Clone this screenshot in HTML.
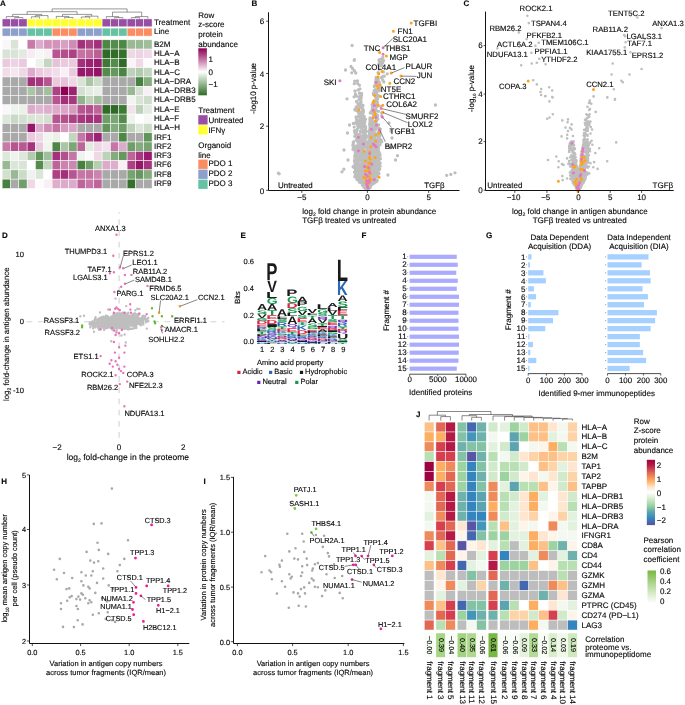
<!DOCTYPE html>
<html><head><meta charset="utf-8"><title>Figure</title>
<style>html,body{margin:0;padding:0;background:#fff}svg{display:block}text{font-family:"Liberation Sans",sans-serif;text-rendering:geometricPrecision;stroke:#000;stroke-width:0.13px}</style></head>
<body>
<svg width="685" height="705" viewBox="0 0 685 705" fill="#0a0a0a">
<rect width="685" height="705" fill="#fff"/>
<!-- Panel A -->
<text x="0.00" y="5.80" font-size="8" font-weight="bold">A</text>
<g stroke="#fff" stroke-width="0.5">
<rect x="2.15" y="18.90" width="8.33" height="7.90" fill="#984ea3"/>
<rect x="2.15" y="28.10" width="8.33" height="8.00" fill="#8da0cb"/>
<rect x="10.48" y="18.90" width="8.33" height="7.90" fill="#984ea3"/>
<rect x="10.48" y="28.10" width="8.33" height="8.00" fill="#8da0cb"/>
<rect x="18.81" y="18.90" width="8.33" height="7.90" fill="#984ea3"/>
<rect x="18.81" y="28.10" width="8.33" height="8.00" fill="#8da0cb"/>
<rect x="27.14" y="18.90" width="8.33" height="7.90" fill="#ffff33"/>
<rect x="27.14" y="28.10" width="8.33" height="8.00" fill="#66c2a5"/>
<rect x="35.47" y="18.90" width="8.33" height="7.90" fill="#ffff33"/>
<rect x="35.47" y="28.10" width="8.33" height="8.00" fill="#66c2a5"/>
<rect x="43.80" y="18.90" width="8.33" height="7.90" fill="#ffff33"/>
<rect x="43.80" y="28.10" width="8.33" height="8.00" fill="#66c2a5"/>
<rect x="52.13" y="18.90" width="8.33" height="7.90" fill="#ffff33"/>
<rect x="52.13" y="28.10" width="8.33" height="8.00" fill="#fc8d62"/>
<rect x="60.46" y="18.90" width="8.33" height="7.90" fill="#ffff33"/>
<rect x="60.46" y="28.10" width="8.33" height="8.00" fill="#fc8d62"/>
<rect x="68.79" y="18.90" width="8.33" height="7.90" fill="#ffff33"/>
<rect x="68.79" y="28.10" width="8.33" height="8.00" fill="#fc8d62"/>
<rect x="77.12" y="18.90" width="8.33" height="7.90" fill="#ffff33"/>
<rect x="77.12" y="28.10" width="8.33" height="8.00" fill="#8da0cb"/>
<rect x="85.45" y="18.90" width="8.33" height="7.90" fill="#ffff33"/>
<rect x="85.45" y="28.10" width="8.33" height="8.00" fill="#8da0cb"/>
<rect x="93.78" y="18.90" width="8.33" height="7.90" fill="#ffff33"/>
<rect x="93.78" y="28.10" width="8.33" height="8.00" fill="#8da0cb"/>
<rect x="102.11" y="18.90" width="8.33" height="7.90" fill="#984ea3"/>
<rect x="102.11" y="28.10" width="8.33" height="8.00" fill="#66c2a5"/>
<rect x="110.44" y="18.90" width="8.33" height="7.90" fill="#984ea3"/>
<rect x="110.44" y="28.10" width="8.33" height="8.00" fill="#66c2a5"/>
<rect x="118.77" y="18.90" width="8.33" height="7.90" fill="#984ea3"/>
<rect x="118.77" y="28.10" width="8.33" height="8.00" fill="#66c2a5"/>
<rect x="127.10" y="18.90" width="8.33" height="7.90" fill="#984ea3"/>
<rect x="127.10" y="28.10" width="8.33" height="8.00" fill="#fc8d62"/>
<rect x="135.43" y="18.90" width="8.33" height="7.90" fill="#984ea3"/>
<rect x="135.43" y="28.10" width="8.33" height="8.00" fill="#fc8d62"/>
<rect x="143.76" y="18.90" width="8.33" height="7.90" fill="#984ea3"/>
<rect x="143.76" y="28.10" width="8.33" height="8.00" fill="#fc8d62"/>
<rect x="2.15" y="39.80" width="8.33" height="9.29" fill="#fbf6f9"/>
<rect x="10.48" y="39.80" width="8.33" height="9.29" fill="#d9e4d6"/>
<rect x="18.81" y="39.80" width="8.33" height="9.29" fill="#ffffff"/>
<rect x="27.14" y="39.80" width="8.33" height="9.29" fill="#c77aa8"/>
<rect x="35.47" y="39.80" width="8.33" height="9.29" fill="#dcaaca"/>
<rect x="43.80" y="39.80" width="8.33" height="9.29" fill="#d292b9"/>
<rect x="52.13" y="39.80" width="8.33" height="9.29" fill="#d292b9"/>
<rect x="60.46" y="39.80" width="8.33" height="9.29" fill="#d8a0c3"/>
<rect x="68.79" y="39.80" width="8.33" height="9.29" fill="#cf8db6"/>
<rect x="77.12" y="39.80" width="8.33" height="9.29" fill="#a3307a"/>
<rect x="85.45" y="39.80" width="8.33" height="9.29" fill="#ac4284"/>
<rect x="93.78" y="39.80" width="8.33" height="9.29" fill="#a3307a"/>
<rect x="102.11" y="39.80" width="8.33" height="9.29" fill="#4d8746"/>
<rect x="110.44" y="39.80" width="8.33" height="9.29" fill="#548c4d"/>
<rect x="118.77" y="39.80" width="8.33" height="9.29" fill="#4d8746"/>
<rect x="127.10" y="39.80" width="8.33" height="9.29" fill="#98b993"/>
<rect x="135.43" y="39.80" width="8.33" height="9.29" fill="#98b993"/>
<rect x="143.76" y="39.80" width="8.33" height="9.29" fill="#9fbe9b"/>
<rect x="2.15" y="49.09" width="8.33" height="9.29" fill="#d9e4d6"/>
<rect x="10.48" y="49.09" width="8.33" height="9.29" fill="#d9e4d6"/>
<rect x="18.81" y="49.09" width="8.33" height="9.29" fill="#e3ebe0"/>
<rect x="27.14" y="49.09" width="8.33" height="9.29" fill="#f7ecf3"/>
<rect x="35.47" y="49.09" width="8.33" height="9.29" fill="#f6f8f5"/>
<rect x="43.80" y="49.09" width="8.33" height="9.29" fill="#f9f0f5"/>
<rect x="52.13" y="49.09" width="8.33" height="9.29" fill="#b6558f"/>
<rect x="60.46" y="49.09" width="8.33" height="9.29" fill="#b24e8b"/>
<rect x="68.79" y="49.09" width="8.33" height="9.29" fill="#ac4284"/>
<rect x="77.12" y="49.09" width="8.33" height="9.29" fill="#c473a3"/>
<rect x="85.45" y="49.09" width="8.33" height="9.29" fill="#c26fa0"/>
<rect x="93.78" y="49.09" width="8.33" height="9.29" fill="#bb6096"/>
<rect x="102.11" y="49.09" width="8.33" height="9.29" fill="#2f6b27"/>
<rect x="110.44" y="49.09" width="8.33" height="9.29" fill="#326e2a"/>
<rect x="118.77" y="49.09" width="8.33" height="9.29" fill="#35712d"/>
<rect x="127.10" y="49.09" width="8.33" height="9.29" fill="#efd8e6"/>
<rect x="135.43" y="49.09" width="8.33" height="9.29" fill="#edd3e3"/>
<rect x="143.76" y="49.09" width="8.33" height="9.29" fill="#f0dae8"/>
<rect x="2.15" y="58.38" width="8.33" height="9.29" fill="#eacbde"/>
<rect x="10.48" y="58.38" width="8.33" height="9.29" fill="#edd3e3"/>
<rect x="18.81" y="58.38" width="8.33" height="9.29" fill="#eacbde"/>
<rect x="27.14" y="58.38" width="8.33" height="9.29" fill="#ffffff"/>
<rect x="35.47" y="58.38" width="8.33" height="9.29" fill="#edf2eb"/>
<rect x="43.80" y="58.38" width="8.33" height="9.29" fill="#c3d6bf"/>
<rect x="52.13" y="58.38" width="8.33" height="9.29" fill="#e6c3d9"/>
<rect x="60.46" y="58.38" width="8.33" height="9.29" fill="#eacbde"/>
<rect x="68.79" y="58.38" width="8.33" height="9.29" fill="#eacbde"/>
<rect x="77.12" y="58.38" width="8.33" height="9.29" fill="#a3307a"/>
<rect x="85.45" y="58.38" width="8.33" height="9.29" fill="#9c2372"/>
<rect x="93.78" y="58.38" width="8.33" height="9.29" fill="#991b6d"/>
<rect x="102.11" y="58.38" width="8.33" height="9.29" fill="#3e7936"/>
<rect x="110.44" y="58.38" width="8.33" height="9.29" fill="#548c4d"/>
<rect x="118.77" y="58.38" width="8.33" height="9.29" fill="#2f6b27"/>
<rect x="127.10" y="58.38" width="8.33" height="9.29" fill="#faf4f8"/>
<rect x="135.43" y="58.38" width="8.33" height="9.29" fill="#f0dae8"/>
<rect x="143.76" y="58.38" width="8.33" height="9.29" fill="#fdfbfd"/>
<rect x="2.15" y="67.67" width="8.33" height="9.29" fill="#f1dde9"/>
<rect x="10.48" y="67.67" width="8.33" height="9.29" fill="#f5e7f0"/>
<rect x="18.81" y="67.67" width="8.33" height="9.29" fill="#efd8e6"/>
<rect x="27.14" y="67.67" width="8.33" height="9.29" fill="#dcaaca"/>
<rect x="35.47" y="67.67" width="8.33" height="9.29" fill="#eacbde"/>
<rect x="43.80" y="67.67" width="8.33" height="9.29" fill="#edd3e3"/>
<rect x="52.13" y="67.67" width="8.33" height="9.29" fill="#f1dde9"/>
<rect x="60.46" y="67.67" width="8.33" height="9.29" fill="#f9f0f5"/>
<rect x="68.79" y="67.67" width="8.33" height="9.29" fill="#eacbde"/>
<rect x="77.12" y="67.67" width="8.33" height="9.29" fill="#96166a"/>
<rect x="85.45" y="67.67" width="8.33" height="9.29" fill="#991b6d"/>
<rect x="93.78" y="67.67" width="8.33" height="9.29" fill="#941265"/>
<rect x="102.11" y="67.67" width="8.33" height="9.29" fill="#548c4d"/>
<rect x="110.44" y="67.67" width="8.33" height="9.29" fill="#65975e"/>
<rect x="118.77" y="67.67" width="8.33" height="9.29" fill="#4a8443"/>
<rect x="127.10" y="67.67" width="8.33" height="9.29" fill="#bdd2b9"/>
<rect x="135.43" y="67.67" width="8.33" height="9.29" fill="#b2caae"/>
<rect x="143.76" y="67.67" width="8.33" height="9.29" fill="#c3d6bf"/>
<rect x="2.15" y="76.96" width="8.33" height="9.29" fill="#a9a9a9"/>
<rect x="10.48" y="76.96" width="8.33" height="9.29" fill="#a9a9a9"/>
<rect x="18.81" y="76.96" width="8.33" height="9.29" fill="#a9a9a9"/>
<rect x="27.14" y="76.96" width="8.33" height="9.29" fill="#a3307a"/>
<rect x="35.47" y="76.96" width="8.33" height="9.29" fill="#a7377e"/>
<rect x="43.80" y="76.96" width="8.33" height="9.29" fill="#b6558f"/>
<rect x="52.13" y="76.96" width="8.33" height="9.29" fill="#eacbde"/>
<rect x="60.46" y="76.96" width="8.33" height="9.29" fill="#e6c3d9"/>
<rect x="68.79" y="76.96" width="8.33" height="9.29" fill="#efd8e6"/>
<rect x="77.12" y="76.96" width="8.33" height="9.29" fill="#d9e4d6"/>
<rect x="85.45" y="76.96" width="8.33" height="9.29" fill="#aac6a6"/>
<rect x="93.78" y="76.96" width="8.33" height="9.29" fill="#cbdbc8"/>
<rect x="102.11" y="76.96" width="8.33" height="9.29" fill="#a9a9a9"/>
<rect x="110.44" y="76.96" width="8.33" height="9.29" fill="#a9a9a9"/>
<rect x="118.77" y="76.96" width="8.33" height="9.29" fill="#a9a9a9"/>
<rect x="127.10" y="76.96" width="8.33" height="9.29" fill="#a9a9a9"/>
<rect x="135.43" y="76.96" width="8.33" height="9.29" fill="#478140"/>
<rect x="143.76" y="76.96" width="8.33" height="9.29" fill="#84ac7e"/>
<rect x="2.15" y="86.25" width="8.33" height="9.29" fill="#a9a9a9"/>
<rect x="10.48" y="86.25" width="8.33" height="9.29" fill="#a9a9a9"/>
<rect x="18.81" y="86.25" width="8.33" height="9.29" fill="#a9a9a9"/>
<rect x="27.14" y="86.25" width="8.33" height="9.29" fill="#aac6a6"/>
<rect x="35.47" y="86.25" width="8.33" height="9.29" fill="#a9a9a9"/>
<rect x="43.80" y="86.25" width="8.33" height="9.29" fill="#a3c09e"/>
<rect x="52.13" y="86.25" width="8.33" height="9.29" fill="#ac4284"/>
<rect x="60.46" y="86.25" width="8.33" height="9.29" fill="#8e0152"/>
<rect x="68.79" y="86.25" width="8.33" height="9.29" fill="#9c2372"/>
<rect x="77.12" y="86.25" width="8.33" height="9.29" fill="#d3e0d0"/>
<rect x="85.45" y="86.25" width="8.33" height="9.29" fill="#e3ebe0"/>
<rect x="93.78" y="86.25" width="8.33" height="9.29" fill="#e9efe7"/>
<rect x="102.11" y="86.25" width="8.33" height="9.29" fill="#a9a9a9"/>
<rect x="110.44" y="86.25" width="8.33" height="9.29" fill="#a9a9a9"/>
<rect x="118.77" y="86.25" width="8.33" height="9.29" fill="#a9a9a9"/>
<rect x="127.10" y="86.25" width="8.33" height="9.29" fill="#98b993"/>
<rect x="135.43" y="86.25" width="8.33" height="9.29" fill="#d3e0d0"/>
<rect x="143.76" y="86.25" width="8.33" height="9.29" fill="#f9f0f5"/>
<rect x="2.15" y="95.54" width="8.33" height="9.29" fill="#a9a9a9"/>
<rect x="10.48" y="95.54" width="8.33" height="9.29" fill="#a9a9a9"/>
<rect x="18.81" y="95.54" width="8.33" height="9.29" fill="#a9a9a9"/>
<rect x="27.14" y="95.54" width="8.33" height="9.29" fill="#a9a9a9"/>
<rect x="35.47" y="95.54" width="8.33" height="9.29" fill="#a9a9a9"/>
<rect x="43.80" y="95.54" width="8.33" height="9.29" fill="#a9a9a9"/>
<rect x="52.13" y="95.54" width="8.33" height="9.29" fill="#b6558f"/>
<rect x="60.46" y="95.54" width="8.33" height="9.29" fill="#a3307a"/>
<rect x="68.79" y="95.54" width="8.33" height="9.29" fill="#a7377e"/>
<rect x="77.12" y="95.54" width="8.33" height="9.29" fill="#90b48b"/>
<rect x="85.45" y="95.54" width="8.33" height="9.29" fill="#bdd2b9"/>
<rect x="93.78" y="95.54" width="8.33" height="9.29" fill="#a3c09e"/>
<rect x="102.11" y="95.54" width="8.33" height="9.29" fill="#a9a9a9"/>
<rect x="110.44" y="95.54" width="8.33" height="9.29" fill="#a9a9a9"/>
<rect x="118.77" y="95.54" width="8.33" height="9.29" fill="#a9a9a9"/>
<rect x="127.10" y="95.54" width="8.33" height="9.29" fill="#f1f5ef"/>
<rect x="135.43" y="95.54" width="8.33" height="9.29" fill="#d9e4d6"/>
<rect x="143.76" y="95.54" width="8.33" height="9.29" fill="#ceddca"/>
<rect x="2.15" y="104.83" width="8.33" height="9.29" fill="#fbf6f9"/>
<rect x="10.48" y="104.83" width="8.33" height="9.29" fill="#eff3ed"/>
<rect x="18.81" y="104.83" width="8.33" height="9.29" fill="#ebf1e9"/>
<rect x="27.14" y="104.83" width="8.33" height="9.29" fill="#dcaaca"/>
<rect x="35.47" y="104.83" width="8.33" height="9.29" fill="#e1b6d2"/>
<rect x="43.80" y="104.83" width="8.33" height="9.29" fill="#deaecc"/>
<rect x="52.13" y="104.83" width="8.33" height="9.29" fill="#dcaaca"/>
<rect x="60.46" y="104.83" width="8.33" height="9.29" fill="#daa5c7"/>
<rect x="68.79" y="104.83" width="8.33" height="9.29" fill="#d69cc0"/>
<rect x="77.12" y="104.83" width="8.33" height="9.29" fill="#b6558f"/>
<rect x="85.45" y="104.83" width="8.33" height="9.29" fill="#b4518d"/>
<rect x="93.78" y="104.83" width="8.33" height="9.29" fill="#bd6499"/>
<rect x="102.11" y="104.83" width="8.33" height="9.29" fill="#2f6b27"/>
<rect x="110.44" y="104.83" width="8.33" height="9.29" fill="#2e6a26"/>
<rect x="118.77" y="104.83" width="8.33" height="9.29" fill="#3e7936"/>
<rect x="127.10" y="104.83" width="8.33" height="9.29" fill="#f3e2ed"/>
<rect x="135.43" y="104.83" width="8.33" height="9.29" fill="#bdd2b9"/>
<rect x="143.76" y="104.83" width="8.33" height="9.29" fill="#e3ebe0"/>
<rect x="2.15" y="114.12" width="8.33" height="9.29" fill="#dde7da"/>
<rect x="10.48" y="114.12" width="8.33" height="9.29" fill="#c8d9c5"/>
<rect x="18.81" y="114.12" width="8.33" height="9.29" fill="#d3e0d0"/>
<rect x="27.14" y="114.12" width="8.33" height="9.29" fill="#d9e4d6"/>
<rect x="35.47" y="114.12" width="8.33" height="9.29" fill="#dbe5d8"/>
<rect x="43.80" y="114.12" width="8.33" height="9.29" fill="#d3e0d0"/>
<rect x="52.13" y="114.12" width="8.33" height="9.29" fill="#b6558f"/>
<rect x="60.46" y="114.12" width="8.33" height="9.29" fill="#b4518d"/>
<rect x="68.79" y="114.12" width="8.33" height="9.29" fill="#ac4284"/>
<rect x="77.12" y="114.12" width="8.33" height="9.29" fill="#a7377e"/>
<rect x="85.45" y="114.12" width="8.33" height="9.29" fill="#a3307a"/>
<rect x="93.78" y="114.12" width="8.33" height="9.29" fill="#a5347c"/>
<rect x="102.11" y="114.12" width="8.33" height="9.29" fill="#6f9e69"/>
<rect x="110.44" y="114.12" width="8.33" height="9.29" fill="#7ba676"/>
<rect x="118.77" y="114.12" width="8.33" height="9.29" fill="#548c4d"/>
<rect x="127.10" y="114.12" width="8.33" height="9.29" fill="#eff3ed"/>
<rect x="135.43" y="114.12" width="8.33" height="9.29" fill="#ffffff"/>
<rect x="143.76" y="114.12" width="8.33" height="9.29" fill="#f6f8f5"/>
<rect x="2.15" y="123.41" width="8.33" height="9.29" fill="#a9a9a9"/>
<rect x="10.48" y="123.41" width="8.33" height="9.29" fill="#a9a9a9"/>
<rect x="18.81" y="123.41" width="8.33" height="9.29" fill="#a9a9a9"/>
<rect x="27.14" y="123.41" width="8.33" height="9.29" fill="#96166a"/>
<rect x="35.47" y="123.41" width="8.33" height="9.29" fill="#dcaaca"/>
<rect x="43.80" y="123.41" width="8.33" height="9.29" fill="#cf8db6"/>
<rect x="52.13" y="123.41" width="8.33" height="9.29" fill="#c473a3"/>
<rect x="60.46" y="123.41" width="8.33" height="9.29" fill="#d69cc0"/>
<rect x="68.79" y="123.41" width="8.33" height="9.29" fill="#daa5c7"/>
<rect x="77.12" y="123.41" width="8.33" height="9.29" fill="#a9a9a9"/>
<rect x="85.45" y="123.41" width="8.33" height="9.29" fill="#a9a9a9"/>
<rect x="93.78" y="123.41" width="8.33" height="9.29" fill="#a9a9a9"/>
<rect x="102.11" y="123.41" width="8.33" height="9.29" fill="#61955b"/>
<rect x="110.44" y="123.41" width="8.33" height="9.29" fill="#84ac7e"/>
<rect x="118.77" y="123.41" width="8.33" height="9.29" fill="#6f9e69"/>
<rect x="127.10" y="123.41" width="8.33" height="9.29" fill="#bdd2b9"/>
<rect x="135.43" y="123.41" width="8.33" height="9.29" fill="#dbe5d8"/>
<rect x="143.76" y="123.41" width="8.33" height="9.29" fill="#cbdbc8"/>
<rect x="2.15" y="132.70" width="8.33" height="9.29" fill="#a9a9a9"/>
<rect x="10.48" y="132.70" width="8.33" height="9.29" fill="#a9a9a9"/>
<rect x="18.81" y="132.70" width="8.33" height="9.29" fill="#a9a9a9"/>
<rect x="27.14" y="132.70" width="8.33" height="9.29" fill="#eacbde"/>
<rect x="35.47" y="132.70" width="8.33" height="9.29" fill="#efd8e6"/>
<rect x="43.80" y="132.70" width="8.33" height="9.29" fill="#f1f5ef"/>
<rect x="52.13" y="132.70" width="8.33" height="9.29" fill="#ebf1e9"/>
<rect x="60.46" y="132.70" width="8.33" height="9.29" fill="#ffffff"/>
<rect x="68.79" y="132.70" width="8.33" height="9.29" fill="#c3d6bf"/>
<rect x="77.12" y="132.70" width="8.33" height="9.29" fill="#c576a6"/>
<rect x="85.45" y="132.70" width="8.33" height="9.29" fill="#ac4284"/>
<rect x="93.78" y="132.70" width="8.33" height="9.29" fill="#9c2372"/>
<rect x="102.11" y="132.70" width="8.33" height="9.29" fill="#a9a9a9"/>
<rect x="110.44" y="132.70" width="8.33" height="9.29" fill="#a9a9a9"/>
<rect x="118.77" y="132.70" width="8.33" height="9.29" fill="#4d8746"/>
<rect x="127.10" y="132.70" width="8.33" height="9.29" fill="#a9a9a9"/>
<rect x="135.43" y="132.70" width="8.33" height="9.29" fill="#a9a9a9"/>
<rect x="143.76" y="132.70" width="8.33" height="9.29" fill="#61955b"/>
<rect x="2.15" y="141.99" width="8.33" height="9.29" fill="#c77aa8"/>
<rect x="10.48" y="141.99" width="8.33" height="9.29" fill="#b6558f"/>
<rect x="18.81" y="141.99" width="8.33" height="9.29" fill="#b85992"/>
<rect x="27.14" y="141.99" width="8.33" height="9.29" fill="#a5347c"/>
<rect x="35.47" y="141.99" width="8.33" height="9.29" fill="#eacbde"/>
<rect x="43.80" y="141.99" width="8.33" height="9.29" fill="#f1f5ef"/>
<rect x="52.13" y="141.99" width="8.33" height="9.29" fill="#4d8746"/>
<rect x="60.46" y="141.99" width="8.33" height="9.29" fill="#aac6a6"/>
<rect x="68.79" y="141.99" width="8.33" height="9.29" fill="#7ba676"/>
<rect x="77.12" y="141.99" width="8.33" height="9.29" fill="#bd6499"/>
<rect x="85.45" y="141.99" width="8.33" height="9.29" fill="#e3ebe0"/>
<rect x="93.78" y="141.99" width="8.33" height="9.29" fill="#eed6e5"/>
<rect x="102.11" y="141.99" width="8.33" height="9.29" fill="#f3e2ed"/>
<rect x="110.44" y="141.99" width="8.33" height="9.29" fill="#c576a6"/>
<rect x="118.77" y="141.99" width="8.33" height="9.29" fill="#dcaaca"/>
<rect x="127.10" y="141.99" width="8.33" height="9.29" fill="#6f9e69"/>
<rect x="135.43" y="141.99" width="8.33" height="9.29" fill="#84ac7e"/>
<rect x="143.76" y="141.99" width="8.33" height="9.29" fill="#77a371"/>
<rect x="2.15" y="151.28" width="8.33" height="9.29" fill="#dde7da"/>
<rect x="10.48" y="151.28" width="8.33" height="9.29" fill="#eff3ed"/>
<rect x="18.81" y="151.28" width="8.33" height="9.29" fill="#dde7da"/>
<rect x="27.14" y="151.28" width="8.33" height="9.29" fill="#b2caae"/>
<rect x="35.47" y="151.28" width="8.33" height="9.29" fill="#61955b"/>
<rect x="43.80" y="151.28" width="8.33" height="9.29" fill="#9fbe9b"/>
<rect x="52.13" y="151.28" width="8.33" height="9.29" fill="#a3307a"/>
<rect x="60.46" y="151.28" width="8.33" height="9.29" fill="#b4518d"/>
<rect x="68.79" y="151.28" width="8.33" height="9.29" fill="#c576a6"/>
<rect x="77.12" y="151.28" width="8.33" height="9.29" fill="#eff3ed"/>
<rect x="85.45" y="151.28" width="8.33" height="9.29" fill="#fdf9fb"/>
<rect x="93.78" y="151.28" width="8.33" height="9.29" fill="#efd8e6"/>
<rect x="102.11" y="151.28" width="8.33" height="9.29" fill="#bdd2b9"/>
<rect x="110.44" y="151.28" width="8.33" height="9.29" fill="#84ac7e"/>
<rect x="118.77" y="151.28" width="8.33" height="9.29" fill="#65975e"/>
<rect x="127.10" y="151.28" width="8.33" height="9.29" fill="#bd6499"/>
<rect x="135.43" y="151.28" width="8.33" height="9.29" fill="#a7377e"/>
<rect x="143.76" y="151.28" width="8.33" height="9.29" fill="#991b6d"/>
<rect x="2.15" y="160.57" width="8.33" height="9.29" fill="#98b993"/>
<rect x="10.48" y="160.57" width="8.33" height="9.29" fill="#dbe5d8"/>
<rect x="18.81" y="160.57" width="8.33" height="9.29" fill="#d9e4d6"/>
<rect x="27.14" y="160.57" width="8.33" height="9.29" fill="#ffffff"/>
<rect x="35.47" y="160.57" width="8.33" height="9.29" fill="#548c4d"/>
<rect x="43.80" y="160.57" width="8.33" height="9.29" fill="#c3d6bf"/>
<rect x="52.13" y="160.57" width="8.33" height="9.29" fill="#bd6499"/>
<rect x="60.46" y="160.57" width="8.33" height="9.29" fill="#cb84af"/>
<rect x="68.79" y="160.57" width="8.33" height="9.29" fill="#cd88b2"/>
<rect x="77.12" y="160.57" width="8.33" height="9.29" fill="#478140"/>
<rect x="85.45" y="160.57" width="8.33" height="9.29" fill="#6f9e69"/>
<rect x="93.78" y="160.57" width="8.33" height="9.29" fill="#b6cdb1"/>
<rect x="102.11" y="160.57" width="8.33" height="9.29" fill="#dcaaca"/>
<rect x="110.44" y="160.57" width="8.33" height="9.29" fill="#deaecc"/>
<rect x="118.77" y="160.57" width="8.33" height="9.29" fill="#f9f0f5"/>
<rect x="127.10" y="160.57" width="8.33" height="9.29" fill="#ac4284"/>
<rect x="135.43" y="160.57" width="8.33" height="9.29" fill="#96166a"/>
<rect x="143.76" y="160.57" width="8.33" height="9.29" fill="#a5347c"/>
<rect x="2.15" y="169.86" width="8.33" height="9.29" fill="#d3e0d0"/>
<rect x="10.48" y="169.86" width="8.33" height="9.29" fill="#98b993"/>
<rect x="18.81" y="169.86" width="8.33" height="9.29" fill="#cbdbc8"/>
<rect x="27.14" y="169.86" width="8.33" height="9.29" fill="#eff3ed"/>
<rect x="35.47" y="169.86" width="8.33" height="9.29" fill="#dbe5d8"/>
<rect x="43.80" y="169.86" width="8.33" height="9.29" fill="#ffffff"/>
<rect x="52.13" y="169.86" width="8.33" height="9.29" fill="#ac4284"/>
<rect x="60.46" y="169.86" width="8.33" height="9.29" fill="#a3307a"/>
<rect x="68.79" y="169.86" width="8.33" height="9.29" fill="#b6558f"/>
<rect x="77.12" y="169.86" width="8.33" height="9.29" fill="#c576a6"/>
<rect x="85.45" y="169.86" width="8.33" height="9.29" fill="#c473a3"/>
<rect x="93.78" y="169.86" width="8.33" height="9.29" fill="#cb84af"/>
<rect x="102.11" y="169.86" width="8.33" height="9.29" fill="#a9a9a9"/>
<rect x="110.44" y="169.86" width="8.33" height="9.29" fill="#a9a9a9"/>
<rect x="118.77" y="169.86" width="8.33" height="9.29" fill="#a9a9a9"/>
<rect x="127.10" y="169.86" width="8.33" height="9.29" fill="#77a371"/>
<rect x="135.43" y="169.86" width="8.33" height="9.29" fill="#65975e"/>
<rect x="143.76" y="169.86" width="8.33" height="9.29" fill="#84ac7e"/>
<rect x="2.15" y="179.15" width="8.33" height="9.29" fill="#478140"/>
<rect x="10.48" y="179.15" width="8.33" height="9.29" fill="#a9a9a9"/>
<rect x="18.81" y="179.15" width="8.33" height="9.29" fill="#6f9e69"/>
<rect x="27.14" y="179.15" width="8.33" height="9.29" fill="#efd8e6"/>
<rect x="35.47" y="179.15" width="8.33" height="9.29" fill="#fdfbfd"/>
<rect x="43.80" y="179.15" width="8.33" height="9.29" fill="#f9f0f5"/>
<rect x="52.13" y="179.15" width="8.33" height="9.29" fill="#deaecc"/>
<rect x="60.46" y="179.15" width="8.33" height="9.29" fill="#dcaaca"/>
<rect x="68.79" y="179.15" width="8.33" height="9.29" fill="#dcaaca"/>
<rect x="77.12" y="179.15" width="8.33" height="9.29" fill="#bd6499"/>
<rect x="85.45" y="179.15" width="8.33" height="9.29" fill="#c576a6"/>
<rect x="93.78" y="179.15" width="8.33" height="9.29" fill="#bd6499"/>
<rect x="102.11" y="179.15" width="8.33" height="9.29" fill="#a9a9a9"/>
<rect x="110.44" y="179.15" width="8.33" height="9.29" fill="#a9a9a9"/>
<rect x="118.77" y="179.15" width="8.33" height="9.29" fill="#a9a9a9"/>
<rect x="127.10" y="179.15" width="8.33" height="9.29" fill="#35712d"/>
<rect x="135.43" y="179.15" width="8.33" height="9.29" fill="#a9a9a9"/>
<rect x="143.76" y="179.15" width="8.33" height="9.29" fill="#a9a9a9"/>
</g>
<text x="154.00" y="46.71" font-size="8.00">B2M</text>
<text x="154.00" y="56.00" font-size="8.00">HLA−A</text>
<text x="154.00" y="65.29" font-size="8.00">HLA−B</text>
<text x="154.00" y="74.58" font-size="8.00">HLA−C</text>
<text x="154.00" y="83.87" font-size="8.00">HLA−DRA</text>
<text x="154.00" y="93.16" font-size="8.00">HLA−DRB3</text>
<text x="154.00" y="102.45" font-size="8.00">HLA−DRB5</text>
<text x="154.00" y="111.74" font-size="8.00">HLA−E</text>
<text x="154.00" y="121.03" font-size="8.00">HLA−F</text>
<text x="154.00" y="130.32" font-size="8.00">HLA−H</text>
<text x="154.00" y="139.61" font-size="8.00">IRF1</text>
<text x="154.00" y="148.90" font-size="8.00">IRF2</text>
<text x="154.00" y="158.19" font-size="8.00">IRF3</text>
<text x="154.00" y="167.48" font-size="8.00">IRF6</text>
<text x="154.00" y="176.77" font-size="8.00">IRF8</text>
<text x="154.00" y="186.06" font-size="8.00">IRF9</text>
<text x="154.00" y="25.06" font-size="8.00">Treatment</text>
<text x="154.00" y="34.26" font-size="8.00">Line</text>
<path d="M14.6 18.6V17.6H23.0V18.6M6.3 18.6V16.6H18.8V17.6M31.3 18.6V16.8H39.6V18.6M35.5 16.8V15.6H48.0V18.6M64.6 18.6V17.4H73.0V18.6M56.3 18.6V16.4H68.8V17.4M81.3 18.6V17.0H89.6V18.6M85.5 17.0V16.2H97.9V18.6M114.6 18.6V17.6H122.9V18.6M106.3 18.6V16.6H118.8V17.6M131.3 18.6V17.6H139.6V18.6M135.4 17.6V16.6H147.9V18.6M12.6 16.6V14.4H41.7V15.6M62.5 16.4V14.4H91.7V16.2M112.5 16.6V12.1H141.7V16.6M27.1 14.4V11.7H77.1V14.4M52.1 11.7V8.9H127.1V12.1" stroke="#333" stroke-width="0.50" fill="none"/>
<text x="198.30" y="17.66" font-size="8.00">Row</text>
<text x="198.30" y="27.46" font-size="8.00">z-score</text>
<text x="198.30" y="37.26" font-size="8.00">protein</text>
<text x="198.30" y="47.06" font-size="8.00">abundance</text>
<defs><linearGradient id="gA" x1="0" y1="0" x2="0" y2="1"><stop offset="0" stop-color="#8e0152"/><stop offset="0.25" stop-color="#c77aa8"/><stop offset="0.5" stop-color="#ffffff"/><stop offset="0.75" stop-color="#98b993"/><stop offset="1" stop-color="#2f6b27"/></linearGradient></defs>
<rect x="198.30" y="48.30" width="8.60" height="47.00" fill="url(#gA)"/>
<text x="208.50" y="61.86" font-size="8.00">1</text>
<text x="208.50" y="74.56" font-size="8.00">0</text>
<text x="208.50" y="86.86" font-size="8.00">−1</text>
<text x="198.30" y="113.46" font-size="8.00">Treatment</text>
<rect x="198.30" y="115.20" width="9.30" height="9.30" fill="#984ea3"/>
<text x="208.40" y="123.36" font-size="8.00">Untreated</text>
<rect x="198.30" y="125.20" width="9.30" height="9.30" fill="#ffff33"/>
<text x="208.40" y="133.16" font-size="8.00">IFNγ</text>
<text x="198.30" y="148.26" font-size="8.00">Organoid</text>
<text x="198.30" y="157.96" font-size="8.00">line</text>
<rect x="198.30" y="159.60" width="9.30" height="9.30" fill="#fc8d62"/>
<text x="208.40" y="166.46" font-size="8.00">PDO 1</text>
<rect x="198.30" y="169.60" width="9.30" height="9.30" fill="#8da0cb"/>
<text x="208.40" y="176.46" font-size="8.00">PDO 2</text>
<rect x="198.30" y="179.60" width="9.30" height="9.30" fill="#66c2a5"/>
<text x="208.40" y="186.46" font-size="8.00">PDO 3</text>
<!-- Panel B -->
<text x="251.40" y="6.20" font-size="8" font-weight="bold">B</text>
<path d="M363.3 172.6h0M367.4 187.4h0M363.0 183.4h0M371.1 180.6h0M366.8 186.4h0M372.0 177.2h0M367.7 182.1h0M370.0 139.1h0M367.8 162.0h0M367.6 168.5h0M368.0 186.4h0M376.2 155.5h0M378.6 170.3h0M367.4 151.6h0M368.1 148.6h0M356.3 167.6h0M366.6 181.6h0M373.7 101.9h0M372.8 183.5h0M370.7 176.1h0M368.6 187.8h0M361.7 125.6h0M366.7 158.4h0M371.9 164.1h0M373.4 179.4h0M373.8 143.6h0M359.7 123.6h0M365.2 181.2h0M353.4 144.0h0M361.1 115.5h0M364.7 176.4h0M372.3 159.7h0M367.3 188.8h0M369.5 155.0h0M375.0 126.9h0M375.2 163.7h0M361.2 112.0h0M370.3 124.6h0M377.6 98.9h0M363.8 179.9h0M366.3 188.2h0M358.1 175.8h0M368.7 153.5h0M371.3 146.7h0M365.4 163.6h0M367.2 186.8h0M365.8 159.9h0M374.0 165.2h0M376.0 114.0h0M365.6 132.3h0M364.1 142.4h0M356.5 155.7h0M360.7 159.7h0M367.2 188.0h0M377.1 144.0h0M361.6 145.7h0M363.6 118.8h0M377.7 95.2h0M370.3 113.1h0M368.3 186.1h0M375.2 179.4h0M368.5 148.7h0M367.4 173.8h0M374.5 174.6h0M374.3 179.7h0M360.1 175.9h0M368.5 157.8h0M373.4 93.2h0M366.5 173.9h0M371.9 136.6h0M361.4 151.6h0M374.2 147.1h0M371.2 130.3h0M358.9 144.2h0M368.1 179.2h0M363.8 180.0h0M372.1 153.6h0M376.7 159.6h0M354.0 167.6h0M355.3 151.8h0M374.2 158.0h0M369.4 187.3h0M368.6 146.5h0M362.4 150.4h0M365.2 173.6h0M365.0 171.7h0M354.8 159.5h0M366.8 160.2h0M364.9 182.4h0M379.0 133.6h0M360.2 131.4h0M357.9 175.2h0M364.2 116.5h0M371.7 118.8h0M375.7 176.5h0M364.9 136.0h0M368.4 146.8h0M366.6 176.9h0M372.7 126.8h0M365.5 130.3h0M365.8 185.3h0M372.1 110.2h0M370.6 169.4h0M355.2 172.4h0M368.4 144.5h0M365.6 174.4h0M369.9 184.3h0M370.4 150.6h0M366.6 180.4h0M368.2 155.4h0M359.1 175.0h0M368.8 179.8h0M368.7 169.5h0M371.5 120.4h0M370.8 148.3h0M364.0 180.5h0M373.9 177.1h0M368.5 183.7h0M363.9 143.8h0M361.9 125.4h0M356.9 165.3h0M370.0 125.9h0M374.5 182.9h0M369.4 170.8h0M365.7 172.9h0M376.3 155.0h0M369.7 176.1h0M368.2 186.9h0M367.4 188.9h0M367.5 178.2h0M365.8 170.4h0M364.7 182.2h0M372.1 170.9h0M364.8 125.6h0M370.7 145.9h0M359.0 136.2h0M362.2 163.7h0M372.7 110.6h0M367.6 157.9h0M368.8 172.4h0M374.8 112.1h0M353.5 148.1h0M372.6 146.8h0M379.6 85.8h0M377.9 118.8h0M363.4 179.4h0M360.9 136.2h0M369.8 137.8h0M373.5 160.7h0M371.6 138.5h0M373.9 138.8h0M359.0 96.9h0M375.3 130.0h0M361.1 132.1h0M362.5 177.6h0M363.6 181.6h0M372.0 122.5h0M366.5 187.6h0M364.2 162.9h0M365.0 130.9h0M370.5 141.2h0M371.0 136.6h0M373.7 166.9h0M361.6 156.1h0M370.4 153.1h0M366.3 186.6h0M365.0 138.7h0M364.4 121.1h0M363.6 146.8h0M368.4 174.4h0M366.3 175.9h0M364.0 161.6h0M357.7 124.6h0M362.8 126.1h0M376.8 94.8h0M376.5 99.0h0M367.1 186.5h0M358.2 111.8h0M368.8 185.7h0M367.4 161.2h0M359.5 105.9h0M372.0 174.4h0M363.5 123.1h0M375.7 135.1h0M372.2 149.6h0M369.3 150.9h0M367.3 184.5h0M363.6 176.5h0M364.0 187.3h0M353.1 166.7h0M367.6 183.6h0M368.2 186.8h0M380.2 163.1h0M371.9 173.4h0M368.8 164.7h0M374.8 168.5h0M367.4 186.4h0M374.2 169.1h0M370.0 117.9h0M373.3 109.0h0M372.7 179.6h0M376.9 176.7h0M358.9 126.9h0M370.2 180.6h0M359.5 182.2h0M355.0 150.8h0M374.2 104.6h0M373.8 117.3h0M365.7 185.3h0M372.6 176.5h0M367.0 178.5h0M369.5 124.2h0M364.7 141.6h0M364.7 177.6h0M370.2 187.5h0M373.7 111.4h0M363.4 178.5h0M367.3 181.3h0M365.0 161.7h0M365.4 184.7h0M362.9 119.9h0M366.2 153.4h0M367.0 185.5h0M365.3 179.5h0M355.7 160.5h0M367.6 169.5h0M370.9 183.6h0M370.1 186.3h0M354.7 156.6h0M365.6 187.7h0M372.8 152.9h0M367.1 167.1h0M359.7 168.3h0M364.5 177.5h0M367.7 186.7h0M367.4 165.2h0M370.2 176.0h0M363.8 174.8h0M359.5 158.7h0M365.7 167.1h0M370.5 149.5h0M365.2 162.4h0M365.2 152.0h0M365.0 126.9h0M359.0 168.4h0M360.7 171.7h0M378.5 131.9h0M375.3 166.3h0M369.3 163.3h0M376.0 109.4h0M369.1 153.0h0M356.9 179.4h0M372.6 160.1h0M358.3 151.1h0M364.2 169.3h0M356.3 117.9h0M373.1 139.8h0M375.5 180.5h0M358.9 123.9h0M369.5 179.8h0M364.4 166.8h0M364.4 120.0h0M364.3 170.7h0M379.1 96.1h0M369.7 187.1h0M363.4 135.8h0M362.3 154.4h0M366.8 170.8h0M368.0 181.9h0M371.3 170.7h0M357.3 137.5h0M360.9 102.5h0M375.4 144.0h0M362.0 143.3h0M366.6 186.1h0M374.4 126.4h0M362.0 170.8h0M365.3 136.6h0M361.6 168.9h0M354.9 176.7h0M365.3 126.1h0M355.0 123.2h0M377.7 168.0h0M375.3 139.6h0M361.1 138.7h0M370.2 155.8h0M366.9 179.6h0M370.2 164.3h0M373.1 118.0h0M361.3 114.3h0M365.4 138.2h0M368.0 188.5h0M360.4 154.2h0M378.4 145.6h0M362.8 182.7h0M373.2 114.5h0M369.2 169.6h0M379.0 90.1h0M361.3 152.5h0M365.1 164.7h0M363.3 124.1h0M377.8 142.9h0M365.2 154.2h0M377.7 104.8h0M373.9 174.2h0M367.8 187.8h0M376.5 166.4h0M368.0 184.0h0M372.6 160.8h0M356.7 167.0h0M356.4 168.1h0M358.9 178.9h0M367.9 171.5h0M358.2 150.1h0M373.6 112.5h0M369.6 174.6h0M375.4 182.1h0M368.6 168.1h0M357.0 149.4h0M364.8 152.9h0M365.4 188.1h0M367.5 159.9h0M376.1 126.5h0M360.5 141.0h0M372.0 170.9h0M365.2 169.8h0M365.9 173.9h0M374.6 171.5h0M359.1 126.5h0M366.9 188.0h0M375.5 179.6h0M370.9 185.5h0M368.0 156.7h0M365.2 171.7h0M377.3 160.4h0M369.7 186.6h0M367.5 182.5h0M368.9 144.0h0M378.1 173.5h0M367.6 188.6h0M371.9 180.6h0M367.8 187.8h0M362.0 105.2h0M361.7 176.8h0M356.6 145.8h0M374.0 175.9h0M363.8 150.8h0M367.5 184.0h0M364.8 184.7h0M370.9 177.8h0M364.6 165.4h0M370.9 182.3h0M364.4 133.8h0M367.7 188.6h0M367.4 182.5h0M373.0 183.8h0M369.3 172.5h0M370.3 147.3h0M370.8 172.7h0M375.8 135.3h0M369.4 157.4h0M364.7 187.1h0M359.7 176.8h0M377.2 163.9h0M370.3 169.8h0M364.5 153.5h0M367.9 177.4h0M366.8 187.1h0M364.1 170.8h0M372.0 169.0h0M370.9 163.0h0M365.3 132.4h0M360.3 127.3h0M370.7 141.0h0M377.8 152.2h0M362.9 176.2h0M376.5 121.0h0M373.6 160.8h0M368.6 166.9h0M366.2 186.5h0M375.8 160.0h0M367.6 179.3h0M375.7 89.7h0M371.9 182.0h0M361.7 146.0h0M370.0 183.9h0M368.2 160.2h0M374.5 95.1h0M356.1 163.9h0M372.9 123.9h0M361.1 145.3h0M373.4 102.2h0M366.9 183.7h0M367.6 179.4h0M372.5 153.5h0M360.3 158.3h0M375.5 151.0h0M371.0 148.6h0M367.2 166.7h0M367.2 182.6h0M373.4 160.1h0M357.1 124.1h0M368.9 142.1h0M374.7 165.0h0M376.6 157.1h0M379.4 88.7h0M369.5 144.6h0M366.6 188.3h0M357.5 171.8h0M373.0 143.6h0M358.7 180.5h0M378.3 167.9h0M373.6 163.5h0M378.8 169.1h0M372.2 164.3h0M367.4 170.0h0M377.0 164.1h0M370.3 182.4h0M361.9 145.9h0M371.5 120.4h0M363.6 122.7h0M360.2 180.3h0M364.3 184.2h0M369.4 146.4h0M374.0 154.6h0M364.1 147.2h0M374.2 170.7h0M367.5 166.6h0M375.1 146.8h0M370.5 180.4h0M372.7 159.7h0M370.0 182.1h0M368.6 145.0h0M372.1 150.2h0M381.7 141.7h0M367.3 186.4h0M361.7 147.3h0M372.2 119.5h0M363.0 165.8h0M364.4 161.7h0M372.8 179.9h0M375.0 154.5h0M367.4 186.3h0M376.6 181.5h0M377.9 170.6h0M375.8 162.2h0M362.6 183.2h0M356.5 133.6h0M360.8 169.0h0M365.6 185.9h0M365.3 183.3h0M372.9 177.5h0M363.7 178.1h0M366.6 187.4h0M368.1 181.5h0M368.1 154.9h0M364.7 167.8h0M362.0 144.9h0M376.3 134.0h0M371.4 149.8h0M364.8 158.2h0M374.3 86.5h0M364.1 174.0h0M379.7 128.7h0M362.4 166.7h0M361.4 157.1h0M368.7 156.6h0M367.3 185.1h0M360.9 180.9h0M371.3 151.4h0M372.4 184.0h0M365.4 173.8h0M366.4 142.3h0M362.4 182.5h0M366.8 178.4h0M368.8 182.7h0M371.3 177.0h0M373.6 145.9h0M364.4 177.8h0M364.7 161.6h0M378.4 73.2h0M370.6 184.1h0M366.5 179.0h0M373.1 183.6h0M362.8 158.6h0M370.7 120.6h0M367.1 185.4h0M367.3 188.5h0M374.7 160.5h0M368.1 171.3h0M367.7 189.0h0M368.1 183.6h0M361.2 97.6h0M380.8 106.4h0M373.8 174.7h0M365.2 158.8h0M376.2 92.8h0M370.5 169.8h0M373.5 162.2h0M371.6 180.7h0M365.4 179.3h0M362.8 178.4h0M364.6 166.1h0M367.8 188.3h0M374.2 146.7h0M375.1 150.4h0M367.1 175.6h0M366.4 188.2h0M374.2 166.3h0M359.2 138.9h0M373.1 180.2h0M372.0 178.1h0M378.7 137.3h0M368.6 180.0h0M370.5 165.9h0M377.9 139.6h0M367.3 176.3h0M363.1 173.4h0M369.5 186.9h0M368.4 170.1h0M369.1 176.8h0M379.1 164.1h0M358.3 146.5h0M373.1 130.7h0M371.0 174.7h0M362.4 181.2h0M368.1 177.3h0M382.8 57.4h0M369.5 184.2h0M361.8 108.0h0M380.1 166.2h0M361.0 117.2h0M364.6 184.1h0M373.0 134.3h0M362.8 112.1h0M358.7 144.6h0M377.5 124.8h0M368.7 187.9h0M361.0 179.7h0M355.2 133.4h0M375.8 114.8h0M359.9 139.0h0M365.8 135.9h0M379.6 131.6h0M369.3 172.2h0M361.5 122.4h0M369.6 170.1h0M370.3 159.0h0M369.7 165.8h0M367.2 188.8h0M368.6 150.2h0M371.4 175.6h0M364.5 182.6h0M366.5 181.6h0M369.7 180.5h0M372.2 138.2h0M364.4 139.7h0M376.9 174.1h0M375.3 123.2h0M363.3 121.3h0M377.5 77.7h0M357.5 168.4h0M358.5 116.6h0M367.4 185.1h0M361.2 168.5h0M366.4 183.4h0M374.7 142.1h0M364.1 137.6h0M368.6 186.4h0M377.4 99.5h0M367.9 168.7h0M373.0 166.5h0M379.4 90.7h0M372.8 181.8h0M374.4 153.2h0M365.4 134.6h0M364.5 144.4h0M370.2 167.5h0M368.3 177.0h0M363.7 162.8h0M360.7 171.8h0M369.6 184.7h0M372.2 181.7h0M359.5 175.9h0M366.3 155.7h0M381.9 64.6h0M353.3 142.5h0M367.7 183.7h0M367.6 173.2h0M361.4 158.6h0M369.6 184.1h0M361.3 144.5h0M368.4 151.7h0M366.4 188.4h0M363.0 168.4h0M376.3 81.0h0M360.5 145.0h0M362.9 137.6h0M362.3 145.1h0M370.4 136.0h0M367.8 185.0h0M368.6 176.0h0M362.5 181.9h0M378.0 160.3h0M371.4 183.3h0M368.5 186.7h0M358.8 136.7h0M376.1 102.6h0M375.8 101.8h0M360.8 154.0h0M368.9 159.0h0M371.3 180.4h0M371.1 167.4h0M366.8 173.6h0M379.7 141.6h0M379.0 157.8h0M369.2 184.2h0M360.6 104.1h0M357.9 108.5h0M368.5 183.7h0M366.5 188.1h0M367.2 147.9h0M372.6 179.6h0M368.9 172.5h0M370.1 170.0h0M367.6 175.8h0M374.4 125.8h0M366.9 185.0h0M356.6 159.2h0M369.6 179.1h0M355.4 175.0h0M370.5 172.3h0M373.5 143.4h0M367.7 169.3h0M366.4 162.1h0M363.1 149.1h0M367.7 161.3h0M364.6 153.4h0M352.9 149.3h0M381.1 140.0h0M364.9 186.1h0M380.4 90.0h0M369.3 185.0h0M370.5 179.8h0M360.8 178.3h0M372.7 131.6h0M362.6 143.9h0M368.3 170.7h0M379.7 169.1h0M369.9 155.3h0M380.1 141.4h0M372.3 178.5h0M371.1 180.2h0M363.5 179.7h0M361.2 125.2h0M368.9 186.2h0M371.2 184.5h0M364.1 160.8h0M363.3 135.1h0M368.7 187.4h0M357.0 158.9h0M370.6 143.6h0M378.4 147.6h0M367.1 179.4h0M363.3 171.8h0M367.8 186.0h0M370.7 167.9h0M359.0 165.0h0M375.9 168.0h0M369.4 164.6h0M383.4 71.9h0M369.3 151.9h0M363.2 136.2h0M366.2 185.4h0M365.7 166.3h0M363.0 105.4h0M369.7 175.3h0M357.7 145.8h0M373.3 159.1h0M377.9 95.3h0M372.6 179.4h0M361.5 136.5h0M362.3 140.2h0M369.0 167.4h0M368.8 162.7h0M371.1 175.9h0M378.5 111.3h0M364.6 184.5h0M365.5 188.5h0M366.6 188.0h0M372.3 169.4h0M360.4 118.6h0M373.3 137.3h0M371.0 172.4h0M378.1 72.7h0M361.6 95.3h0M377.9 164.2h0M375.6 166.7h0M363.8 160.6h0M374.7 112.8h0M362.9 148.3h0M370.2 121.3h0M357.4 129.3h0M368.2 177.1h0M375.3 172.1h0M367.1 148.0h0M365.8 177.6h0M370.1 177.1h0M369.2 160.5h0M366.7 172.2h0M368.4 183.5h0M365.5 119.2h0M373.9 146.8h0M375.3 140.6h0M370.7 182.9h0M365.7 127.9h0M362.2 118.1h0M364.1 185.3h0M368.8 177.4h0M360.2 172.5h0M379.3 82.1h0M368.7 165.2h0M357.4 169.2h0M367.8 162.5h0M356.1 166.8h0M372.1 166.5h0M371.6 164.1h0M364.9 156.1h0M367.0 179.3h0M377.8 164.5h0M356.1 139.9h0M365.5 178.3h0M362.9 175.3h0M373.3 171.1h0M374.4 142.2h0M375.0 164.3h0M363.7 137.8h0M367.1 169.0h0M368.6 168.4h0M367.3 187.4h0M365.5 146.5h0M358.3 171.4h0M356.4 158.6h0M357.6 173.5h0M366.1 169.8h0M375.2 126.5h0M373.6 183.0h0M363.0 113.5h0M368.0 180.3h0M364.8 122.5h0M370.8 179.6h0M367.2 184.6h0M363.8 140.5h0M362.3 155.9h0M379.9 65.8h0M354.7 81.1h0M369.5 143.1h0M369.1 187.2h0M356.7 121.0h0M379.8 153.6h0M365.4 173.2h0M368.2 179.3h0M361.8 179.1h0M363.0 153.3h0M355.4 170.1h0M366.7 151.4h0M362.8 174.9h0M354.9 162.4h0M364.9 163.2h0M375.8 95.7h0M374.1 176.9h0M369.5 164.7h0M364.6 184.1h0M371.4 148.5h0M361.5 125.0h0M371.5 167.9h0M373.0 176.9h0M370.2 163.1h0M365.7 156.1h0M366.4 177.0h0M379.3 138.7h0M374.8 116.5h0M356.6 110.0h0M374.0 145.7h0M368.1 187.1h0M375.4 147.3h0M380.4 158.7h0M371.9 182.5h0M364.2 139.9h0M364.7 167.4h0M361.6 121.4h0M366.5 183.7h0M359.0 156.5h0M365.6 169.5h0M362.4 171.6h0M355.0 155.0h0M377.4 119.3h0M381.2 142.1h0M363.9 125.6h0M370.1 124.9h0M354.9 109.4h0M359.9 164.1h0M379.0 173.5h0M365.9 178.5h0M370.8 142.0h0M366.9 162.8h0M377.2 106.4h0M367.0 188.7h0M372.2 171.7h0M369.7 186.3h0M368.7 156.9h0M381.2 65.7h0M365.4 176.7h0M370.2 185.9h0M358.7 121.5h0M371.1 142.5h0M369.8 182.4h0M367.6 184.9h0M359.1 99.4h0M360.7 179.1h0M368.2 173.1h0M367.4 184.5h0M370.9 183.2h0M365.8 172.3h0M358.7 179.5h0M376.2 77.4h0M370.1 157.6h0M356.2 176.9h0M368.6 149.5h0M375.6 84.0h0M361.8 147.2h0M374.3 91.0h0M372.1 119.4h0M362.3 107.3h0M375.1 152.5h0M357.6 165.0h0M361.8 127.8h0M369.5 133.8h0M372.5 178.2h0M362.9 181.1h0M374.4 161.4h0M364.6 183.1h0M364.8 179.4h0M367.6 188.2h0M365.1 154.4h0M364.8 186.0h0M376.4 106.4h0M368.7 184.6h0M377.7 146.4h0M363.0 182.3h0M366.7 157.3h0M370.4 151.6h0M378.9 156.5h0M363.6 125.1h0M367.5 164.1h0M366.6 185.9h0M367.2 168.3h0M363.6 122.2h0M370.1 168.6h0M362.8 152.4h0M360.7 94.8h0M370.4 183.8h0M365.8 186.9h0M383.8 81.9h0M366.6 181.4h0M378.9 135.8h0M374.3 176.5h0M366.7 184.4h0M354.6 130.7h0M365.3 136.0h0M374.1 114.5h0M371.7 183.4h0M367.9 183.2h0M376.6 93.6h0M369.9 127.1h0M373.3 122.2h0M362.8 169.7h0M367.8 188.1h0M369.2 176.6h0M381.7 112.9h0M368.5 187.9h0M376.4 124.1h0M368.8 187.7h0M367.1 188.9h0M376.0 79.0h0M376.3 163.8h0M359.3 155.9h0M372.1 104.7h0M370.0 148.6h0M370.2 187.0h0M369.1 181.0h0M369.3 166.1h0M364.1 186.1h0M368.0 186.9h0M374.1 108.9h0M362.9 144.4h0M375.7 150.0h0M368.9 140.4h0M365.2 160.1h0M370.1 175.4h0M363.7 170.0h0M352.8 145.4h0M368.8 145.2h0M368.6 186.3h0M377.6 115.5h0M365.2 142.6h0M368.3 174.6h0M370.5 168.4h0M366.0 182.6h0M363.1 129.9h0M363.5 155.6h0M364.3 165.2h0M364.0 137.3h0M367.0 184.0h0M360.0 88.8h0M362.4 141.7h0M368.3 169.4h0M371.4 183.2h0M365.5 164.9h0M361.1 101.3h0M368.3 185.5h0M367.7 187.6h0M358.3 159.4h0M363.4 111.8h0M366.1 188.1h0M356.2 107.0h0M368.3 185.7h0M372.3 167.7h0M378.9 88.8h0M356.8 102.1h0M357.6 141.5h0M371.1 184.0h0M365.1 184.7h0M364.4 180.3h0M370.9 161.3h0M357.8 179.3h0M363.9 158.9h0M370.1 185.1h0M361.5 119.2h0M361.1 128.2h0M358.2 142.8h0M359.8 179.6h0M369.6 185.3h0M365.6 178.6h0M359.9 115.3h0M369.1 135.3h0M362.4 136.3h0M359.7 179.3h0M367.9 188.6h0M379.8 88.0h0M372.4 106.4h0M377.1 91.5h0M363.2 178.8h0M360.5 142.9h0M358.9 116.0h0M365.3 184.1h0M367.5 172.9h0M366.6 183.3h0M367.0 187.1h0M377.0 173.1h0M374.3 135.1h0M367.7 186.3h0M377.6 156.6h0M377.5 90.5h0M367.2 188.4h0M369.9 121.5h0M367.6 174.0h0M370.7 177.9h0M371.7 160.5h0M373.2 103.2h0M374.6 163.1h0M371.0 174.3h0M370.2 181.7h0M363.7 120.0h0M378.9 84.7h0M368.8 183.1h0M368.1 188.0h0M365.1 155.6h0M376.4 118.7h0M374.5 181.0h0M361.8 120.2h0M357.3 175.2h0M367.7 187.3h0M380.0 144.8h0M362.8 166.6h0M356.4 110.5h0M370.5 149.5h0M373.0 129.8h0M367.9 185.0h0M365.1 126.4h0M367.9 185.6h0M362.3 182.4h0M368.0 183.0h0M365.6 141.6h0M366.4 186.9h0M371.1 137.4h0M365.3 154.1h0M358.1 136.8h0M368.3 170.8h0M370.9 111.9h0M364.7 182.2h0M358.1 164.6h0M372.9 181.0h0M359.9 115.0h0M375.3 170.4h0M373.0 128.7h0M369.8 180.6h0M372.0 178.7h0M367.6 161.0h0M376.0 110.5h0M367.6 183.7h0M366.9 160.2h0M362.7 182.7h0M380.9 141.9h0M366.0 178.7h0M378.3 79.6h0M375.2 151.0h0M361.3 161.0h0M364.8 120.8h0M364.3 131.9h0M375.6 101.3h0M367.8 174.1h0M370.6 172.2h0M364.9 165.1h0M367.6 186.4h0M367.1 157.7h0M369.2 156.5h0M364.7 129.9h0M370.7 171.4h0M370.5 161.2h0M370.7 182.0h0M367.2 151.9h0M368.4 181.0h0M369.9 185.3h0M366.2 169.4h0M366.0 178.3h0M366.3 185.9h0M368.0 166.1h0M364.5 182.7h0M374.7 133.5h0M371.7 178.5h0M357.9 107.9h0M378.1 83.4h0M367.4 173.6h0M368.1 142.1h0M370.1 160.4h0M359.2 142.0h0M367.9 155.9h0M370.3 135.1h0M354.4 160.8h0M370.1 168.8h0M368.3 188.8h0M374.2 168.2h0M356.6 109.9h0M374.0 174.0h0M353.2 145.8h0M360.0 153.0h0M366.0 130.9h0M377.0 140.4h0M368.2 188.6h0M369.1 157.4h0M366.1 182.2h0M365.3 186.6h0M359.4 160.2h0M365.1 165.2h0M367.6 183.8h0M360.7 178.0h0M374.0 179.9h0M369.6 158.7h0M364.8 160.4h0M373.6 162.3h0M370.5 137.7h0M367.2 188.3h0M366.0 186.6h0M363.7 156.4h0M365.4 182.1h0M356.5 101.4h0M372.0 182.3h0M366.6 168.9h0M357.8 165.1h0M369.1 185.7h0M367.8 188.0h0M354.9 109.9h0M373.3 106.0h0M378.7 145.2h0M367.4 159.6h0M360.0 145.7h0M354.7 149.7h0M368.0 179.8h0M375.8 121.2h0M363.6 169.9h0M361.5 145.7h0M366.7 148.6h0M363.1 111.5h0M366.4 179.8h0M364.9 187.1h0M373.2 167.1h0M364.8 139.2h0M367.9 187.9h0M361.8 166.4h0M360.7 120.0h0M359.0 120.3h0M367.3 181.1h0M360.1 140.7h0M371.8 182.9h0M372.6 172.3h0M366.6 168.8h0M373.2 174.8h0M361.2 137.2h0M365.7 186.6h0M360.4 170.0h0M360.9 98.7h0M369.6 139.6h0M369.3 175.8h0M365.4 164.3h0M368.2 167.5h0M360.7 175.7h0M365.3 178.4h0M357.5 176.5h0M367.3 168.2h0M370.2 166.3h0M365.1 171.9h0M370.9 169.8h0M367.9 153.9h0M369.9 173.8h0M367.2 165.0h0M367.4 162.7h0M361.6 93.4h0M367.0 187.7h0M369.6 178.4h0M364.4 178.9h0M371.7 151.9h0M377.2 180.3h0M379.4 159.4h0M368.7 181.4h0M354.7 136.3h0M366.7 177.4h0M360.0 152.3h0M366.7 159.3h0M357.6 83.4h0M362.4 164.9h0M364.8 179.0h0M365.1 166.9h0M367.0 176.3h0M376.0 180.4h0M359.9 166.2h0M371.1 173.6h0M377.0 134.5h0M361.9 172.5h0M358.5 136.0h0M377.0 165.1h0M376.8 166.1h0M371.1 154.0h0M372.3 112.0h0M365.7 180.8h0M361.5 151.6h0M370.2 155.7h0M371.8 129.0h0M362.5 171.3h0M361.3 149.2h0M367.3 188.3h0M381.7 115.9h0M370.2 144.8h0M375.2 121.4h0M359.8 138.9h0M369.1 182.0h0M357.8 125.9h0M377.7 174.9h0M362.7 113.7h0M360.2 146.9h0M366.4 153.5h0M365.0 178.5h0M366.3 187.1h0M367.7 149.6h0M361.3 165.1h0M379.7 165.7h0M370.6 180.1h0M367.8 186.6h0M361.7 167.8h0M367.2 176.6h0M371.8 183.7h0M362.8 178.4h0M373.4 135.3h0M377.3 127.2h0M377.6 175.5h0M369.3 175.2h0M366.8 184.2h0M367.5 169.7h0M366.5 187.9h0M369.2 166.6h0M366.7 188.8h0M378.1 149.7h0M371.8 133.9h0M364.1 155.1h0M361.6 155.5h0M360.1 174.9h0M371.9 163.8h0M357.5 178.3h0M365.6 186.8h0M376.1 175.8h0M366.2 151.8h0M363.3 117.5h0M363.1 141.3h0M370.2 143.0h0M363.3 180.7h0M375.3 143.8h0M366.1 141.8h0M362.6 176.4h0M354.2 127.1h0M363.4 185.2h0M367.2 157.2h0M375.8 173.4h0M364.4 142.8h0M369.3 168.7h0M363.5 122.0h0M376.4 116.9h0M360.0 171.3h0M359.3 125.6h0M367.4 188.5h0M362.4 126.8h0M363.3 132.9h0M371.2 119.3h0M369.3 148.8h0M357.1 159.5h0M369.8 187.1h0M370.3 131.9h0M357.6 158.6h0M371.9 178.8h0M370.2 179.1h0M374.0 167.3h0M363.4 146.0h0M366.5 167.2h0M371.4 182.7h0M376.4 135.3h0M364.9 174.3h0M368.1 188.7h0M373.1 177.3h0M369.2 157.1h0M366.2 137.7h0M371.0 178.3h0M366.5 173.9h0M384.3 76.2h0M372.8 138.7h0M368.0 188.9h0M369.1 146.5h0M378.9 163.8h0M366.2 146.8h0M362.9 158.6h0M361.5 164.3h0M368.5 186.6h0M358.6 160.2h0M359.1 142.5h0M367.8 185.1h0M358.2 154.1h0M356.2 150.9h0M369.4 169.4h0M370.7 185.8h0M371.7 121.2h0M372.3 109.0h0M377.0 161.3h0M357.3 179.3h0M372.1 183.0h0M376.1 129.1h0M367.9 162.9h0M359.0 160.8h0M375.2 122.0h0M367.7 189.0h0M366.4 165.4h0M365.6 184.2h0M365.7 147.1h0M361.5 175.3h0M372.4 172.0h0M379.0 161.2h0M378.4 148.4h0M377.1 152.5h0M364.4 175.5h0M368.9 131.4h0M376.0 164.5h0M356.4 131.5h0M367.0 188.0h0M360.5 106.7h0M377.9 136.1h0M366.6 174.8h0M374.4 146.8h0M370.3 177.5h0M363.0 152.4h0M353.2 142.5h0M377.7 96.1h0M369.0 175.9h0M363.6 185.2h0M370.0 187.5h0M373.3 179.1h0M368.0 150.8h0M378.6 125.0h0M371.7 172.0h0M371.3 135.1h0M373.9 141.9h0M368.7 176.3h0M366.1 143.2h0M373.7 143.0h0M366.3 177.7h0M375.5 94.6h0M365.6 188.7h0M375.2 138.3h0M358.2 89.9h0M368.0 166.2h0M369.7 171.1h0M373.1 158.6h0M369.4 184.8h0M379.8 132.0h0M360.9 165.8h0M364.0 173.8h0M371.4 181.0h0M362.8 110.4h0M377.2 104.4h0M369.0 153.1h0M365.9 179.4h0M369.4 183.1h0M370.8 183.5h0M359.0 120.6h0M368.6 167.8h0M374.1 94.5h0M354.1 96.8h0M367.5 168.7h0M373.5 161.4h0M372.3 129.2h0M369.1 136.9h0M362.9 164.6h0M366.8 189.0h0M364.1 143.4h0M372.8 136.8h0M369.7 177.6h0M367.7 186.8h0M357.7 173.6h0M365.8 182.5h0M371.3 160.1h0M358.3 174.6h0M376.5 79.1h0M370.8 177.6h0M374.6 161.4h0M367.7 158.8h0M363.0 139.6h0M365.5 137.0h0M372.4 152.0h0M363.9 118.6h0M366.5 176.4h0M361.8 151.5h0M369.0 175.4h0M366.0 146.6h0M375.2 174.7h0M377.5 102.3h0M370.0 170.7h0M371.0 177.4h0M363.1 184.7h0M368.0 185.3h0M370.0 180.3h0M375.3 161.2h0M370.3 172.1h0M368.2 185.1h0M367.1 159.8h0M370.3 151.7h0M370.0 180.8h0M363.6 183.6h0M366.9 188.8h0M360.1 151.8h0M356.3 95.9h0M366.3 163.1h0M363.2 171.1h0M367.1 188.4h0M368.1 186.9h0M367.8 187.4h0M366.3 175.7h0M355.2 152.1h0M369.5 177.1h0M376.7 100.1h0M360.8 143.1h0M367.7 188.3h0M359.7 148.6h0M358.1 160.2h0M364.0 179.3h0M365.4 179.3h0M355.8 136.7h0M370.3 181.0h0M364.7 185.7h0M375.4 154.7h0M368.9 168.7h0M366.6 161.3h0M378.0 170.8h0M368.6 150.0h0M367.9 147.4h0M379.2 69.2h0M369.7 136.9h0M375.8 97.7h0M373.3 150.4h0M370.2 150.2h0M355.4 94.1h0M368.8 184.0h0M368.6 176.4h0M375.4 156.8h0M376.2 127.9h0M361.2 157.7h0M371.7 183.0h0M364.8 139.5h0M356.6 119.3h0M368.8 144.0h0M367.2 178.6h0M370.2 138.8h0M374.6 123.6h0M378.8 151.3h0M359.9 164.7h0M366.2 186.7h0M370.6 180.2h0M369.6 152.0h0M372.8 174.6h0M371.6 146.4h0M370.1 144.0h0M368.3 186.2h0M373.0 182.9h0M380.1 155.3h0M373.4 178.4h0M367.3 184.4h0M354.7 131.9h0M361.1 179.4h0M373.0 180.5h0M365.4 179.4h0M368.5 148.9h0M367.9 188.4h0M366.0 174.8h0M365.6 181.4h0M368.4 162.4h0M373.3 133.1h0M374.8 85.4h0M378.4 89.9h0M368.5 153.4h0M368.9 183.3h0M366.8 161.1h0M376.1 165.6h0M365.7 165.9h0M365.0 156.2h0M367.8 183.5h0M371.3 180.0h0M370.3 156.2h0M365.5 186.7h0M370.1 178.2h0M367.2 184.7h0M362.2 164.6h0M368.2 155.6h0M372.4 130.9h0M371.3 168.9h0M368.1 146.2h0M371.0 174.4h0M355.4 147.0h0M372.1 132.3h0M362.3 148.4h0M353.6 142.0h0M366.5 169.0h0M369.7 130.7h0M375.5 170.4h0M375.5 110.1h0M376.0 175.6h0M370.2 122.2h0M369.1 184.7h0M367.9 155.0h0M374.8 165.3h0M356.2 147.4h0M368.6 141.4h0M367.4 188.5h0M358.2 147.0h0M364.4 176.0h0M356.1 117.0h0M363.8 150.9h0M375.2 174.9h0M371.2 150.7h0M364.2 180.3h0M370.0 162.5h0M372.6 181.7h0M375.1 124.6h0M361.9 182.7h0M361.6 140.8h0M365.9 153.0h0M370.2 178.2h0M355.3 161.1h0M377.3 83.5h0M365.6 145.6h0M365.8 187.4h0M372.4 180.1h0M373.2 102.2h0M362.3 117.7h0M371.8 163.5h0M367.0 187.0h0M368.9 182.6h0M363.4 109.9h0M368.1 177.4h0M376.7 180.5h0M371.4 179.7h0M355.9 135.2h0M368.1 152.0h0M369.7 129.4h0M372.9 166.2h0M368.7 171.1h0M377.3 117.4h0M366.8 181.6h0M370.0 130.7h0M378.1 176.7h0M366.5 146.3h0M372.7 110.6h0M367.7 182.9h0M354.8 156.1h0M368.7 152.9h0M364.2 153.1h0M368.2 153.8h0M356.8 139.7h0M371.7 119.4h0M374.7 155.7h0M358.8 175.6h0M374.3 144.5h0M368.3 166.6h0M372.6 164.5h0M367.1 188.8h0M359.3 171.5h0M361.6 160.4h0M360.1 102.7h0M358.8 139.9h0M358.8 109.1h0M373.8 179.5h0M370.0 151.5h0M358.1 152.9h0M369.8 185.9h0M373.0 122.1h0M369.6 148.4h0M367.6 187.6h0M357.6 178.1h0M360.9 178.6h0M372.7 170.1h0M369.2 181.9h0M365.0 142.8h0M365.4 138.9h0M366.9 178.4h0M379.8 135.9h0M359.1 126.5h0M362.8 149.4h0M367.6 176.8h0M357.9 162.1h0M366.4 186.4h0M366.0 135.7h0M369.2 185.7h0M375.5 95.1h0M368.6 184.9h0M368.5 180.4h0M369.8 135.4h0M374.3 110.3h0M376.1 134.5h0M366.4 184.0h0M379.8 135.2h0M377.6 139.2h0M367.5 185.9h0M364.2 151.2h0M368.3 183.6h0M379.3 169.6h0M364.5 166.6h0M367.8 187.8h0M369.2 167.0h0M368.4 183.8h0M367.8 183.2h0M373.1 126.0h0M364.3 168.7h0M369.0 165.1h0M376.4 104.8h0M366.6 171.8h0M357.1 157.9h0M355.7 131.4h0M369.2 157.9h0M372.2 161.4h0M354.5 172.2h0M361.6 145.9h0M366.8 185.1h0M365.7 185.5h0M356.5 166.5h0M368.8 151.1h0M367.0 175.8h0M359.1 158.6h0M369.8 187.2h0M355.0 176.9h0M355.0 164.5h0M354.5 59.6h0M362.3 178.1h0M363.7 130.6h0M364.2 185.4h0M376.9 146.1h0M363.8 125.4h0M374.4 109.5h0M360.0 177.2h0M373.5 94.5h0M358.2 104.4h0M367.9 184.0h0M369.9 119.2h0M367.9 156.5h0M369.4 164.8h0M371.6 170.1h0M363.4 173.3h0M370.8 185.1h0M367.5 185.3h0M366.5 186.3h0M365.1 161.1h0M358.0 164.8h0M379.3 168.9h0M370.5 121.9h0M373.3 164.1h0M361.9 143.9h0M375.1 148.5h0M381.4 77.7h0M362.3 185.0h0M357.2 122.8h0M369.8 140.7h0M356.9 157.0h0M366.5 186.8h0M378.9 135.5h0M368.4 183.4h0M373.1 151.2h0M369.2 186.6h0M369.2 174.1h0M372.5 175.9h0M365.0 178.6h0M375.8 162.3h0M377.6 154.3h0M355.5 170.1h0M362.0 139.8h0M368.4 188.4h0M368.7 150.6h0M361.7 171.4h0M377.3 146.8h0M372.4 155.8h0M371.5 160.9h0M367.4 181.4h0M375.6 81.7h0M367.0 187.8h0M366.8 184.8h0M369.1 179.6h0M375.7 122.0h0M364.8 135.7h0M368.7 167.8h0M357.6 125.5h0M364.4 174.6h0M375.2 158.1h0M367.1 188.3h0M364.0 175.1h0M355.5 164.3h0M363.1 109.9h0M359.2 134.3h0M366.2 151.7h0M373.5 152.3h0M369.0 182.8h0M372.5 170.6h0M360.4 182.4h0M380.3 129.2h0M365.9 185.9h0M364.2 180.6h0M369.9 154.3h0M361.3 179.1h0M367.0 186.8h0M380.7 65.6h0M366.3 156.4h0M366.3 177.2h0M369.1 187.5h0M361.9 165.4h0M361.0 126.1h0M370.9 175.0h0M374.3 90.3h0M373.8 176.8h0M365.6 179.6h0M357.9 178.8h0M375.0 122.0h0M373.9 101.2h0M366.7 174.2h0M375.4 155.8h0M362.2 170.3h0M370.1 183.8h0M375.8 123.7h0M370.2 169.5h0M367.1 186.2h0M368.7 188.8h0M365.0 153.3h0M362.3 177.8h0M361.6 121.0h0M374.0 164.8h0M362.1 173.4h0M358.7 113.6h0M358.6 178.1h0M353.3 123.5h0M368.8 183.0h0M359.1 178.2h0M366.4 182.6h0M368.2 171.2h0M374.4 112.2h0M357.7 153.6h0M372.5 172.5h0M357.4 129.1h0M370.9 169.9h0M365.9 188.9h0M369.4 164.9h0M352.1 45.5h0M435.4 105.0h0M278.4 173.2h0M279.2 173.8h0M446.7 175.3h0M450.8 174.4h0M455.0 172.8h0M397.5 155.7h0M342.0 171.8h0M343.9 169.2h0M387.9 175.0h0M390.5 147.7h0M345.5 70.0h0M354.2 60.3h0M351.0 66.5h0M352.5 68.5h0M354.3 70.6h0M351.8 72.8h0M355.8 73.0h0M357.5 80.8h0M354.3 83.7h0M359.4 85.2h0M355.0 91.0h0M359.4 93.2h0M347.0 98.8h0M382.8 76.4h0M382.8 80.0h0M387.2 73.8h0M379.0 60.0h0M380.5 59.5h0M382.0 59.0h0M383.5 60.5h0M379.5 62.0h0M381.0 62.5h0M382.8 62.6h0M378.6 64.5h0M380.0 65.0h0M349.5 125.0h0M347.5 133.0h0M392.0 138.0h0M395.5 160.0h0M348.0 160.0h0M344.0 150.0h0M389.0 123.0h0M391.0 131.0h0" stroke="#bebebe" stroke-width="3.30" stroke-linecap="round" fill="none"/>
<path d="M411.2 23.1h0M393.4 31.3h0M379.6 52.6h0M386.4 56.0h0M382.0 71.6h0M378.7 73.8h0M378.1 76.9h0M391.2 72.9h0M401.0 76.1h0M389.8 83.3h0M380.1 84.7h0M376.9 85.9h0M378.0 88.1h0M374.7 95.4h0M380.6 96.4h0M374.0 100.8h0M373.3 102.7h0M378.1 105.2h0M382.8 105.2h0M358.7 110.0h0M374.7 112.5h0M382.8 112.2h0M375.2 114.7h0M372.8 117.6h0M375.5 121.0h0M375.9 134.9h0M371.1 137.6h0M379.1 133.2h0M375.9 141.3h0M370.7 146.8h0M364.2 151.2h0M369.9 151.9h0M369.6 157.0h0M370.1 158.8h0M375.2 157.5h0M365.5 161.1h0M370.4 162.4h0M368.9 163.6h0M365.3 166.5h0M367.4 167.6h0M369.2 169.5h0M368.2 170.9h0M365.3 170.9h0M370.4 173.8h0M363.8 177.2h0M366.0 178.2h0M369.6 177.5h0M379.1 177.2h0M371.1 179.7h0M366.0 182.6h0M368.2 184.1h0" stroke="#ffa31a" stroke-width="3.00" stroke-linecap="round" fill="none"/>
<path d="M383.1 47.7h0M383.1 54.2h0M339.9 80.8h0M376.2 82.3h0M374.3 105.6h0M381.3 108.4h0M373.3 110.3h0M375.9 117.3h0M382.3 116.9h0M376.5 124.9h0M371.4 129.3h0M379.4 129.7h0M358.4 137.3h0M363.4 143.9h0M373.3 143.9h0M374.7 145.4h0M376.2 146.8h0M358.4 150.8h0M369.6 153.4h0M371.8 164.3h0M364.5 166.5h0M368.9 167.6h0M369.6 172.4h0M365.5 174.3h0M367.4 176.0h0M374.3 179.4h0M368.9 180.4h0M366.7 181.1h0M369.3 182.3h0M366.7 184.3h0M367.4 186.2h0M367.9 187.7h0" stroke="#e377c2" stroke-width="3.00" stroke-linecap="round" fill="none"/>
<line x1="392.60" y1="38.80" x2="383.50" y2="47.20" stroke="#222" stroke-width="0.55"/>
<line x1="404.40" y1="67.70" x2="391.80" y2="72.80" stroke="#222" stroke-width="0.55"/>
<line x1="416.40" y1="76.40" x2="401.50" y2="76.10" stroke="#222" stroke-width="0.55"/>
<line x1="406.10" y1="114.40" x2="382.80" y2="108.90" stroke="#222" stroke-width="0.55"/>
<line x1="407.60" y1="122.70" x2="383.10" y2="112.50" stroke="#222" stroke-width="0.55"/>
<line x1="391.50" y1="127.40" x2="382.80" y2="117.60" stroke="#222" stroke-width="0.55"/>
<line x1="385.30" y1="141.70" x2="379.90" y2="130.50" stroke="#222" stroke-width="0.55"/>
<text x="413.60" y="25.56" font-size="8.00">TGFBI</text>
<text x="397.50" y="34.26" font-size="8.00">FN1</text>
<text x="392.70" y="42.26" font-size="8.00">SLC20A1</text>
<text x="363.80" y="50.96" font-size="8.00">TNC</text>
<text x="384.70" y="50.96" font-size="8.00">THBS1</text>
<text x="389.50" y="59.96" font-size="8.00">MGP</text>
<text x="365.40" y="69.56" font-size="8.00">COL4A1</text>
<text x="405.60" y="68.66" font-size="8.00">PLAUR</text>
<text x="416.80" y="78.26" font-size="8.00">JUN</text>
<text x="323.70" y="85.06" font-size="8.00">SKI</text>
<text x="393.40" y="84.36" font-size="8.00">CCN2</text>
<text x="380.80" y="92.06" font-size="8.00">NT5E</text>
<text x="383.10" y="99.16" font-size="8.00">CTHRC1</text>
<text x="386.30" y="107.16" font-size="8.00">COL6A2</text>
<text x="405.60" y="118.76" font-size="8.00">SMURF2</text>
<text x="407.80" y="127.36" font-size="8.00">LOXL2</text>
<text x="389.50" y="134.46" font-size="8.00">TGFB1</text>
<text x="384.70" y="148.96" font-size="8.00">BMPR2</text>
<path d="M268.5 12.3V190.5H459.5" stroke="#111" stroke-width="1.00" fill="none"/>
<line x1="266.10" y1="190.30" x2="268.50" y2="190.30" stroke="#222" stroke-width="0.80"/>
<text x="264.20" y="194.06" font-size="8.00" text-anchor="end">0</text>
<line x1="266.10" y1="126.20" x2="268.50" y2="126.20" stroke="#222" stroke-width="0.80"/>
<text x="264.20" y="129.26" font-size="8.00" text-anchor="end">2</text>
<line x1="266.10" y1="73.50" x2="268.50" y2="73.50" stroke="#222" stroke-width="0.80"/>
<text x="264.20" y="76.56" font-size="8.00" text-anchor="end">4</text>
<line x1="266.10" y1="21.20" x2="268.50" y2="21.20" stroke="#222" stroke-width="0.80"/>
<text x="264.20" y="24.06" font-size="8.00" text-anchor="end">6</text>
<line x1="301.80" y1="190.50" x2="301.80" y2="192.90" stroke="#222" stroke-width="0.80"/>
<text x="301.80" y="199.76" font-size="8.00" text-anchor="middle">−5</text>
<line x1="367.40" y1="190.50" x2="367.40" y2="192.90" stroke="#222" stroke-width="0.80"/>
<text x="367.40" y="199.76" font-size="8.00" text-anchor="middle">0</text>
<line x1="428.70" y1="190.50" x2="428.70" y2="192.90" stroke="#222" stroke-width="0.80"/>
<text x="428.70" y="199.76" font-size="8.00" text-anchor="middle">5</text>
<text x="278.10" y="187.53" font-size="7.90">Untreated</text>
<text x="424.20" y="187.53" font-size="7.90">TGFβ</text>
<text transform="translate(253.60 88.30) rotate(-90)" y="2.16" font-size="8.00" text-anchor="middle">-log10 p-value</text>
<text x="302.20" y="213.86" font-size="8.00">log<tspan font-size="5" dy="2">2</tspan><tspan dy="-2"> fold change in protein abundance</tspan></text>
<text x="302.20" y="223.46" font-size="8.00">TGFβ treated vs untreated</text>
<!-- Panel C -->
<text x="463.50" y="6.00" font-size="8" font-weight="bold">C</text>
<path d="M572.1 172.8h0M581.4 157.7h0M579.9 188.3h0M575.8 185.0h0M573.4 152.2h0M582.6 164.6h0M571.3 160.1h0M572.6 181.1h0M575.4 157.3h0M577.1 168.6h0M583.4 146.0h0M581.3 183.2h0M576.7 187.3h0M586.0 172.1h0M578.8 183.5h0M581.4 178.3h0M576.3 164.8h0M579.1 184.0h0M578.1 188.9h0M581.7 180.2h0M578.3 188.5h0M581.2 173.4h0M582.9 166.1h0M571.1 171.7h0M580.7 163.1h0M576.5 161.5h0M574.9 165.2h0M574.8 166.5h0M583.0 144.7h0M581.8 179.5h0M587.4 151.4h0M574.2 169.5h0M578.2 187.6h0M576.1 186.3h0M578.0 186.2h0M580.4 166.1h0M572.5 176.4h0M581.6 161.0h0M581.1 177.1h0M578.7 184.6h0M588.2 143.2h0M580.0 188.6h0M572.8 181.0h0M586.5 130.9h0M573.4 163.1h0M569.3 151.9h0M579.6 172.2h0M581.6 179.0h0M582.0 173.7h0M581.5 176.3h0M580.7 159.0h0M576.9 169.9h0M575.2 174.1h0M574.3 169.2h0M579.4 183.9h0M581.5 183.7h0M581.6 158.0h0M585.0 120.1h0M578.3 185.0h0M576.7 184.6h0M585.6 178.0h0M572.8 162.3h0M581.3 169.3h0M581.5 155.5h0M583.5 160.2h0M580.9 183.9h0M579.8 174.0h0M581.8 183.3h0M577.2 187.1h0M578.9 187.6h0M579.6 188.0h0M573.0 167.9h0M577.4 188.9h0M579.6 188.2h0M574.4 174.4h0M581.4 169.6h0M573.2 167.2h0M587.9 128.2h0M581.8 169.6h0M580.2 185.0h0M577.4 169.7h0M581.9 179.9h0M578.4 187.7h0M575.0 183.2h0M583.5 173.3h0M576.1 172.6h0M581.7 184.4h0M577.5 186.1h0M576.2 164.5h0M580.6 181.6h0M575.9 180.2h0M578.9 172.7h0M578.2 188.8h0M581.4 173.4h0M577.1 169.1h0M583.4 160.3h0M580.8 173.8h0M583.1 156.4h0M585.3 164.4h0M579.2 185.5h0M578.6 181.8h0M570.7 171.7h0M572.1 163.9h0M583.4 173.3h0M580.7 180.8h0M578.3 183.8h0M581.0 170.6h0M578.3 173.9h0M582.0 182.9h0M581.8 182.0h0M574.9 154.2h0M578.2 181.8h0M580.8 166.0h0M569.9 172.6h0M581.0 170.1h0M574.8 167.2h0M584.2 181.1h0M582.0 178.9h0M578.2 185.8h0M585.7 160.1h0M578.1 188.9h0M587.5 139.3h0M587.0 154.3h0M577.7 175.3h0M583.3 153.1h0M584.9 136.3h0M584.8 142.3h0M580.0 170.8h0M576.1 173.3h0M584.5 167.0h0M583.1 147.2h0M577.0 172.4h0M579.9 176.5h0M586.2 152.8h0M581.5 174.3h0M582.1 162.9h0M579.5 186.5h0M580.8 181.9h0M585.3 167.3h0M580.9 187.1h0M586.9 144.6h0M575.9 171.6h0M571.7 175.4h0M573.5 152.8h0M581.0 184.7h0M585.8 143.1h0M577.9 187.6h0M572.3 167.4h0M580.2 184.0h0M571.7 174.2h0M574.0 183.4h0M577.6 173.3h0M573.8 176.8h0M579.9 180.3h0M581.5 166.1h0M580.8 183.8h0M580.2 185.2h0M575.7 157.2h0M576.0 186.0h0M576.7 171.4h0M581.1 158.3h0M574.7 175.8h0M574.1 183.7h0M577.4 188.5h0M575.9 183.4h0M574.9 180.8h0M574.6 158.8h0M576.5 184.4h0M582.9 149.5h0M577.8 188.8h0M580.4 182.9h0M579.0 188.8h0M587.3 159.7h0M577.6 171.1h0M580.7 164.7h0M574.5 164.3h0M573.5 182.3h0M586.9 167.0h0M582.5 148.6h0M577.0 179.5h0M574.5 178.9h0M577.9 178.2h0M578.7 188.7h0M580.5 176.5h0M580.7 167.1h0M583.1 159.7h0M573.7 182.7h0M578.9 184.9h0M574.5 173.5h0M587.9 153.6h0M582.8 164.0h0M581.5 172.6h0M580.3 183.5h0M576.3 187.0h0M581.0 185.7h0M582.1 164.0h0M580.3 172.4h0M573.7 179.7h0M573.1 171.6h0M579.3 188.2h0M578.2 181.2h0M579.5 182.5h0M585.2 165.5h0M578.3 181.4h0M580.1 184.0h0M578.6 187.6h0M572.4 148.8h0M579.7 169.7h0M578.0 188.7h0M574.0 184.5h0M581.1 162.6h0M575.1 164.8h0M576.0 180.0h0M578.5 187.2h0M582.3 166.4h0M575.7 175.2h0M584.0 146.7h0M579.4 181.4h0M575.7 169.1h0M583.7 175.1h0M582.0 167.3h0M583.6 135.5h0M588.2 162.5h0M583.7 152.5h0M586.7 148.4h0M582.8 182.6h0M579.0 183.7h0M580.4 180.1h0M578.3 186.7h0M573.5 169.4h0M578.7 188.9h0M580.0 186.5h0M581.0 184.8h0M577.0 186.0h0M576.5 177.0h0M585.2 150.7h0M573.1 162.0h0M572.0 165.5h0M573.2 144.1h0M580.3 187.1h0M572.5 163.5h0M580.9 180.2h0M589.6 114.2h0M579.4 176.8h0M579.2 180.0h0M580.7 162.1h0M578.4 176.6h0M572.4 173.8h0M578.0 175.0h0M574.9 159.1h0M575.9 177.2h0M582.2 170.3h0M579.3 174.1h0M585.7 134.2h0M576.8 175.8h0M581.9 182.1h0M576.8 176.2h0M574.9 174.2h0M577.0 179.9h0M570.3 178.8h0M581.6 171.0h0M581.1 161.2h0M573.6 157.4h0M580.7 181.6h0M576.5 160.4h0M578.9 189.1h0M579.4 187.6h0M577.1 186.7h0M578.1 186.8h0M571.9 178.5h0M571.3 166.8h0M576.2 162.1h0M577.4 185.6h0M580.7 171.7h0M572.5 163.0h0M582.1 170.0h0M576.0 161.2h0M579.6 181.1h0M581.3 160.2h0M580.4 182.3h0M577.5 188.8h0M579.3 182.5h0M571.5 149.9h0M585.0 159.3h0M574.8 158.2h0M580.7 180.6h0M574.8 172.5h0M578.7 174.5h0M578.8 175.4h0M588.5 117.3h0M571.2 165.0h0M579.6 187.4h0M584.4 157.3h0M576.6 187.8h0M577.0 188.9h0M582.1 183.9h0M573.2 176.2h0M583.5 147.3h0M575.2 163.3h0M577.0 184.3h0M579.3 186.3h0M573.4 171.2h0M573.1 175.4h0M584.1 135.6h0M576.6 186.3h0M576.3 185.1h0M577.4 186.6h0M578.3 184.2h0M579.1 185.7h0M572.1 170.7h0M579.3 188.7h0M578.5 188.8h0M578.3 185.2h0M574.6 176.4h0M581.0 178.4h0M582.8 146.5h0M576.2 185.5h0M577.4 187.2h0M586.9 174.8h0M579.4 187.3h0M578.4 177.5h0M585.1 173.0h0M572.5 152.4h0M585.0 139.4h0M580.9 185.3h0M581.6 157.8h0M580.2 167.2h0M580.5 186.5h0M584.7 147.8h0M575.2 157.4h0M580.1 181.6h0M586.1 128.5h0M579.3 188.5h0M575.9 171.8h0M575.9 180.4h0M580.5 177.9h0M583.5 142.6h0M579.9 185.9h0M582.7 160.1h0M583.5 145.3h0M578.7 186.5h0M579.4 188.2h0M574.1 179.3h0M587.5 106.9h0M578.9 178.6h0M577.2 177.1h0M573.7 159.6h0M582.1 158.4h0M571.6 163.5h0M573.4 159.8h0M576.4 170.2h0M574.3 171.7h0M578.9 171.9h0M575.0 158.9h0M574.8 172.5h0M585.0 156.4h0M583.9 180.5h0M579.0 182.8h0M576.3 167.8h0M578.2 186.7h0M570.8 175.8h0M583.3 181.0h0M574.8 177.5h0M576.7 169.9h0M580.9 166.6h0M579.2 180.1h0M578.5 188.3h0M579.9 176.6h0M577.0 183.5h0M579.7 174.9h0M579.7 178.5h0M578.3 184.1h0M576.9 185.0h0M577.0 179.1h0M578.8 187.7h0M577.5 186.0h0M581.6 177.8h0M579.6 184.3h0M578.8 188.8h0M580.0 168.9h0M579.9 188.5h0M579.0 181.4h0M588.3 125.4h0M583.2 182.7h0M572.6 152.0h0M576.2 175.7h0M578.0 181.2h0M581.5 172.5h0M574.7 149.2h0M581.7 163.6h0M578.3 187.4h0M576.4 182.4h0M579.5 185.5h0M578.0 176.3h0M576.9 189.0h0M574.5 179.5h0M584.9 142.1h0M569.2 150.9h0M581.0 180.2h0M579.0 186.1h0M581.4 169.4h0M579.3 183.1h0M587.2 172.9h0M581.9 164.0h0M580.0 178.3h0M588.2 158.7h0M577.1 188.5h0M578.2 187.1h0M586.2 150.4h0M578.2 185.7h0M578.9 180.8h0M587.3 166.6h0M578.7 189.0h0M577.5 186.4h0M579.7 177.0h0M576.0 176.1h0M578.8 186.0h0M569.8 145.4h0M579.5 186.3h0M577.1 186.1h0M578.2 184.6h0M577.9 168.6h0M585.0 163.5h0M581.8 173.1h0M580.5 178.3h0M573.9 154.2h0M575.7 185.3h0M583.0 170.5h0M575.2 180.1h0M582.0 179.4h0M570.1 157.2h0M578.8 187.4h0M577.3 178.1h0M577.2 187.6h0M577.3 188.5h0M581.4 186.5h0M576.6 187.3h0M580.4 168.4h0M576.0 174.1h0M579.0 187.3h0M580.2 177.6h0M579.1 189.2h0M575.8 183.0h0M577.6 176.8h0M577.0 184.8h0M569.1 161.0h0M570.2 143.1h0M583.1 159.3h0M575.9 177.1h0M576.5 179.4h0M585.9 140.2h0M578.1 187.0h0M577.8 185.0h0M573.1 176.4h0M589.3 125.2h0M578.1 182.0h0M570.7 143.6h0M578.7 187.7h0M578.0 187.9h0M577.6 188.9h0M578.1 182.9h0M577.8 174.3h0M581.7 180.8h0M580.1 176.8h0M579.2 188.1h0M584.2 129.9h0M583.4 162.6h0M575.8 187.5h0M576.5 187.0h0M575.9 178.6h0M587.5 141.6h0M578.2 188.8h0M589.0 145.0h0M584.4 160.0h0M581.3 168.8h0M587.4 154.8h0M578.9 188.3h0M574.2 166.7h0M584.5 143.1h0M578.6 186.9h0M577.5 184.2h0M584.3 162.9h0M576.9 167.4h0M587.7 155.7h0M583.5 149.4h0M578.3 179.1h0M582.5 182.8h0M582.5 156.8h0M573.7 182.0h0M578.8 180.6h0M589.0 148.9h0M578.8 185.8h0M589.2 110.0h0M576.7 170.5h0M584.4 138.3h0M568.4 163.9h0M571.4 145.7h0M573.8 174.3h0M580.9 181.2h0M573.6 145.3h0M577.5 189.2h0M577.6 188.2h0M577.3 183.9h0M574.0 154.1h0M576.2 165.0h0M578.7 173.6h0M577.8 182.2h0M580.6 187.2h0M582.9 154.6h0M587.4 130.1h0M579.0 173.1h0M583.3 146.6h0M577.7 189.1h0M575.3 168.6h0M582.2 154.1h0M582.0 156.1h0M578.4 180.7h0M571.2 148.9h0M579.1 170.0h0M578.8 176.8h0M583.6 177.0h0M577.8 176.9h0M586.9 148.9h0M578.3 188.2h0M578.6 183.2h0M578.2 188.9h0M577.8 188.9h0M576.7 170.5h0M584.9 144.7h0M574.3 170.3h0M574.9 161.1h0M584.9 134.5h0M577.0 172.3h0M576.4 180.1h0M582.7 172.9h0M581.9 172.1h0M580.1 184.0h0M575.0 168.6h0M582.8 176.7h0M582.0 160.0h0M581.6 185.1h0M581.9 158.7h0M586.0 167.2h0M579.5 185.6h0M581.1 164.3h0M584.2 168.9h0M573.9 148.4h0M586.8 127.3h0M577.6 185.7h0M586.9 157.4h0M580.8 183.3h0M573.1 148.4h0M587.3 172.8h0M570.1 175.5h0M577.6 188.1h0M580.8 166.8h0M584.1 175.7h0M573.1 175.1h0M575.4 174.9h0M576.4 173.6h0M576.6 186.0h0M581.6 158.9h0M576.9 172.7h0M580.0 186.5h0M570.9 179.3h0M579.2 178.9h0M586.6 158.6h0M580.9 162.3h0M578.3 186.5h0M580.0 188.3h0M578.9 183.9h0M577.2 185.0h0M580.2 168.5h0M578.1 183.5h0M582.6 170.5h0M575.9 181.7h0M585.0 156.1h0M574.5 172.9h0M590.2 142.6h0M588.0 154.5h0M576.8 179.7h0M581.9 164.2h0M576.7 182.3h0M579.9 184.6h0M581.3 176.5h0M578.1 188.7h0M582.7 167.7h0M575.6 181.0h0M575.4 157.4h0M587.5 140.2h0M576.9 180.1h0M576.0 167.2h0M579.7 182.9h0M574.8 181.2h0M578.6 188.2h0M571.9 174.3h0M579.4 186.2h0M577.2 188.6h0M574.3 177.9h0M583.2 162.8h0M579.9 166.5h0M572.3 158.8h0M577.9 188.0h0M574.9 177.7h0M576.2 167.9h0M575.9 164.1h0M587.4 159.7h0M581.7 172.9h0M582.4 174.9h0M573.6 170.1h0M582.8 175.0h0M572.5 168.5h0M574.1 177.0h0M577.2 187.8h0M576.1 161.9h0M573.7 162.8h0M578.3 184.0h0M589.9 148.9h0M578.7 183.0h0M574.8 162.2h0M579.4 176.8h0M569.7 143.9h0M585.6 124.9h0M577.7 184.3h0M579.0 188.1h0M572.0 176.8h0M578.1 188.6h0M578.9 184.2h0M581.4 182.7h0M585.0 174.1h0M578.8 185.3h0M578.8 181.5h0M576.5 189.0h0M571.1 176.4h0M577.2 166.5h0M574.7 159.2h0M578.6 186.1h0M580.5 187.0h0M578.3 180.6h0M575.1 178.2h0M577.0 174.8h0M580.4 164.9h0M583.4 140.5h0M577.5 185.3h0M572.6 170.7h0M579.8 181.8h0M579.9 183.8h0M590.4 121.6h0M578.1 181.8h0M582.3 156.8h0M573.4 162.2h0M574.8 175.4h0M582.5 162.2h0M576.5 185.0h0M583.7 146.7h0M582.0 170.1h0M583.2 148.1h0M577.2 184.4h0M575.2 175.9h0M571.9 170.1h0M586.3 114.2h0M577.7 187.1h0M578.4 186.0h0M587.2 173.9h0M582.9 180.8h0M574.6 176.9h0M575.1 184.8h0M577.7 187.7h0M584.9 170.2h0M579.5 189.0h0M587.6 159.6h0M577.1 182.6h0M578.8 180.6h0M574.6 153.0h0M584.3 178.7h0M575.0 184.8h0M576.8 185.2h0M575.9 175.0h0M578.0 188.6h0M574.9 185.4h0M574.5 183.5h0M579.0 184.0h0M586.5 155.2h0M579.5 188.7h0M585.0 174.3h0M578.5 187.9h0M572.9 178.1h0M575.4 161.5h0M588.1 146.4h0M576.0 181.7h0M574.9 172.3h0M573.1 163.5h0M579.8 184.9h0M587.4 115.0h0M571.6 142.8h0M581.3 178.0h0M581.7 175.1h0M573.7 182.2h0M581.3 163.1h0M579.6 188.4h0M578.3 187.0h0M578.9 182.9h0M577.2 187.3h0M584.1 146.8h0M572.8 163.0h0M581.9 165.4h0M576.7 182.3h0M582.1 184.6h0M578.0 186.7h0M579.3 186.3h0M582.9 152.0h0M581.3 165.0h0M587.4 134.8h0M581.5 151.5h0M574.0 167.8h0M572.7 157.7h0M588.8 166.5h0M578.4 185.6h0M573.8 141.5h0M581.7 177.5h0M574.1 145.3h0M577.4 187.9h0M575.6 185.6h0M581.4 162.1h0M576.0 176.5h0M582.0 166.4h0M586.5 146.9h0M582.0 169.0h0M586.2 166.4h0M589.6 122.3h0M576.1 179.0h0M574.0 166.4h0M570.1 166.5h0M586.9 122.4h0M575.4 163.0h0M579.4 188.7h0M585.2 133.0h0M578.6 187.6h0M579.2 185.6h0M583.5 178.4h0M575.2 165.5h0M570.2 164.1h0M575.9 168.3h0M584.7 168.4h0M588.2 161.2h0M580.8 173.8h0M583.2 154.1h0M585.3 125.1h0M581.1 183.4h0M577.1 171.9h0M581.5 152.7h0M575.7 180.2h0M579.3 185.2h0M576.3 182.0h0M584.7 173.4h0M584.1 133.1h0M578.1 187.8h0M585.8 164.5h0M582.6 183.8h0M577.1 173.2h0M577.0 184.8h0M583.9 182.2h0M574.0 171.2h0M576.9 183.7h0M579.6 184.0h0M580.2 172.1h0M576.2 181.2h0M578.2 187.8h0M580.1 178.8h0M581.9 182.1h0M580.6 170.9h0M579.6 177.0h0M578.4 180.1h0M577.0 173.2h0M586.0 155.8h0M575.3 173.7h0M587.9 149.2h0M580.9 170.7h0M578.4 189.0h0M572.5 181.4h0M580.4 184.5h0M578.0 179.1h0M589.0 102.9h0M583.3 179.8h0M581.6 158.0h0M576.4 186.6h0M579.7 186.4h0M585.1 161.7h0M574.7 167.9h0M575.5 178.2h0M578.4 188.9h0M580.1 174.7h0M573.2 178.2h0M585.3 179.6h0M585.8 176.4h0M582.3 175.3h0M579.4 185.6h0M574.8 178.3h0M581.1 186.1h0M579.2 187.9h0M583.2 180.3h0M579.3 181.2h0M580.2 166.4h0M573.9 145.4h0M577.9 182.6h0M575.8 179.8h0M576.5 173.8h0M577.5 185.0h0M581.0 181.1h0M584.2 177.5h0M587.9 152.1h0M579.3 172.3h0M576.9 179.8h0M580.5 177.3h0M582.8 169.4h0M577.9 187.6h0M575.3 154.2h0M587.6 146.1h0M577.9 182.2h0M573.7 175.9h0M581.1 175.4h0M582.8 157.0h0M577.2 188.8h0M582.4 157.6h0M581.3 167.0h0M576.8 171.7h0M577.9 175.3h0M577.0 186.1h0M576.9 182.7h0M572.4 167.3h0M581.5 153.5h0M581.0 161.1h0M587.3 155.4h0M583.7 139.7h0M581.2 166.3h0M572.6 157.0h0M579.7 185.6h0M580.7 182.9h0M578.2 188.3h0M576.9 178.3h0M579.2 185.4h0M579.3 169.4h0M577.6 187.6h0M581.6 183.6h0M578.2 177.7h0M572.5 178.4h0M576.4 181.5h0M574.3 165.7h0M579.7 187.8h0M580.8 185.2h0M587.9 167.1h0M579.5 169.5h0M582.8 168.3h0M577.2 188.3h0M574.2 182.9h0M581.3 158.5h0M579.6 186.6h0M577.1 187.9h0M576.0 168.9h0M581.3 185.3h0M584.2 164.7h0M575.7 178.7h0M575.6 172.9h0M580.7 158.3h0M577.6 187.1h0M575.8 172.8h0M586.3 119.9h0M576.0 173.5h0M576.9 177.2h0M579.0 187.8h0M578.0 186.9h0M582.0 182.5h0M574.9 183.7h0M576.8 175.0h0M577.9 186.7h0M573.0 182.2h0M573.7 155.7h0M587.8 130.8h0M570.2 142.9h0M587.4 174.5h0M580.8 155.5h0M577.5 185.0h0M588.5 149.7h0M578.9 180.3h0M578.5 184.2h0M575.6 184.0h0M577.1 187.3h0M588.1 162.1h0M577.8 185.9h0M579.4 187.6h0M579.7 181.4h0M579.7 168.2h0M571.9 174.6h0M578.7 188.7h0M576.5 187.7h0M574.3 156.1h0M580.9 155.6h0M585.0 173.4h0M586.7 172.7h0M581.2 171.0h0M572.9 157.2h0M577.8 183.6h0M582.3 176.4h0M576.4 186.4h0M569.6 163.2h0M587.9 167.6h0M579.5 176.3h0M575.8 185.4h0M577.1 186.6h0M571.2 155.9h0M581.0 177.6h0M578.5 179.5h0M578.9 173.0h0M574.4 148.6h0M576.7 185.5h0M576.0 170.4h0M579.2 172.9h0M579.1 178.4h0M580.6 177.9h0M573.0 183.3h0M571.3 155.4h0M578.6 171.0h0M575.4 179.5h0M584.1 143.5h0M574.9 180.6h0M577.9 183.7h0M573.8 161.9h0M587.1 145.5h0M589.6 123.1h0M576.7 171.2h0M577.3 186.8h0M580.6 161.1h0M581.3 158.7h0M575.6 179.7h0M579.3 186.9h0M569.1 148.4h0M576.2 179.5h0M585.0 119.9h0M573.2 171.9h0M584.1 156.5h0M580.5 187.9h0M583.2 150.2h0M572.9 176.6h0M584.9 123.0h0M578.1 189.1h0M577.4 180.0h0M584.3 176.6h0M579.3 176.0h0M578.0 188.9h0M577.7 185.0h0M576.2 170.5h0M574.6 158.5h0M573.8 145.7h0M579.3 170.7h0M571.9 175.0h0M580.6 168.0h0M582.1 150.8h0M574.9 148.5h0M581.4 185.1h0M577.3 187.3h0M571.2 141.6h0M576.8 182.0h0M577.7 189.1h0M580.3 184.4h0M577.1 180.3h0M578.4 183.8h0M574.5 181.1h0M573.7 158.8h0M574.2 166.6h0M581.0 178.2h0M570.7 146.9h0M581.1 181.8h0M584.0 171.0h0M578.9 175.6h0M577.6 184.2h0M572.5 151.7h0M578.0 180.0h0M579.9 185.9h0M583.2 177.4h0M579.1 183.4h0M575.6 180.4h0M582.3 175.8h0M582.4 183.3h0M576.2 170.9h0M578.8 186.6h0M578.1 187.7h0M573.4 141.4h0M582.5 154.6h0M573.2 172.4h0M576.5 184.6h0M572.4 160.8h0M580.2 186.0h0M578.7 184.5h0M576.5 188.0h0M577.5 182.7h0M574.3 182.8h0M579.4 189.1h0M574.0 182.6h0M589.8 100.6h0M574.2 179.1h0M579.0 177.8h0M579.1 187.2h0M584.1 172.5h0M575.3 180.9h0M579.5 186.1h0M573.9 177.3h0M574.2 164.8h0M573.7 175.1h0M581.0 180.1h0M577.0 188.6h0M581.1 185.3h0M577.5 184.5h0M576.2 180.7h0M580.9 185.9h0M585.9 161.0h0M583.7 147.5h0M586.4 163.8h0M577.5 173.2h0M575.8 172.9h0M579.5 188.5h0M576.3 181.4h0M574.2 161.9h0M577.1 183.1h0M576.0 185.3h0M575.7 162.3h0M577.9 184.9h0M579.3 178.4h0M580.3 182.9h0M576.7 178.9h0M577.9 181.7h0M579.3 185.3h0M577.5 172.8h0M574.1 181.4h0M572.9 150.5h0M576.8 181.1h0M572.9 156.5h0M587.6 135.7h0M578.9 189.0h0M577.0 181.8h0M578.4 184.5h0M569.1 146.1h0M582.0 157.5h0M581.7 176.8h0M574.4 170.1h0M584.5 170.9h0M576.7 183.0h0M587.8 156.7h0M577.7 188.8h0M575.8 172.3h0M573.3 164.2h0M541.1 95.0h0M545.1 96.3h0M552.6 97.4h0M549.4 101.4h0M593.7 96.6h0M607.4 97.4h0M614.9 99.8h0M589.7 102.2h0M591.3 103.8h0M590.0 109.1h0M595.7 111.9h0M552.8 114.3h0M549.6 117.5h0M547.2 118.8h0M562.3 120.4h0M568.0 119.4h0M567.6 122.3h0M571.6 124.4h0M565.5 127.6h0M570.0 127.9h0M571.6 129.5h0M568.0 131.1h0M567.2 134.8h0M561.6 136.4h0M572.9 136.0h0M567.1 138.4h0M589.2 116.7h0M586.8 118.3h0M588.4 121.5h0M586.0 124.7h0M587.3 123.6h0M590.8 127.1h0M592.1 129.5h0M590.5 133.5h0M591.6 140.8h0M589.2 143.2h0M592.4 144.8h0M616.2 142.4h0M599.2 148.3h0M595.3 153.1h0M556.3 156.5h0M548.0 160.0h0M558.7 161.3h0M567.1 158.4h0M561.9 164.1h0M563.5 164.9h0M558.4 167.3h0M607.2 161.2h0M594.1 162.1h0M593.3 167.3h0M597.6 168.9h0M589.2 173.4h0M562.3 176.1h0M567.1 178.5h0M562.7 180.1h0M588.0 150.4h0M590.0 151.2h0M588.9 155.2h0M590.5 163.3h0M586.8 148.0h0M527.3 15.8h0M528.8 23.1h0M518.9 32.4h0M526.6 39.1h0M538.7 42.8h0M535.4 45.7h0M497.4 48.2h0M531.4 52.8h0M539.3 58.7h0M521.2 65.3h0M531.7 63.5h0M536.8 62.8h0M545.6 64.2h0M533.2 80.3h0M536.8 84.4h0M541.2 89.0h0M549.2 87.3h0M540.5 92.0h0M552.2 90.5h0M545.6 96.0h0M552.2 97.0h0M637.3 17.5h0M661.6 28.0h0M624.1 35.0h0M625.2 36.2h0M644.9 38.7h0M625.6 42.3h0M624.7 47.4h0M630.5 52.3h0M612.7 63.5h0M641.6 69.0h0M611.6 74.5h0M629.5 74.5h0M621.4 80.7h0M622.8 82.3h0M613.8 89.3h0M593.5 96.4h0M607.2 97.5h0M615.0 99.0h0" stroke="#bebebe" stroke-width="2.60" stroke-linecap="round" fill="none"/>
<path d="M582.0 156.8h0M584.1 157.6h0M581.2 161.2h0M585.2 160.8h0M583.1 162.4h0M581.5 164.4h0M580.4 169.2h0M582.5 169.2h0M573.7 167.3h0M575.1 166.5h0M580.9 178.5h0M581.5 179.8h0M576.7 179.3h0M575.1 181.7h0M576.1 183.3h0M576.4 185.7h0M578.0 191.4h0M558.4 181.2h0M528.2 81.0h0M593.5 89.5h0" stroke="#ffa31a" stroke-width="3.00" stroke-linecap="round" fill="none"/>
<path d="M571.9 143.2h0M582.8 148.8h0M582.5 151.2h0M582.0 154.7h0M581.5 159.2h0M572.7 164.5h0M584.4 170.5h0M573.5 172.9h0M580.9 174.5h0M580.1 176.1h0M579.6 182.5h0M578.8 184.9h0M577.7 186.5h0M577.2 188.1h0M578.8 188.9h0" stroke="#e377c2" stroke-width="3.00" stroke-linecap="round" fill="none"/>
<text x="519.60" y="11.06" font-size="7.70">ROCK2.1</text>
<text x="531.00" y="25.66" font-size="7.70">TSPAN4.4</text>
<text x="489.40" y="30.56" font-size="7.70">RBM26.2</text>
<text x="526.60" y="37.56" font-size="7.70">PFKFB2.1</text>
<text x="541.20" y="45.36" font-size="7.70">TMEM106C.1</text>
<text x="497.00" y="47.36" font-size="7.70">ACTL6A.2</text>
<text x="486.80" y="56.56" font-size="7.70">NDUFA13.1</text>
<text x="534.60" y="54.36" font-size="7.70">PPFIA1.1</text>
<text x="541.20" y="61.96" font-size="7.70">YTHDF2.2</text>
<text x="498.90" y="88.66" font-size="7.70">COPA.3</text>
<text x="608.10" y="15.66" font-size="7.70">TENT5C.2</text>
<text x="652.20" y="26.16" font-size="7.70">ANXA1.3</text>
<text x="592.60" y="32.46" font-size="7.70">RAB11A.2</text>
<text x="626.60" y="39.06" font-size="7.70">LGALS3.1</text>
<text x="627.30" y="45.96" font-size="7.70">TAF7.1</text>
<text x="586.20" y="54.66" font-size="7.70">KIAA1755.1</text>
<text x="631.70" y="57.56" font-size="7.70">EPRS1.2</text>
<text x="586.20" y="87.26" font-size="7.70">CCN2.1</text>
<path d="M485.5 11.6V190.5H673.7" stroke="#111" stroke-width="1.00" fill="none"/>
<line x1="483.60" y1="190.20" x2="485.50" y2="190.20" stroke="#222" stroke-width="0.80"/>
<text x="482.70" y="193.06" font-size="8.00" text-anchor="end">0</text>
<line x1="483.60" y1="141.60" x2="485.50" y2="141.60" stroke="#222" stroke-width="0.80"/>
<text x="482.70" y="144.46" font-size="8.00" text-anchor="end">2</text>
<line x1="483.60" y1="94.10" x2="485.50" y2="94.10" stroke="#222" stroke-width="0.80"/>
<text x="482.70" y="96.96" font-size="8.00" text-anchor="end">4</text>
<line x1="483.60" y1="45.60" x2="485.50" y2="45.60" stroke="#222" stroke-width="0.80"/>
<text x="482.70" y="48.46" font-size="8.00" text-anchor="end">6</text>
<line x1="514.80" y1="190.50" x2="514.80" y2="192.90" stroke="#222" stroke-width="0.80"/>
<text x="513.60" y="199.86" font-size="8.00" text-anchor="middle">−10</text>
<line x1="546.90" y1="190.50" x2="546.90" y2="192.90" stroke="#222" stroke-width="0.80"/>
<text x="545.70" y="199.86" font-size="8.00" text-anchor="middle">−5</text>
<line x1="578.40" y1="190.50" x2="578.40" y2="192.90" stroke="#222" stroke-width="0.80"/>
<text x="578.40" y="199.86" font-size="8.00" text-anchor="middle">0</text>
<line x1="610.20" y1="190.50" x2="610.20" y2="192.90" stroke="#222" stroke-width="0.80"/>
<text x="610.20" y="199.86" font-size="8.00" text-anchor="middle">5</text>
<line x1="641.60" y1="190.50" x2="641.60" y2="192.90" stroke="#222" stroke-width="0.80"/>
<text x="641.60" y="199.86" font-size="8.00" text-anchor="middle">10</text>
<text x="487.30" y="187.56" font-size="8.00">Untreated</text>
<text x="652.60" y="187.56" font-size="8.00">TGFβ</text>
<text transform="translate(472.20 88.50) rotate(-90)" y="2.16" font-size="8.00" text-anchor="middle">-log<tspan font-size="4.5" dy="1.8">10</tspan><tspan dy="-1.8"> p-value</tspan></text>
<text x="579.80" y="213.66" font-size="8.00" text-anchor="middle">log<tspan font-size="5" dy="2">2</tspan><tspan dy="-2"> fold change in antigen abundance</tspan></text>
<text x="579.70" y="223.26" font-size="8.00" text-anchor="middle">TGFβ treated vs untreated</text>
<!-- Panel D -->
<text x="1.95" y="237.90" font-size="8" font-weight="bold">D</text>
<line x1="119.10" y1="212.30" x2="119.10" y2="439.50" stroke="#d3d3d3" stroke-width="1.10" stroke-dasharray="5.7 5.5" stroke-dashoffset="4.2"/>
<line x1="26.60" y1="321.70" x2="224.50" y2="321.70" stroke="#d3d3d3" stroke-width="1.10" stroke-dasharray="5.8 5.7"/>
<path d="M103.3 319.0h0M128.2 312.7h0M117.3 313.3h0M134.1 321.3h0M137.5 318.8h0M124.6 320.3h0M109.2 322.9h0M102.2 321.7h0M128.6 321.3h0M113.7 330.3h0M120.0 319.4h0M121.4 319.6h0M114.0 320.7h0M146.5 319.8h0M121.6 324.1h0M146.4 319.3h0M99.5 322.0h0M128.2 329.4h0M128.1 319.2h0M114.0 323.8h0M122.2 322.6h0M113.4 326.9h0M139.5 320.4h0M113.1 324.9h0M125.7 317.4h0M113.0 326.1h0M117.9 320.5h0M122.1 321.4h0M119.2 314.4h0M142.8 320.6h0M107.4 326.0h0M123.4 321.5h0M133.3 328.5h0M126.7 327.0h0M148.3 318.0h0M112.1 325.1h0M96.1 322.6h0M136.7 323.8h0M127.0 314.2h0M126.6 324.0h0M125.9 314.8h0M99.8 319.3h0M145.1 318.0h0M115.9 321.0h0M126.9 323.0h0M122.8 316.7h0M121.4 322.6h0M135.8 320.2h0M110.9 323.8h0M98.2 320.1h0M105.6 323.6h0M147.4 321.1h0M134.6 321.4h0M123.0 319.7h0M103.0 318.6h0M130.5 323.3h0M134.6 325.9h0M115.1 326.0h0M145.6 319.8h0M133.9 320.1h0M97.4 323.6h0M108.1 322.9h0M112.9 323.3h0M90.3 327.3h0M137.6 319.3h0M106.9 322.6h0M128.3 322.6h0M124.6 313.9h0M103.9 327.3h0M122.4 315.7h0M107.5 317.4h0M105.4 326.7h0M116.2 326.2h0M121.8 315.8h0M108.7 318.6h0M136.1 320.8h0M119.1 327.4h0M95.0 324.5h0M104.7 317.8h0M108.0 326.7h0M117.3 314.7h0M103.9 328.0h0M133.3 316.9h0M114.1 317.5h0M117.3 325.5h0M141.4 323.1h0M113.3 320.0h0M99.1 322.9h0M111.0 323.2h0M101.7 321.2h0M107.0 318.2h0M102.9 319.4h0M102.9 324.8h0M120.6 316.5h0M126.3 322.3h0M139.4 319.7h0M116.3 319.2h0M120.9 323.5h0M121.6 320.5h0M127.0 321.5h0M122.6 317.9h0M122.1 317.6h0M107.6 323.1h0M148.3 321.3h0M119.3 321.0h0M132.8 325.6h0M136.1 319.9h0M121.8 320.2h0M115.3 318.7h0M115.8 313.6h0M102.6 324.3h0M106.4 324.5h0M101.3 321.7h0M124.7 317.3h0M109.8 319.7h0M111.3 322.4h0M118.8 325.5h0M130.1 319.5h0M114.3 316.6h0M98.5 320.9h0M129.3 321.4h0M130.3 324.4h0M116.9 330.0h0M112.0 319.8h0M113.3 326.5h0M117.3 319.0h0M125.2 325.6h0M117.7 320.8h0M134.2 324.1h0M132.2 318.1h0M123.1 322.8h0M94.4 326.5h0M120.6 320.3h0M121.2 318.8h0M118.3 324.0h0M130.4 320.7h0M107.3 320.0h0M107.9 318.6h0M118.9 319.8h0M119.9 318.4h0M107.3 321.9h0M114.4 326.5h0M106.7 323.3h0M118.6 316.7h0M129.2 321.6h0M90.3 324.8h0M132.1 318.0h0M142.5 320.5h0M103.3 324.7h0M114.2 316.9h0M89.6 324.1h0M109.1 324.8h0M124.5 319.3h0M111.9 328.9h0M142.7 322.1h0M114.3 318.3h0M113.9 328.4h0M125.5 320.2h0M102.3 323.4h0M107.1 322.6h0M129.4 324.9h0M121.1 320.2h0M122.3 328.4h0M124.4 316.0h0M140.5 320.9h0M112.8 321.8h0M115.1 323.4h0M111.2 316.7h0M92.8 323.3h0M112.1 320.0h0M148.3 321.0h0M134.2 318.9h0M123.3 320.6h0M116.4 324.8h0M127.5 322.3h0M121.2 316.0h0M109.1 323.8h0M114.2 319.1h0M124.1 317.8h0M110.0 325.6h0M114.3 327.5h0M126.4 324.3h0M134.7 313.2h0M118.1 316.8h0M112.8 321.8h0M136.2 320.4h0M141.7 318.6h0M118.4 322.1h0M132.1 320.6h0M110.7 321.1h0M100.0 327.0h0M129.4 322.6h0M123.0 319.1h0M113.7 325.2h0M108.4 319.6h0M140.8 324.7h0M123.2 323.5h0M121.8 327.0h0M113.1 322.4h0M125.8 326.7h0M115.8 322.8h0M112.5 319.7h0M110.3 322.6h0M131.3 318.4h0M111.0 320.8h0M124.0 324.0h0M102.2 324.1h0M105.6 325.1h0M106.1 318.8h0M109.5 322.2h0M105.7 323.4h0M121.2 321.9h0M122.9 324.8h0M109.3 322.4h0M118.8 313.9h0M124.5 318.4h0M109.5 320.8h0M120.5 322.9h0M125.8 318.6h0M128.6 322.6h0M113.9 322.0h0M130.1 322.5h0M128.6 321.4h0M134.6 328.1h0M125.3 315.3h0M142.5 318.5h0M125.0 325.4h0M132.7 319.4h0M138.8 320.1h0M111.2 322.5h0M122.1 321.7h0M124.6 313.1h0M140.4 318.6h0M128.0 318.2h0M121.4 320.9h0M97.9 324.3h0M127.8 317.0h0M90.9 322.5h0M107.8 322.9h0M119.0 327.8h0M128.0 320.1h0M107.0 319.3h0M117.7 323.0h0M122.1 325.0h0M109.9 323.5h0M117.4 321.9h0M123.5 320.3h0M122.1 321.4h0M133.0 320.3h0M127.6 323.0h0M133.7 317.2h0M128.8 323.8h0M125.1 324.9h0M129.8 325.2h0M110.5 323.9h0M111.9 326.8h0M121.0 316.7h0M120.7 317.8h0M132.4 319.6h0M89.7 323.2h0M133.0 321.9h0M110.7 324.7h0M127.0 326.6h0M131.4 322.1h0M108.6 323.5h0M123.3 321.5h0M124.9 316.9h0M126.9 321.2h0M124.0 321.0h0M115.2 322.9h0M129.7 319.8h0M123.6 318.5h0M124.8 321.4h0M102.0 326.7h0M107.3 322.8h0M101.6 317.4h0M128.0 316.0h0M91.4 323.2h0M98.4 322.6h0M143.7 319.0h0M124.0 323.5h0M122.5 321.0h0M139.4 320.0h0M124.0 321.8h0M102.0 323.9h0M119.9 324.1h0M128.5 326.7h0M93.8 322.2h0M112.9 319.0h0M124.7 321.0h0M121.1 315.4h0M106.4 322.4h0M113.2 319.9h0M117.6 320.8h0M105.0 328.4h0M110.2 324.7h0M127.2 324.7h0M111.6 318.6h0M125.1 322.3h0M111.9 320.8h0M115.6 323.5h0M131.2 325.4h0M122.8 313.7h0M122.3 319.4h0M125.1 320.9h0M128.1 317.9h0M114.3 322.1h0M109.2 320.8h0M127.4 328.1h0M116.4 325.0h0M104.0 321.2h0M123.6 323.5h0M105.5 324.7h0M121.1 326.5h0M131.7 322.7h0M113.9 323.0h0M107.8 319.6h0M94.6 320.2h0M102.3 322.6h0M120.5 316.6h0M117.9 323.3h0M131.5 320.5h0M122.1 320.1h0M131.5 315.4h0M122.3 312.8h0M141.9 322.6h0M91.1 322.7h0M100.4 317.6h0M113.7 318.8h0M133.0 318.9h0M104.4 322.4h0M124.5 324.3h0M125.8 315.7h0M108.2 321.8h0M107.9 325.1h0M114.5 321.7h0M114.1 322.2h0M99.1 329.3h0M111.5 319.5h0M95.4 323.1h0M100.7 324.0h0M134.9 322.6h0M113.1 326.7h0M116.5 321.7h0M119.8 319.8h0M124.6 316.7h0M95.5 326.4h0M109.2 321.1h0M123.4 319.6h0M103.3 322.1h0M106.4 324.4h0M113.1 321.1h0M129.2 315.4h0M99.2 325.2h0M135.8 320.8h0M109.6 326.7h0M125.9 324.9h0M94.9 323.0h0M105.3 318.9h0M126.7 323.8h0M112.7 321.2h0M137.3 322.4h0M117.4 323.7h0M120.5 316.8h0M112.2 323.2h0M127.2 316.7h0M108.3 320.3h0M98.9 326.3h0M125.0 326.1h0M90.0 322.4h0M143.1 316.4h0M94.8 323.9h0M139.9 322.1h0M106.3 324.5h0M124.4 322.3h0M124.2 324.4h0M134.4 325.1h0M133.1 320.2h0M94.4 324.7h0M99.1 329.8h0M103.7 316.6h0M94.5 324.4h0M123.0 323.8h0M122.8 318.5h0M129.8 318.4h0M99.0 325.8h0M126.1 317.7h0M115.7 325.7h0M131.5 317.1h0M120.2 323.0h0M117.4 322.2h0M97.7 322.8h0M125.7 317.8h0M120.9 320.9h0M110.9 324.3h0M98.3 323.2h0M123.5 316.6h0M115.7 325.2h0M128.6 317.4h0M132.6 321.9h0M120.7 327.2h0M128.8 322.3h0M131.9 323.1h0M136.0 320.1h0M95.4 327.4h0M129.8 322.8h0M119.7 321.3h0M120.5 318.0h0M129.4 321.3h0M106.4 323.5h0M114.8 321.9h0M104.9 324.1h0M128.6 322.5h0M139.0 319.0h0M114.8 322.0h0M100.9 326.4h0M102.6 324.6h0M135.1 317.8h0M116.8 321.1h0M142.1 320.8h0M95.7 326.1h0M132.9 313.9h0M120.3 313.6h0M133.2 325.5h0M136.2 322.8h0M118.9 319.1h0M124.3 318.3h0M121.3 320.6h0M113.2 324.1h0M132.3 323.8h0M125.1 327.5h0M102.3 323.1h0M121.7 326.1h0M113.3 320.9h0M121.8 330.0h0M122.3 321.1h0M124.9 324.9h0M116.8 328.2h0M102.9 326.9h0M128.6 324.6h0M139.9 319.5h0M124.7 322.3h0M111.1 319.5h0M108.8 325.5h0M102.0 323.1h0M136.7 320.1h0M136.1 320.3h0M112.0 316.4h0M121.7 328.0h0M120.4 317.7h0M127.0 316.1h0M103.9 326.5h0M124.7 324.9h0M122.4 321.0h0M121.5 320.3h0M133.3 316.3h0M93.8 321.5h0M131.3 318.9h0M106.7 321.9h0M126.9 322.5h0M117.0 316.0h0M126.2 317.6h0M116.8 324.7h0M114.0 315.4h0M111.1 324.5h0M128.8 316.3h0M119.8 322.8h0M133.5 322.1h0M121.3 320.4h0M125.5 324.1h0M117.1 320.8h0M142.5 320.0h0M108.7 324.8h0M102.6 319.3h0M131.4 320.9h0M129.8 323.7h0M109.0 324.2h0M114.1 322.9h0M122.5 321.2h0M101.9 323.9h0M119.4 323.7h0M105.1 323.4h0M116.4 320.3h0M115.6 321.0h0M100.9 321.3h0M113.0 323.9h0M117.1 327.1h0M127.2 322.3h0M122.0 316.2h0M124.0 326.0h0M105.7 327.2h0M127.4 322.2h0M113.5 322.2h0M108.8 322.4h0M119.9 321.9h0M103.0 325.9h0M110.5 323.7h0M127.0 320.4h0M120.8 323.2h0M115.9 323.2h0M102.4 324.9h0M114.3 320.2h0M129.3 324.2h0M113.5 318.3h0M92.5 321.4h0M125.7 323.6h0M102.5 323.0h0M133.1 318.1h0M111.8 318.9h0M124.7 314.4h0M117.5 323.6h0M118.5 325.3h0M127.3 319.3h0M105.9 319.0h0M125.7 320.7h0M120.7 318.2h0M134.4 323.5h0M129.2 317.0h0M130.3 317.1h0M132.0 320.4h0M108.8 319.7h0M125.8 322.4h0M122.0 320.7h0M105.6 323.5h0M115.7 321.2h0M127.3 327.2h0M110.9 325.8h0M109.5 325.4h0M127.7 321.2h0M122.3 318.6h0M114.8 325.5h0M129.3 329.0h0M105.9 321.0h0M120.5 321.8h0M112.6 320.6h0M117.9 326.5h0M117.8 319.0h0M107.8 320.3h0M123.3 313.0h0M116.4 317.9h0M132.1 323.5h0M113.3 323.8h0M103.8 323.5h0M122.6 325.4h0M113.5 314.3h0M129.7 317.2h0M112.1 320.9h0M141.0 320.0h0M134.4 320.9h0M100.8 324.4h0M126.0 319.2h0M147.3 320.5h0M125.3 324.7h0M127.0 315.8h0M101.0 325.5h0M137.1 323.8h0M130.1 320.9h0M131.9 326.1h0M126.2 325.8h0M135.1 318.3h0M134.7 318.1h0M107.2 328.1h0M97.6 322.7h0M131.1 322.2h0M114.2 318.6h0M125.9 323.2h0M118.2 318.2h0M100.4 323.0h0M118.6 324.8h0M115.1 325.3h0M103.4 317.2h0M131.5 319.4h0M108.2 322.0h0M103.3 321.7h0M101.1 323.5h0M111.6 322.1h0M119.2 323.4h0M96.8 323.7h0M115.8 317.7h0M115.8 323.8h0M125.4 328.5h0M115.0 322.5h0M144.5 318.5h0M108.4 320.9h0M111.5 322.2h0M121.1 318.8h0M104.4 322.6h0M103.2 320.2h0M123.8 321.0h0M106.2 317.8h0M106.2 317.6h0M126.2 323.9h0M123.2 322.6h0M112.8 322.7h0M120.0 321.8h0M112.8 318.3h0M123.0 322.8h0M104.7 322.0h0M118.8 323.5h0M97.1 319.4h0M101.3 319.1h0M105.1 325.5h0M104.1 329.7h0M122.8 324.0h0M118.6 324.9h0M124.2 324.3h0M126.8 323.4h0M124.3 325.3h0M119.5 319.8h0M139.9 318.9h0M124.4 329.0h0M110.9 321.3h0M110.4 319.0h0M127.7 320.4h0M120.9 315.3h0M125.5 318.7h0M94.1 321.8h0M98.3 327.7h0M97.3 324.0h0M105.7 319.9h0M102.5 326.7h0M104.9 320.6h0M122.3 320.1h0M128.3 318.5h0M98.2 324.5h0M134.8 322.3h0M108.3 326.5h0M129.5 319.7h0M124.9 321.2h0M120.7 324.0h0M130.6 321.2h0M108.7 324.0h0M108.8 323.7h0M116.7 322.1h0M120.5 326.4h0M125.8 321.4h0M103.8 324.0h0M105.2 326.8h0M110.2 320.2h0M117.3 318.2h0M125.7 322.4h0M110.5 320.4h0M143.1 322.9h0M126.4 322.2h0M138.8 319.2h0M115.8 321.5h0M105.5 319.7h0M143.2 320.4h0M107.8 321.7h0M113.0 320.6h0M118.5 316.4h0M96.0 322.8h0M116.3 317.7h0M117.9 319.8h0M121.9 320.8h0M133.7 325.3h0M127.9 321.2h0M130.4 323.5h0M125.4 324.1h0M114.5 324.9h0M126.3 322.7h0M117.2 320.4h0M126.9 319.5h0M105.5 328.3h0M134.8 318.2h0M137.3 314.3h0M127.2 323.6h0M122.7 320.8h0M129.5 322.8h0M104.9 320.4h0M132.4 323.3h0M104.7 317.9h0M125.1 318.4h0M110.1 320.6h0M122.4 314.3h0M129.6 319.8h0M131.3 317.1h0M108.3 324.2h0M132.3 320.7h0M115.3 326.9h0M133.5 321.8h0M116.4 326.5h0M128.5 319.9h0M138.5 323.7h0M122.4 323.3h0M129.5 319.5h0M104.1 326.7h0M98.6 318.9h0M101.3 324.5h0M132.9 318.7h0M136.3 325.7h0M137.3 316.6h0M136.4 327.7h0M107.9 317.1h0M136.1 322.2h0M119.1 321.6h0M97.4 321.0h0M122.1 323.3h0M131.5 324.1h0M113.5 321.9h0M138.0 316.4h0M126.3 318.3h0M122.3 328.3h0M124.7 319.8h0M110.7 317.4h0M119.3 313.5h0M118.5 322.3h0M107.8 319.9h0M135.0 324.7h0M146.0 322.3h0M123.7 320.7h0M135.5 322.8h0M121.9 328.2h0M117.6 322.6h0M133.9 322.4h0M120.6 325.5h0M115.3 324.6h0M125.2 322.0h0M141.4 320.0h0M141.7 317.6h0M121.3 318.7h0M124.4 323.9h0M126.9 322.1h0M116.2 317.6h0M130.7 321.1h0M134.6 315.3h0M116.4 315.8h0M133.8 318.4h0M106.1 325.7h0M118.5 322.8h0M118.3 326.0h0M123.2 322.5h0M119.4 325.3h0M134.2 319.6h0M130.8 315.9h0M109.2 320.6h0M110.0 324.3h0M101.6 318.2h0M122.0 318.4h0M120.3 322.0h0M110.8 320.9h0M130.6 321.0h0M120.4 324.2h0M110.0 318.2h0M114.9 328.0h0M127.4 329.1h0M132.5 323.9h0M113.1 316.3h0M91.9 323.9h0M105.0 318.9h0M126.8 322.3h0M102.6 323.7h0M137.6 323.3h0M110.5 325.7h0M93.7 322.9h0M113.6 326.6h0M103.7 319.8h0M115.0 324.8h0M101.2 323.8h0M114.8 320.4h0M102.9 324.2h0M121.3 323.2h0M121.7 321.2h0M107.9 322.5h0M129.7 321.5h0M126.4 324.4h0M123.8 320.6h0M106.8 326.9h0M117.2 321.3h0M120.7 324.7h0M130.7 318.5h0M118.5 326.1h0M111.6 322.4h0M108.5 317.5h0M102.6 323.4h0M116.1 321.2h0M99.3 322.9h0M109.2 327.2h0M106.6 326.2h0M104.1 319.5h0M138.1 318.2h0M113.9 316.4h0M121.5 326.7h0M115.7 321.0h0M119.5 319.0h0M102.8 323.0h0M115.2 315.7h0M125.6 316.7h0M125.3 324.6h0M118.6 319.6h0M139.4 322.9h0M109.5 318.7h0M125.8 314.1h0M128.6 324.4h0M103.6 319.4h0M142.7 318.8h0M121.5 320.3h0M92.5 325.7h0M140.6 318.6h0M107.6 327.8h0M99.6 322.2h0M101.6 318.0h0M103.5 323.0h0M109.7 318.5h0M129.6 319.2h0M133.6 322.8h0M121.5 324.3h0M114.5 320.0h0M142.7 320.3h0M139.2 314.5h0M107.2 319.4h0M120.9 321.4h0M132.0 322.6h0M119.2 323.7h0M128.6 322.0h0M113.0 324.4h0M114.1 327.2h0M112.5 322.4h0M108.6 322.0h0M133.8 325.4h0M130.7 323.3h0M120.9 316.9h0M127.5 318.8h0M123.0 321.1h0M130.4 318.6h0M129.7 321.0h0M140.6 319.9h0M117.2 314.9h0M130.7 321.0h0M90.3 324.5h0M125.6 320.1h0M136.3 320.2h0M117.3 323.3h0M104.5 324.6h0M108.1 323.4h0M133.7 319.4h0M110.9 328.2h0M119.7 325.6h0M127.1 322.8h0M138.0 320.3h0M99.2 322.4h0M111.5 318.3h0M114.1 323.6h0M125.9 321.6h0M117.6 322.1h0M113.6 319.1h0M120.4 324.9h0M110.0 322.5h0M128.5 317.7h0M124.4 322.0h0M132.9 317.9h0M113.7 327.8h0M146.3 321.1h0M137.6 318.6h0M132.7 321.9h0M128.6 316.9h0M121.7 324.2h0M134.3 322.2h0M125.3 325.0h0M142.2 316.5h0M95.6 323.6h0M141.0 325.3h0M129.5 317.9h0M127.8 319.1h0M131.0 320.5h0M142.1 317.7h0M139.1 318.4h0M129.0 322.3h0M102.7 316.9h0M117.6 320.8h0M112.0 325.0h0M123.8 323.7h0M106.2 322.3h0M117.7 325.7h0M136.4 319.1h0M146.5 320.6h0M126.6 322.6h0M117.7 315.5h0M107.7 319.8h0M116.7 317.9h0M122.5 324.0h0M122.0 322.2h0M109.4 320.2h0M130.5 319.8h0M142.4 318.4h0M119.6 328.2h0M98.6 326.3h0M123.5 322.4h0M138.2 318.7h0M128.0 319.5h0M136.7 316.7h0M118.9 319.9h0M105.3 326.2h0M114.4 324.3h0M106.2 319.4h0M124.5 315.6h0M124.1 325.0h0M120.7 322.2h0M114.6 318.9h0M119.1 322.6h0M139.1 320.9h0M110.1 325.4h0M106.0 315.8h0M116.3 319.4h0M127.8 320.9h0M102.2 320.6h0M112.6 329.8h0M102.8 319.5h0M135.6 325.3h0M114.9 327.1h0M118.2 318.4h0M118.0 325.2h0M138.8 319.7h0M102.1 323.6h0M113.3 319.7h0M125.0 322.1h0M103.3 320.6h0M137.8 319.8h0M105.1 322.8h0M106.4 323.2h0M120.3 316.7h0M143.4 324.5h0M97.1 322.5h0M102.0 321.6h0M113.3 321.3h0M134.1 324.7h0M115.0 323.6h0M128.2 315.5h0M120.4 317.9h0M134.6 324.8h0M123.5 326.9h0M115.6 319.1h0M137.2 320.5h0M123.7 316.5h0M128.9 320.8h0M117.5 317.8h0M109.2 320.9h0M121.3 326.3h0M96.1 319.6h0M106.6 320.1h0M108.1 318.4h0M110.3 323.9h0M113.7 318.7h0M127.2 321.7h0M106.2 326.7h0M110.5 318.8h0M124.1 318.3h0M105.8 327.3h0M113.1 318.6h0M121.6 321.0h0M93.2 322.5h0M125.6 319.6h0M125.1 317.0h0M130.3 319.7h0M109.3 317.9h0M131.5 320.6h0M113.8 323.3h0M117.1 320.5h0M123.6 319.7h0M131.2 328.9h0M96.6 323.3h0M113.5 324.4h0M93.1 328.3h0M129.6 328.3h0M134.3 317.2h0M117.0 328.0h0M134.2 318.1h0M122.7 326.6h0M136.6 319.3h0M124.6 323.4h0M116.3 321.0h0M132.3 320.8h0M118.5 326.2h0M134.7 322.5h0M113.9 319.1h0M104.8 320.7h0M123.5 316.6h0M108.0 319.0h0M121.9 320.0h0M139.6 324.2h0M120.1 321.2h0M133.8 317.8h0M132.2 316.5h0M114.5 323.3h0M121.2 315.6h0M108.7 323.0h0M98.4 328.4h0M110.2 322.9h0M116.0 323.0h0M127.2 320.7h0M106.0 317.4h0M122.5 320.7h0M137.1 321.1h0M128.4 317.4h0M115.2 323.6h0M114.6 324.6h0M113.9 321.1h0M124.5 317.1h0M102.6 327.6h0M139.8 319.6h0M125.0 324.9h0M124.3 323.8h0M115.1 323.9h0M112.2 318.1h0M116.6 324.7h0M123.4 322.9h0M114.3 322.6h0M108.9 322.0h0M120.7 318.6h0M139.3 314.6h0M128.0 320.0h0M133.0 319.1h0M130.5 318.3h0M109.1 321.7h0M119.8 318.0h0M135.0 317.1h0M116.1 322.3h0M117.6 325.7h0M107.0 326.0h0M134.3 320.8h0M145.3 316.3h0M111.5 317.0h0M122.9 317.4h0M120.1 316.8h0M113.4 320.2h0M119.1 322.8h0M118.0 324.9h0M124.6 323.5h0M103.9 322.7h0M125.4 321.3h0M126.2 325.0h0M136.7 321.2h0M126.8 319.7h0M114.3 324.8h0M102.3 326.7h0M104.1 322.4h0M108.6 319.3h0M125.4 314.9h0M137.9 315.2h0M128.7 320.0h0M115.1 323.2h0M136.4 321.1h0M109.7 322.4h0M132.3 317.3h0M122.8 326.1h0M110.8 321.7h0M131.4 318.8h0M118.8 320.6h0M122.3 317.3h0M96.6 326.3h0M108.4 319.0h0M130.7 318.8h0M116.3 317.6h0M115.2 323.3h0M133.0 323.3h0M102.6 321.7h0M128.0 317.9h0M106.7 321.4h0M133.8 316.7h0M129.7 323.5h0M110.2 317.8h0M115.1 320.6h0M110.4 322.5h0M131.7 325.0h0M118.2 326.2h0M109.7 323.2h0M134.4 328.2h0M126.5 321.7h0M118.3 318.1h0M127.1 327.2h0M128.3 320.8h0M115.6 318.3h0M137.4 320.4h0M134.9 317.6h0M129.1 323.9h0M117.0 319.8h0M140.9 323.8h0M110.2 327.6h0M127.4 327.5h0M117.5 320.9h0M105.0 317.4h0M96.4 322.2h0M119.2 327.4h0M145.5 318.5h0M123.0 322.9h0M113.4 318.5h0M109.6 323.0h0M121.2 315.0h0M117.0 317.9h0M105.7 322.8h0M107.5 323.2h0M125.9 321.9h0M112.3 318.9h0M97.3 319.9h0M142.6 321.0h0M117.3 319.2h0M109.8 317.9h0M122.8 324.8h0M104.5 324.7h0M112.6 323.2h0M104.7 328.2h0M143.6 315.8h0M114.0 329.7h0M108.2 309.5h0M80.3 316.3h0M135.6 314.4h0M115.5 298.6h0M110.7 319.2h0M107.9 316.4h0M100.0 312.4h0M135.4 310.3h0M137.4 308.7h0M137.1 319.9h0M127.8 319.3h0M125.8 342.5h0M84.0 315.7h0M124.6 334.5h0M99.2 321.8h0M131.8 316.7h0M119.1 323.7h0M133.6 325.2h0M124.7 315.5h0M111.2 341.3h0M99.6 318.0h0M108.5 322.0h0M105.4 328.0h0M107.5 316.1h0M95.6 317.1h0M95.0 318.7h0M126.2 306.1h0M146.8 328.6h0M121.8 318.0h0M134.0 325.3h0M112.3 322.9h0M120.7 313.8h0M139.4 309.1h0M125.3 313.0h0M117.9 319.3h0M121.4 335.5h0M111.8 326.5h0M124.8 323.7h0M101.5 321.4h0M94.0 331.7h0M141.1 323.0h0M126.8 321.2h0" stroke="#bebebe" stroke-width="2.40" stroke-linecap="round" fill="none"/>
<path d="M116.5 234.7h0M113.3 255.7h0M119.9 267.5h0M123.1 268.3h0M113.9 272.3h0M131.5 274.9h0M124.9 274.9h0M109.9 273.3h0M124.9 283.8h0M121.2 286.7h0M147.5 285.9h0M114.4 292.0h0M116.5 307.5h0M118.3 309.1h0M115.2 308.8h0M119.9 310.1h0M130.2 304.3h0M130.4 309.6h0M124.4 312.7h0M130.9 312.7h0M139.3 313.5h0M146.7 314.1h0M109.9 309.6h0M113.9 312.7h0M161.2 327.5h0M161.9 330.1h0M114.4 330.6h0M116.5 332.4h0M100.7 329.3h0M115.6 335.0h0M119.1 333.3h0M113.9 342.0h0M119.1 347.3h0M125.4 345.6h0M124.4 352.6h0M114.9 352.6h0M119.1 357.8h0M111.4 360.3h0M115.6 361.3h0M109.7 363.8h0M117.4 364.8h0M112.8 366.6h0M124.4 366.6h0M119.1 369.0h0M120.9 371.1h0M100.6 356.1h0M115.6 375.3h0M123.3 372.9h0M119.8 384.1h0M127.2 381.6h0M124.4 406.2h0M121.9 329.8h0M112.1 328.0h0" stroke="#e673bb" stroke-width="2.40" stroke-linecap="round" fill="none"/>
<path d="M152.0 308.3h0M152.5 316.2h0M161.9 316.2h0M154.6 321.4h0M155.1 323.3h0M82.1 325.4h0M82.1 327.2h0M172.2 316.2h0M161.9 325.9h0" stroke="#66b82e" stroke-width="2.40" stroke-linecap="round" fill="none"/>
<path d="M159.1 312.7h0M179.8 306.2h0" stroke="#f39c12" stroke-width="2.40" stroke-linecap="round" fill="none"/>
<line x1="123.30" y1="256.00" x2="120.20" y2="267.00" stroke="#222" stroke-width="0.55"/>
<line x1="131.60" y1="265.00" x2="124.00" y2="268.30" stroke="#222" stroke-width="0.55"/>
<line x1="134.40" y1="280.00" x2="125.60" y2="283.80" stroke="#222" stroke-width="0.55"/>
<line x1="160.60" y1="300.40" x2="159.10" y2="312.20" stroke="#222" stroke-width="0.55"/>
<line x1="197.40" y1="299.60" x2="180.30" y2="306.20" stroke="#222" stroke-width="0.55"/>
<line x1="166.10" y1="328.30" x2="161.50" y2="325.60" stroke="#222" stroke-width="0.55"/>
<line x1="162.50" y1="333.40" x2="161.00" y2="329.00" stroke="#222" stroke-width="0.55"/>
<text x="94.90" y="231.28" font-size="7.50">ANXA1.3</text>
<text x="64.70" y="253.59" font-size="7.50">THUMPD3.1</text>
<text x="123.10" y="255.69" font-size="7.50">EPRS1.2</text>
<text x="132.30" y="265.39" font-size="7.50">LEO1.1</text>
<text x="87.60" y="271.99" font-size="7.50">TAF7.1</text>
<text x="132.80" y="273.79" font-size="7.50">RAB11A.2</text>
<text x="73.10" y="279.89" font-size="7.50">LGALS3.1</text>
<text x="134.90" y="281.99" font-size="7.50">SAMD4B.1</text>
<text x="149.30" y="291.19" font-size="7.50">FRMD6.5</text>
<text x="116.50" y="295.59" font-size="7.50">PARG.1</text>
<text x="150.60" y="299.59" font-size="7.50">SLC20A2.1</text>
<text x="197.90" y="299.59" font-size="7.50">CCN2.1</text>
<text x="43.80" y="322.59" font-size="7.50">RASSF3.1</text>
<text x="44.50" y="334.79" font-size="7.50">RASSF3.2</text>
<text x="174.10" y="322.59" font-size="7.50">ERRFI1.1</text>
<text x="164.70" y="332.39" font-size="7.50">AMACR.1</text>
<text x="148.20" y="342.19" font-size="7.50">SOHLH2.2</text>
<text x="73.60" y="358.59" font-size="7.50">ETS1.1</text>
<text x="81.30" y="376.89" font-size="7.50">ROCK2.1</text>
<text x="126.80" y="376.89" font-size="7.50">COPA.3</text>
<text x="86.90" y="390.19" font-size="7.50">RBM26.2</text>
<text x="128.90" y="387.69" font-size="7.50">NFE2L2.3</text>
<text x="124.40" y="415.79" font-size="7.50">NDUFA13.1</text>
<text x="24.00" y="256.72" font-size="7.60" text-anchor="end">10</text>
<text x="24.00" y="324.42" font-size="7.60" text-anchor="end">0</text>
<text x="24.00" y="393.42" font-size="7.60" text-anchor="end">-10</text>
<text x="57.10" y="449.96" font-size="8.00" text-anchor="middle">−2</text>
<text x="119.10" y="449.96" font-size="8.00" text-anchor="middle">0</text>
<text x="183.30" y="449.96" font-size="8.00" text-anchor="middle">2</text>
<text transform="translate(6.90 334.20) rotate(-90)" y="2.11" font-size="7.85" text-anchor="middle">log<tspan font-size="5" dy="2">2</tspan><tspan dy="-2"> fold-change in antigen abundance</tspan></text>
<text x="127.90" y="459.94" font-size="8.50" text-anchor="middle">log<tspan font-size="5" dy="2">2</tspan><tspan dy="-2"> fold-change in the proteome</tspan></text>
<!-- Panel E -->
<text x="240.60" y="238.00" font-size="8" font-weight="bold">E</text>
<text transform="matrix(1.413 0 0 0.862 256.90 310.08)" font-size="10" font-weight="bold" style="stroke:none" fill="#1a1a1a">A</text>
<text transform="matrix(1.582 0 0 0.513 256.79 313.86)" font-size="10" font-weight="bold" style="stroke:none" fill="#12994d">S</text>
<text transform="matrix(1.451 0 0 0.528 257.15 317.74)" font-size="10" font-weight="bold" style="stroke:none" fill="#1a1a1a">V</text>
<rect x="257.45" y="318.04" width="9.08" height="2.67" fill="#12994d" opacity="0.3"/>
<text transform="matrix(1.405 0 0 0.405 256.67 320.77)" font-size="10" font-weight="bold" style="stroke:none" fill="#12994d">G</text>
<text transform="matrix(1.546 0 0 0.461 256.22 324.18)" font-size="10" font-weight="bold" style="stroke:none" fill="#dd2244">D</text>
<rect x="257.45" y="324.48" width="9.08" height="2.05" fill="#dd2244" opacity="0.3"/>
<text transform="matrix(1.690 0 0 0.327 256.12 326.64)" font-size="10" font-weight="bold" style="stroke:none" fill="#dd2244">E</text>
<rect x="257.45" y="326.94" width="9.08" height="1.75" fill="#2a68b3" opacity="0.3"/>
<text transform="matrix(1.493 0 0 0.283 256.25 328.78)" font-size="10" font-weight="bold" style="stroke:none" fill="#2a68b3">R</text>
<rect x="257.45" y="329.08" width="9.08" height="2.05" fill="#1a1a1a" opacity="0.3"/>
<text transform="matrix(1.847 0 0 0.327 256.01 331.23)" font-size="10" font-weight="bold" style="stroke:none" fill="#1a1a1a">L</text>
<rect x="257.45" y="331.53" width="9.08" height="2.21" fill="#12994d" opacity="0.3"/>
<text transform="matrix(1.610 0 0 0.350 257.07 333.84)" font-size="10" font-weight="bold" style="stroke:none" fill="#12994d">T</text>
<rect x="257.45" y="334.14" width="9.08" height="1.59" fill="#1a1a1a" opacity="0.3"/>
<text transform="matrix(1.675 0 0 0.261 256.13 335.83)" font-size="10" font-weight="bold" style="stroke:none" fill="#1a1a1a">P</text>
<rect x="257.45" y="336.13" width="9.08" height="1.44" fill="#6a22b5" opacity="0.3"/>
<text transform="matrix(1.613 0 0 0.238 256.17 337.67)" font-size="10" font-weight="bold" style="stroke:none" fill="#6a22b5">N</text>
<rect x="257.45" y="337.97" width="9.08" height="1.44" fill="#2a68b3" opacity="0.3"/>
<text transform="matrix(1.468 0 0 0.238 256.27 339.51)" font-size="10" font-weight="bold" style="stroke:none" fill="#2a68b3">K</text>
<rect x="257.45" y="339.81" width="9.08" height="1.13" fill="#6a22b5" opacity="0.3"/>
<text transform="matrix(1.364 0 0 0.149 256.69 340.75)" font-size="10" font-weight="bold" style="stroke:none" fill="#6a22b5">Q</text>
<rect x="257.45" y="341.34" width="9.08" height="0.83" fill="#1a1a1a" opacity="0.3"/>
<text transform="matrix(6.581 0 0 0.149 252.85 342.27)" font-size="10" font-weight="bold" style="stroke:none" fill="#1a1a1a">I</text>
<rect x="257.45" y="342.57" width="9.08" height="1.13" fill="#2a68b3" opacity="0.3"/>
<text transform="matrix(1.613 0 0 0.194 256.17 343.80)" font-size="10" font-weight="bold" style="stroke:none" fill="#2a68b3">H</text>
<text transform="matrix(1.675 0 0 2.422 266.21 280.19)" font-size="10" font-weight="bold" style="stroke:none" fill="#1a1a1a">P</text>
<text transform="matrix(1.451 0 0 1.642 267.23 291.69)" font-size="10" font-weight="bold" style="stroke:none" fill="#1a1a1a">V</text>
<text transform="matrix(1.847 0 0 0.862 266.09 297.82)" font-size="10" font-weight="bold" style="stroke:none" fill="#1a1a1a">L</text>
<text transform="matrix(1.405 0 0 0.881 266.75 304.17)" font-size="10" font-weight="bold" style="stroke:none" fill="#12994d">G</text>
<text transform="matrix(1.413 0 0 0.862 266.98 310.39)" font-size="10" font-weight="bold" style="stroke:none" fill="#1a1a1a">A</text>
<text transform="matrix(1.610 0 0 0.706 267.15 315.45)" font-size="10" font-weight="bold" style="stroke:none" fill="#12994d">T</text>
<text transform="matrix(1.690 0 0 0.528 266.20 319.28)" font-size="10" font-weight="bold" style="stroke:none" fill="#dd2244">E</text>
<text transform="matrix(1.546 0 0 0.595 266.30 323.57)" font-size="10" font-weight="bold" style="stroke:none" fill="#dd2244">D</text>
<rect x="267.53" y="323.87" width="9.08" height="2.67" fill="#1a1a1a" opacity="0.3"/>
<text transform="matrix(6.581 0 0 0.417 262.93 326.64)" font-size="10" font-weight="bold" style="stroke:none" fill="#1a1a1a">I</text>
<text transform="matrix(1.582 0 0 0.448 266.87 329.96)" font-size="10" font-weight="bold" style="stroke:none" fill="#12994d">S</text>
<rect x="267.53" y="330.31" width="9.08" height="2.67" fill="#2a68b3" opacity="0.3"/>
<text transform="matrix(1.493 0 0 0.417 266.33 333.07)" font-size="10" font-weight="bold" style="stroke:none" fill="#2a68b3">R</text>
<rect x="267.53" y="333.37" width="9.08" height="1.90" fill="#6a22b5" opacity="0.3"/>
<text transform="matrix(1.364 0 0 0.235 266.77 334.91)" font-size="10" font-weight="bold" style="stroke:none" fill="#6a22b5">Q</text>
<rect x="267.53" y="335.67" width="9.08" height="1.59" fill="#2a68b3" opacity="0.3"/>
<text transform="matrix(1.468 0 0 0.261 266.35 337.36)" font-size="10" font-weight="bold" style="stroke:none" fill="#2a68b3">K</text>
<rect x="267.53" y="337.66" width="9.08" height="1.44" fill="#6a22b5" opacity="0.3"/>
<text transform="matrix(1.613 0 0 0.238 266.25 339.20)" font-size="10" font-weight="bold" style="stroke:none" fill="#6a22b5">N</text>
<rect x="267.53" y="339.50" width="9.08" height="1.44" fill="#12994d" opacity="0.3"/>
<text transform="matrix(1.496 0 0 0.238 267.07 341.04)" font-size="10" font-weight="bold" style="stroke:none" fill="#12994d">Y</text>
<rect x="267.53" y="341.34" width="9.08" height="0.98" fill="#2a68b3" opacity="0.3"/>
<text transform="matrix(1.613 0 0 0.171 266.25 342.42)" font-size="10" font-weight="bold" style="stroke:none" fill="#2a68b3">H</text>
<rect x="267.53" y="342.72" width="9.08" height="0.98" fill="#1a1a1a" opacity="0.3"/>
<text transform="matrix(1.869 0 0 0.171 266.08 343.80)" font-size="10" font-weight="bold" style="stroke:none" fill="#1a1a1a">F</text>
<text transform="matrix(1.413 0 0 0.974 277.06 316.21)" font-size="10" font-weight="bold" style="stroke:none" fill="#1a1a1a">A</text>
<rect x="277.61" y="316.51" width="9.08" height="2.67" fill="#1a1a1a" opacity="0.3"/>
<text transform="matrix(1.847 0 0 0.417 276.17 319.28)" font-size="10" font-weight="bold" style="stroke:none" fill="#1a1a1a">L</text>
<rect x="277.61" y="319.58" width="9.08" height="2.67" fill="#12994d" opacity="0.3"/>
<text transform="matrix(1.582 0 0 0.405 276.95 322.30)" font-size="10" font-weight="bold" style="stroke:none" fill="#12994d">S</text>
<text transform="matrix(1.493 0 0 0.528 276.41 326.18)" font-size="10" font-weight="bold" style="stroke:none" fill="#2a68b3">R</text>
<rect x="277.61" y="326.48" width="9.08" height="2.21" fill="#12994d" opacity="0.3"/>
<text transform="matrix(1.610 0 0 0.350 277.23 328.78)" font-size="10" font-weight="bold" style="stroke:none" fill="#12994d">T</text>
<rect x="277.61" y="329.08" width="9.08" height="2.05" fill="#dd2244" opacity="0.3"/>
<text transform="matrix(1.690 0 0 0.327 276.28 331.23)" font-size="10" font-weight="bold" style="stroke:none" fill="#dd2244">E</text>
<rect x="277.61" y="331.53" width="9.08" height="1.75" fill="#2a68b3" opacity="0.3"/>
<text transform="matrix(1.468 0 0 0.283 276.43 333.38)" font-size="10" font-weight="bold" style="stroke:none" fill="#2a68b3">K</text>
<rect x="277.61" y="333.68" width="9.08" height="1.59" fill="#12994d" opacity="0.3"/>
<text transform="matrix(1.405 0 0 0.253 276.83 335.35)" font-size="10" font-weight="bold" style="stroke:none" fill="#12994d">G</text>
<rect x="277.61" y="335.67" width="9.08" height="1.59" fill="#6a22b5" opacity="0.3"/>
<text transform="matrix(1.364 0 0 0.200 276.85 336.97)" font-size="10" font-weight="bold" style="stroke:none" fill="#6a22b5">Q</text>
<rect x="277.61" y="337.66" width="9.08" height="1.44" fill="#dd2244" opacity="0.3"/>
<text transform="matrix(1.546 0 0 0.238 276.38 339.20)" font-size="10" font-weight="bold" style="stroke:none" fill="#dd2244">D</text>
<rect x="277.61" y="339.50" width="9.08" height="1.13" fill="#1a1a1a" opacity="0.3"/>
<text transform="matrix(1.451 0 0 0.194 277.31 340.74)" font-size="10" font-weight="bold" style="stroke:none" fill="#1a1a1a">V</text>
<rect x="277.61" y="341.04" width="9.08" height="1.13" fill="#6a22b5" opacity="0.3"/>
<text transform="matrix(1.613 0 0 0.194 276.33 342.27)" font-size="10" font-weight="bold" style="stroke:none" fill="#6a22b5">N</text>
<rect x="277.61" y="342.57" width="9.08" height="1.13" fill="#2a68b3" opacity="0.3"/>
<text transform="matrix(1.613 0 0 0.194 276.33 343.80)" font-size="10" font-weight="bold" style="stroke:none" fill="#2a68b3">H</text>
<text transform="matrix(1.675 0 0 0.929 286.37 295.98)" font-size="10" font-weight="bold" style="stroke:none" fill="#1a1a1a">P</text>
<text transform="matrix(1.405 0 0 0.924 286.91 302.63)" font-size="10" font-weight="bold" style="stroke:none" fill="#12994d">G</text>
<text transform="matrix(1.546 0 0 0.706 286.46 307.78)" font-size="10" font-weight="bold" style="stroke:none" fill="#dd2244">D</text>
<text transform="matrix(1.582 0 0 0.686 287.03 312.77)" font-size="10" font-weight="bold" style="stroke:none" fill="#12994d">S</text>
<text transform="matrix(1.847 0 0 0.461 286.25 316.21)" font-size="10" font-weight="bold" style="stroke:none" fill="#1a1a1a">L</text>
<text transform="matrix(1.413 0 0 1.085 287.14 323.88)" font-size="10" font-weight="bold" style="stroke:none" fill="#1a1a1a">A</text>
<text transform="matrix(1.364 0 0 0.406 286.93 326.91)" font-size="10" font-weight="bold" style="stroke:none" fill="#6a22b5">Q</text>
<text transform="matrix(1.690 0 0 0.528 286.36 331.54)" font-size="10" font-weight="bold" style="stroke:none" fill="#dd2244">E</text>
<rect x="287.69" y="331.84" width="9.08" height="1.90" fill="#12994d" opacity="0.3"/>
<text transform="matrix(1.610 0 0 0.305 287.31 333.84)" font-size="10" font-weight="bold" style="stroke:none" fill="#12994d">T</text>
<rect x="287.69" y="334.14" width="9.08" height="1.90" fill="#2a68b3" opacity="0.3"/>
<text transform="matrix(1.468 0 0 0.305 286.51 336.14)" font-size="10" font-weight="bold" style="stroke:none" fill="#2a68b3">K</text>
<rect x="287.69" y="336.44" width="9.08" height="1.44" fill="#2a68b3" opacity="0.3"/>
<text transform="matrix(1.493 0 0 0.238 286.49 337.98)" font-size="10" font-weight="bold" style="stroke:none" fill="#2a68b3">R</text>
<rect x="287.69" y="338.28" width="9.08" height="1.29" fill="#6a22b5" opacity="0.3"/>
<text transform="matrix(1.613 0 0 0.216 286.41 339.66)" font-size="10" font-weight="bold" style="stroke:none" fill="#6a22b5">N</text>
<rect x="287.69" y="339.96" width="9.08" height="1.13" fill="#1a1a1a" opacity="0.3"/>
<text transform="matrix(1.451 0 0 0.194 287.39 341.20)" font-size="10" font-weight="bold" style="stroke:none" fill="#1a1a1a">V</text>
<rect x="287.69" y="341.50" width="9.08" height="0.98" fill="#2a68b3" opacity="0.3"/>
<text transform="matrix(1.613 0 0 0.171 286.41 342.58)" font-size="10" font-weight="bold" style="stroke:none" fill="#2a68b3">H</text>
<rect x="287.69" y="342.88" width="9.08" height="0.83" fill="#12994d" opacity="0.3"/>
<text transform="matrix(1.496 0 0 0.149 287.23 343.80)" font-size="10" font-weight="bold" style="stroke:none" fill="#12994d">Y</text>
<text transform="matrix(1.413 0 0 0.751 297.22 301.65)" font-size="10" font-weight="bold" style="stroke:none" fill="#1a1a1a">A</text>
<text transform="matrix(1.675 0 0 0.639 296.45 306.25)" font-size="10" font-weight="bold" style="stroke:none" fill="#1a1a1a">P</text>
<text transform="matrix(1.405 0 0 0.621 296.99 310.79)" font-size="10" font-weight="bold" style="stroke:none" fill="#12994d">G</text>
<text transform="matrix(1.451 0 0 0.572 297.47 314.99)" font-size="10" font-weight="bold" style="stroke:none" fill="#1a1a1a">V</text>
<text transform="matrix(1.582 0 0 0.470 297.11 318.47)" font-size="10" font-weight="bold" style="stroke:none" fill="#12994d">S</text>
<text transform="matrix(1.690 0 0 0.528 296.44 322.34)" font-size="10" font-weight="bold" style="stroke:none" fill="#dd2244">E</text>
<rect x="297.77" y="322.64" width="9.08" height="2.67" fill="#12994d" opacity="0.3"/>
<text transform="matrix(1.610 0 0 0.417 297.39 325.41)" font-size="10" font-weight="bold" style="stroke:none" fill="#12994d">T</text>
<text transform="matrix(1.468 0 0 0.639 296.59 330.01)" font-size="10" font-weight="bold" style="stroke:none" fill="#2a68b3">K</text>
<text transform="matrix(1.546 0 0 0.528 296.54 333.84)" font-size="10" font-weight="bold" style="stroke:none" fill="#dd2244">D</text>
<rect x="297.77" y="334.14" width="9.08" height="1.59" fill="#1a1a1a" opacity="0.3"/>
<text transform="matrix(1.847 0 0 0.261 296.33 335.83)" font-size="10" font-weight="bold" style="stroke:none" fill="#1a1a1a">L</text>
<rect x="297.77" y="336.13" width="9.08" height="1.44" fill="#2a68b3" opacity="0.3"/>
<text transform="matrix(1.493 0 0 0.238 296.57 337.67)" font-size="10" font-weight="bold" style="stroke:none" fill="#2a68b3">R</text>
<rect x="297.77" y="337.97" width="9.08" height="1.44" fill="#6a22b5" opacity="0.3"/>
<text transform="matrix(1.364 0 0 0.183 297.01 339.15)" font-size="10" font-weight="bold" style="stroke:none" fill="#6a22b5">Q</text>
<rect x="297.77" y="339.81" width="9.08" height="1.13" fill="#6a22b5" opacity="0.3"/>
<text transform="matrix(1.613 0 0 0.194 296.49 341.04)" font-size="10" font-weight="bold" style="stroke:none" fill="#6a22b5">N</text>
<rect x="297.77" y="341.34" width="9.08" height="0.98" fill="#1a1a1a" opacity="0.3"/>
<text transform="matrix(6.581 0 0 0.171 293.17 342.42)" font-size="10" font-weight="bold" style="stroke:none" fill="#1a1a1a">I</text>
<rect x="297.77" y="342.72" width="9.08" height="0.98" fill="#2a68b3" opacity="0.3"/>
<text transform="matrix(1.613 0 0 0.171 296.49 343.80)" font-size="10" font-weight="bold" style="stroke:none" fill="#2a68b3">H</text>
<text transform="matrix(1.451 0 0 0.595 307.55 312.84)" font-size="10" font-weight="bold" style="stroke:none" fill="#1a1a1a">V</text>
<rect x="307.85" y="313.14" width="9.08" height="1.75" fill="#1a1a1a" opacity="0.3"/>
<text transform="matrix(1.847 0 0 0.283 306.41 314.99)" font-size="10" font-weight="bold" style="stroke:none" fill="#1a1a1a">L</text>
<text transform="matrix(1.610 0 0 0.483 307.47 318.51)" font-size="10" font-weight="bold" style="stroke:none" fill="#12994d">T</text>
<text transform="matrix(1.413 0 0 0.639 307.30 323.11)" font-size="10" font-weight="bold" style="stroke:none" fill="#1a1a1a">A</text>
<text transform="matrix(1.582 0 0 0.513 307.19 326.89)" font-size="10" font-weight="bold" style="stroke:none" fill="#12994d">S</text>
<rect x="307.85" y="327.24" width="9.08" height="1.90" fill="#12994d" opacity="0.3"/>
<text transform="matrix(1.405 0 0 0.296 307.07 329.21)" font-size="10" font-weight="bold" style="stroke:none" fill="#12994d">G</text>
<rect x="307.85" y="329.54" width="9.08" height="1.90" fill="#dd2244" opacity="0.3"/>
<text transform="matrix(1.690 0 0 0.305 306.52 331.54)" font-size="10" font-weight="bold" style="stroke:none" fill="#dd2244">E</text>
<rect x="307.85" y="331.84" width="9.08" height="1.44" fill="#1a1a1a" opacity="0.3"/>
<text transform="matrix(1.675 0 0 0.238 306.53 333.38)" font-size="10" font-weight="bold" style="stroke:none" fill="#1a1a1a">P</text>
<rect x="307.85" y="333.68" width="9.08" height="1.44" fill="#2a68b3" opacity="0.3"/>
<text transform="matrix(1.468 0 0 0.238 306.67 335.22)" font-size="10" font-weight="bold" style="stroke:none" fill="#2a68b3">K</text>
<rect x="307.85" y="335.52" width="9.08" height="1.44" fill="#2a68b3" opacity="0.3"/>
<text transform="matrix(1.493 0 0 0.238 306.65 337.06)" font-size="10" font-weight="bold" style="stroke:none" fill="#2a68b3">R</text>
<rect x="307.85" y="337.36" width="9.08" height="1.44" fill="#dd2244" opacity="0.3"/>
<text transform="matrix(1.546 0 0 0.238 306.62 338.90)" font-size="10" font-weight="bold" style="stroke:none" fill="#dd2244">D</text>
<rect x="307.85" y="339.20" width="9.08" height="1.13" fill="#6a22b5" opacity="0.3"/>
<text transform="matrix(1.364 0 0 0.149 307.09 340.14)" font-size="10" font-weight="bold" style="stroke:none" fill="#6a22b5">Q</text>
<rect x="307.85" y="340.73" width="9.08" height="0.98" fill="#6a22b5" opacity="0.3"/>
<text transform="matrix(1.613 0 0 0.171 306.57 341.81)" font-size="10" font-weight="bold" style="stroke:none" fill="#6a22b5">N</text>
<rect x="307.85" y="342.11" width="9.08" height="0.67" fill="#1a1a1a" opacity="0.3"/>
<text transform="matrix(6.581 0 0 0.127 303.25 342.88)" font-size="10" font-weight="bold" style="stroke:none" fill="#1a1a1a">I</text>
<rect x="307.85" y="343.18" width="9.08" height="0.52" fill="#2a68b3" opacity="0.3"/>
<text transform="matrix(1.613 0 0 0.105 306.57 343.80)" font-size="10" font-weight="bold" style="stroke:none" fill="#2a68b3">H</text>
<text transform="matrix(1.847 0 0 0.684 316.49 308.85)" font-size="10" font-weight="bold" style="stroke:none" fill="#1a1a1a">L</text>
<text transform="matrix(1.405 0 0 0.535 317.15 312.79)" font-size="10" font-weight="bold" style="stroke:none" fill="#12994d">G</text>
<text transform="matrix(1.582 0 0 0.448 317.27 316.17)" font-size="10" font-weight="bold" style="stroke:none" fill="#12994d">S</text>
<rect x="317.93" y="316.51" width="9.08" height="2.67" fill="#6a22b5" opacity="0.3"/>
<text transform="matrix(1.364 0 0 0.320 317.17 318.65)" font-size="10" font-weight="bold" style="stroke:none" fill="#6a22b5">Q</text>
<text transform="matrix(1.451 0 0 0.528 317.63 323.11)" font-size="10" font-weight="bold" style="stroke:none" fill="#1a1a1a">V</text>
<rect x="317.93" y="323.41" width="9.08" height="2.21" fill="#12994d" opacity="0.3"/>
<text transform="matrix(1.610 0 0 0.350 317.55 325.72)" font-size="10" font-weight="bold" style="stroke:none" fill="#12994d">T</text>
<rect x="317.93" y="326.02" width="9.08" height="0.83" fill="#1a1a1a" opacity="0.3"/>
<text transform="matrix(6.581 0 0 0.149 313.33 326.94)" font-size="10" font-weight="bold" style="stroke:none" fill="#1a1a1a">I</text>
<rect x="317.93" y="327.24" width="9.08" height="1.90" fill="#dd2244" opacity="0.3"/>
<text transform="matrix(1.690 0 0 0.305 316.60 329.24)" font-size="10" font-weight="bold" style="stroke:none" fill="#dd2244">E</text>
<rect x="317.93" y="329.54" width="9.08" height="2.67" fill="#1a1a1a" opacity="0.3"/>
<text transform="matrix(1.413 0 0 0.417 317.38 332.31)" font-size="10" font-weight="bold" style="stroke:none" fill="#1a1a1a">A</text>
<rect x="317.93" y="332.61" width="9.08" height="1.59" fill="#2a68b3" opacity="0.3"/>
<text transform="matrix(1.468 0 0 0.261 316.75 334.30)" font-size="10" font-weight="bold" style="stroke:none" fill="#2a68b3">K</text>
<rect x="317.93" y="334.60" width="9.08" height="1.44" fill="#1a1a1a" opacity="0.3"/>
<text transform="matrix(1.675 0 0 0.238 316.61 336.14)" font-size="10" font-weight="bold" style="stroke:none" fill="#1a1a1a">P</text>
<rect x="317.93" y="336.44" width="9.08" height="1.44" fill="#2a68b3" opacity="0.3"/>
<text transform="matrix(1.493 0 0 0.238 316.73 337.98)" font-size="10" font-weight="bold" style="stroke:none" fill="#2a68b3">R</text>
<rect x="317.93" y="338.28" width="9.08" height="1.29" fill="#dd2244" opacity="0.3"/>
<text transform="matrix(1.546 0 0 0.216 316.70 339.66)" font-size="10" font-weight="bold" style="stroke:none" fill="#dd2244">D</text>
<rect x="317.93" y="339.96" width="9.08" height="1.13" fill="#6a22b5" opacity="0.3"/>
<text transform="matrix(1.613 0 0 0.194 316.65 341.20)" font-size="10" font-weight="bold" style="stroke:none" fill="#6a22b5">N</text>
<rect x="317.93" y="341.50" width="9.08" height="0.98" fill="#1a1a1a" opacity="0.3"/>
<text transform="matrix(1.869 0 0 0.171 316.48 342.58)" font-size="10" font-weight="bold" style="stroke:none" fill="#1a1a1a">F</text>
<rect x="317.93" y="342.88" width="9.08" height="0.83" fill="#2a68b3" opacity="0.3"/>
<text transform="matrix(1.613 0 0 0.149 316.65 343.80)" font-size="10" font-weight="bold" style="stroke:none" fill="#2a68b3">H</text>
<text transform="matrix(1.413 0 0 0.595 327.46 307.02)" font-size="10" font-weight="bold" style="stroke:none" fill="#1a1a1a">A</text>
<text transform="matrix(1.847 0 0 0.528 326.57 310.85)" font-size="10" font-weight="bold" style="stroke:none" fill="#1a1a1a">L</text>
<text transform="matrix(1.451 0 0 0.639 327.71 315.45)" font-size="10" font-weight="bold" style="stroke:none" fill="#1a1a1a">V</text>
<text transform="matrix(1.610 0 0 0.528 327.63 319.28)" font-size="10" font-weight="bold" style="stroke:none" fill="#12994d">T</text>
<rect x="328.01" y="319.58" width="9.08" height="2.67" fill="#12994d" opacity="0.3"/>
<text transform="matrix(1.582 0 0 0.405 327.35 322.30)" font-size="10" font-weight="bold" style="stroke:none" fill="#12994d">S</text>
<rect x="328.01" y="322.64" width="9.08" height="2.67" fill="#dd2244" opacity="0.3"/>
<text transform="matrix(1.690 0 0 0.417 326.68 325.41)" font-size="10" font-weight="bold" style="stroke:none" fill="#dd2244">E</text>
<rect x="328.01" y="325.71" width="9.08" height="2.36" fill="#6a22b5" opacity="0.3"/>
<text transform="matrix(1.364 0 0 0.286 327.25 327.61)" font-size="10" font-weight="bold" style="stroke:none" fill="#6a22b5">Q</text>
<rect x="328.01" y="328.47" width="9.08" height="1.75" fill="#dd2244" opacity="0.3"/>
<text transform="matrix(1.546 0 0 0.283 326.78 330.31)" font-size="10" font-weight="bold" style="stroke:none" fill="#dd2244">D</text>
<rect x="328.01" y="330.61" width="9.08" height="1.59" fill="#1a1a1a" opacity="0.3"/>
<text transform="matrix(6.581 0 0 0.261 323.41 332.31)" font-size="10" font-weight="bold" style="stroke:none" fill="#1a1a1a">I</text>
<rect x="328.01" y="332.61" width="9.08" height="1.59" fill="#12994d" opacity="0.3"/>
<text transform="matrix(1.405 0 0 0.253 327.23 334.27)" font-size="10" font-weight="bold" style="stroke:none" fill="#12994d">G</text>
<rect x="328.01" y="334.60" width="9.08" height="1.44" fill="#2a68b3" opacity="0.3"/>
<text transform="matrix(1.468 0 0 0.238 326.83 336.14)" font-size="10" font-weight="bold" style="stroke:none" fill="#2a68b3">K</text>
<rect x="328.01" y="336.44" width="9.08" height="1.44" fill="#1a1a1a" opacity="0.3"/>
<text transform="matrix(1.675 0 0 0.238 326.69 337.98)" font-size="10" font-weight="bold" style="stroke:none" fill="#1a1a1a">P</text>
<rect x="328.01" y="338.28" width="9.08" height="1.29" fill="#2a68b3" opacity="0.3"/>
<text transform="matrix(1.493 0 0 0.216 326.81 339.66)" font-size="10" font-weight="bold" style="stroke:none" fill="#2a68b3">R</text>
<rect x="328.01" y="339.96" width="9.08" height="1.13" fill="#6a22b5" opacity="0.3"/>
<text transform="matrix(1.613 0 0 0.194 326.73 341.20)" font-size="10" font-weight="bold" style="stroke:none" fill="#6a22b5">N</text>
<rect x="328.01" y="341.50" width="9.08" height="0.98" fill="#1a1a1a" opacity="0.3"/>
<text transform="matrix(1.869 0 0 0.171 326.56 342.58)" font-size="10" font-weight="bold" style="stroke:none" fill="#1a1a1a">F</text>
<rect x="328.01" y="342.88" width="9.08" height="0.83" fill="#2a68b3" opacity="0.3"/>
<text transform="matrix(1.613 0 0 0.149 326.73 343.80)" font-size="10" font-weight="bold" style="stroke:none" fill="#2a68b3">H</text>
<text transform="matrix(1.847 0 0 3.090 336.65 280.96)" font-size="10" font-weight="bold" style="stroke:none" fill="#1a1a1a">L</text>
<text transform="matrix(1.468 0 0 2.021 336.91 295.06)" font-size="10" font-weight="bold" style="stroke:none" fill="#2a68b3">K</text>
<text transform="matrix(1.413 0 0 0.818 337.54 300.88)" font-size="10" font-weight="bold" style="stroke:none" fill="#1a1a1a">A</text>
<text transform="matrix(1.582 0 0 0.794 337.43 306.63)" font-size="10" font-weight="bold" style="stroke:none" fill="#12994d">S</text>
<text transform="matrix(1.869 0 0 0.572 336.64 310.85)" font-size="10" font-weight="bold" style="stroke:none" fill="#1a1a1a">F</text>
<text transform="matrix(1.690 0 0 0.639 336.76 315.45)" font-size="10" font-weight="bold" style="stroke:none" fill="#dd2244">E</text>
<text transform="matrix(1.610 0 0 0.528 337.71 319.28)" font-size="10" font-weight="bold" style="stroke:none" fill="#12994d">T</text>
<rect x="338.09" y="319.58" width="9.08" height="2.67" fill="#6a22b5" opacity="0.3"/>
<text transform="matrix(1.364 0 0 0.320 337.33 321.71)" font-size="10" font-weight="bold" style="stroke:none" fill="#6a22b5">Q</text>
<text transform="matrix(1.493 0 0 0.461 336.89 325.72)" font-size="10" font-weight="bold" style="stroke:none" fill="#2a68b3">R</text>
<rect x="338.09" y="326.02" width="9.08" height="2.67" fill="#12994d" opacity="0.3"/>
<text transform="matrix(1.496 0 0 0.417 337.63 328.78)" font-size="10" font-weight="bold" style="stroke:none" fill="#12994d">Y</text>
<rect x="338.09" y="329.08" width="9.08" height="1.75" fill="#dd2244" opacity="0.3"/>
<text transform="matrix(1.546 0 0 0.283 336.86 330.93)" font-size="10" font-weight="bold" style="stroke:none" fill="#dd2244">D</text>
<text transform="matrix(1.364 0 0 0.337 337.33 333.48)" font-size="10" font-weight="bold" style="stroke:none" fill="#6a22b5">Q</text>
<text transform="matrix(1.577 0 0 0.718 336.94 339.29)" font-size="10" font-weight="bold" style="stroke:none" fill="#1a1a1a">U</text>
<rect x="338.09" y="339.66" width="9.08" height="1.59" fill="#12994d" opacity="0.3"/>
<text transform="matrix(1.582 0 0 0.253 337.43 341.33)" font-size="10" font-weight="bold" style="stroke:none" fill="#12994d">S</text>
<rect x="338.09" y="341.65" width="9.08" height="0.67" fill="#1a1a1a" opacity="0.3"/>
<text transform="matrix(6.581 0 0 0.127 333.49 342.42)" font-size="10" font-weight="bold" style="stroke:none" fill="#1a1a1a">I</text>
<rect x="338.09" y="342.72" width="9.08" height="0.98" fill="#12994d" opacity="0.3"/>
<text transform="matrix(1.610 0 0 0.171 337.71 343.80)" font-size="10" font-weight="bold" style="stroke:none" fill="#12994d">T</text>
<text x="262.20" y="351.99" font-size="7.50" text-anchor="middle">1</text>
<text x="272.33" y="351.99" font-size="7.50" text-anchor="middle">2</text>
<text x="282.46" y="351.99" font-size="7.50" text-anchor="middle">3</text>
<text x="292.59" y="351.99" font-size="7.50" text-anchor="middle">4</text>
<text x="302.72" y="351.99" font-size="7.50" text-anchor="middle">5</text>
<text x="312.85" y="351.99" font-size="7.50" text-anchor="middle">6</text>
<text x="322.98" y="351.99" font-size="7.50" text-anchor="middle">7</text>
<text x="333.11" y="351.99" font-size="7.50" text-anchor="middle">8</text>
<text x="343.24" y="351.99" font-size="7.50" text-anchor="middle">9</text>
<text x="254.00" y="264.38" font-size="7.50" text-anchor="end">0.6</text>
<text x="254.00" y="291.29" font-size="7.50" text-anchor="end">0.4</text>
<text x="254.00" y="317.58" font-size="7.50" text-anchor="end">0.2</text>
<text x="254.00" y="343.88" font-size="7.50" text-anchor="end">0.0</text>
<text transform="translate(238.00 297.60) rotate(-90)" y="1.99" font-size="7.50" text-anchor="middle">Bits</text>
<text x="257.00" y="364.77" font-size="7.45">Amino acid property</text>
<rect x="237.30" y="370.80" width="3.20" height="3.20" fill="#dd2244"/>
<text x="242.50" y="374.49" font-size="7.50">Acidic</text>
<rect x="269.00" y="370.80" width="3.20" height="3.20" fill="#2a68b3"/>
<text x="274.20" y="374.49" font-size="7.50">Basic</text>
<rect x="299.90" y="370.80" width="3.20" height="3.20" fill="#1a1a1a"/>
<text x="305.10" y="374.49" font-size="7.50">Hydrophobic</text>
<rect x="257.20" y="380.80" width="3.20" height="3.20" fill="#6a22b5"/>
<text x="262.40" y="384.49" font-size="7.50">Neutral</text>
<rect x="295.20" y="380.80" width="3.20" height="3.20" fill="#12994d"/>
<text x="300.40" y="384.49" font-size="7.50">Polar</text>
<!-- Panel F -->
<text x="361.60" y="238.00" font-size="8" font-weight="bold">F</text>
<rect x="409.60" y="254.70" width="47.16" height="4.20" fill="#aaaaff"/>
<text x="406.60" y="259.06" font-size="8.00" text-anchor="end">1</text>
<line x1="407.40" y1="256.80" x2="408.20" y2="256.80" stroke="#222" stroke-width="0.60"/>
<rect x="409.60" y="262.69" width="48.16" height="4.20" fill="#aaaaff"/>
<text x="406.60" y="267.05" font-size="8.00" text-anchor="end">2</text>
<line x1="407.40" y1="264.79" x2="408.20" y2="264.79" stroke="#222" stroke-width="0.60"/>
<rect x="409.60" y="270.68" width="46.67" height="4.20" fill="#aaaaff"/>
<text x="406.60" y="275.04" font-size="8.00" text-anchor="end">3</text>
<line x1="407.40" y1="272.78" x2="408.20" y2="272.78" stroke="#222" stroke-width="0.60"/>
<rect x="409.60" y="278.67" width="48.16" height="4.20" fill="#aaaaff"/>
<text x="406.60" y="283.03" font-size="8.00" text-anchor="end">4</text>
<line x1="407.40" y1="280.77" x2="408.20" y2="280.77" stroke="#222" stroke-width="0.60"/>
<rect x="409.60" y="286.66" width="47.16" height="4.20" fill="#aaaaff"/>
<text x="406.60" y="291.02" font-size="8.00" text-anchor="end">5</text>
<line x1="407.40" y1="288.76" x2="408.20" y2="288.76" stroke="#222" stroke-width="0.60"/>
<rect x="409.60" y="294.65" width="49.40" height="4.20" fill="#aaaaff"/>
<text x="406.60" y="299.01" font-size="8.00" text-anchor="end">6</text>
<line x1="407.40" y1="296.75" x2="408.20" y2="296.75" stroke="#222" stroke-width="0.60"/>
<rect x="409.60" y="302.64" width="49.40" height="4.20" fill="#aaaaff"/>
<text x="406.60" y="307.00" font-size="8.00" text-anchor="end">7</text>
<line x1="407.40" y1="304.74" x2="408.20" y2="304.74" stroke="#222" stroke-width="0.60"/>
<rect x="409.60" y="310.63" width="48.90" height="4.20" fill="#aaaaff"/>
<text x="406.60" y="314.99" font-size="8.00" text-anchor="end">8</text>
<line x1="407.40" y1="312.73" x2="408.20" y2="312.73" stroke="#222" stroke-width="0.60"/>
<rect x="409.60" y="318.62" width="48.90" height="4.20" fill="#aaaaff"/>
<text x="406.60" y="322.98" font-size="8.00" text-anchor="end">9</text>
<line x1="407.40" y1="320.72" x2="408.20" y2="320.72" stroke="#222" stroke-width="0.60"/>
<rect x="409.60" y="326.61" width="48.90" height="4.20" fill="#aaaaff"/>
<text x="406.60" y="330.97" font-size="8.00" text-anchor="end">10</text>
<line x1="407.40" y1="328.71" x2="408.20" y2="328.71" stroke="#222" stroke-width="0.60"/>
<rect x="409.60" y="334.60" width="49.40" height="4.20" fill="#aaaaff"/>
<text x="406.60" y="338.96" font-size="8.00" text-anchor="end">11</text>
<line x1="407.40" y1="336.70" x2="408.20" y2="336.70" stroke="#222" stroke-width="0.60"/>
<rect x="409.60" y="342.59" width="49.40" height="4.20" fill="#aaaaff"/>
<text x="406.60" y="346.95" font-size="8.00" text-anchor="end">12</text>
<line x1="407.40" y1="344.69" x2="408.20" y2="344.69" stroke="#222" stroke-width="0.60"/>
<rect x="409.60" y="350.58" width="49.15" height="4.20" fill="#aaaaff"/>
<text x="406.60" y="354.94" font-size="8.00" text-anchor="end">13</text>
<line x1="407.40" y1="352.68" x2="408.20" y2="352.68" stroke="#222" stroke-width="0.60"/>
<rect x="409.60" y="358.57" width="48.90" height="4.20" fill="#aaaaff"/>
<text x="406.60" y="362.93" font-size="8.00" text-anchor="end">14</text>
<line x1="407.40" y1="360.67" x2="408.20" y2="360.67" stroke="#222" stroke-width="0.60"/>
<rect x="409.60" y="366.56" width="47.16" height="4.20" fill="#aaaaff"/>
<text x="406.60" y="370.92" font-size="8.00" text-anchor="end">15</text>
<line x1="407.40" y1="368.66" x2="408.20" y2="368.66" stroke="#222" stroke-width="0.60"/>
<line x1="409.60" y1="374.20" x2="466.00" y2="374.20" stroke="#222" stroke-width="0.80"/>
<line x1="409.60" y1="374.20" x2="409.60" y2="376.20" stroke="#222" stroke-width="0.70"/>
<text x="409.60" y="382.43" font-size="7.90" text-anchor="middle">0</text>
<line x1="437.80" y1="374.20" x2="437.80" y2="376.20" stroke="#222" stroke-width="0.70"/>
<text x="437.80" y="382.43" font-size="7.90" text-anchor="middle">5000</text>
<line x1="466.00" y1="374.20" x2="466.00" y2="376.20" stroke="#222" stroke-width="0.70"/>
<text x="466.00" y="382.43" font-size="7.90" text-anchor="middle">10000</text>
<text x="440.60" y="395.46" font-size="8.00" text-anchor="middle">Identified proteins</text>
<text transform="translate(386.40 310.60) rotate(-90)" y="2.16" font-size="8.00" text-anchor="middle">Fragment #</text>
<!-- Panel G -->
<text x="486.00" y="238.00" font-size="8" font-weight="bold">G</text>
<rect x="528.19" y="254.25" width="3.29" height="5.30" fill="#a6d0ff"/>
<rect x="607.51" y="254.25" width="41.01" height="5.30" fill="#a6d0ff"/>
<text x="525.40" y="259.66" font-size="8.00" text-anchor="end">1</text>
<line x1="526.30" y1="256.90" x2="527.10" y2="256.90" stroke="#222" stroke-width="0.60"/>
<line x1="605.30" y1="256.90" x2="606.10" y2="256.90" stroke="#222" stroke-width="0.60"/>
<rect x="528.19" y="262.22" width="1.80" height="5.30" fill="#a6d0ff"/>
<rect x="607.51" y="262.22" width="34.12" height="5.30" fill="#a6d0ff"/>
<text x="525.40" y="267.63" font-size="8.00" text-anchor="end">2</text>
<line x1="526.30" y1="264.87" x2="527.10" y2="264.87" stroke="#222" stroke-width="0.60"/>
<line x1="605.30" y1="264.87" x2="606.10" y2="264.87" stroke="#222" stroke-width="0.60"/>
<rect x="528.19" y="270.19" width="15.26" height="5.30" fill="#a6d0ff"/>
<rect x="607.51" y="270.19" width="42.50" height="5.30" fill="#a6d0ff"/>
<text x="525.40" y="275.60" font-size="8.00" text-anchor="end">3</text>
<line x1="526.30" y1="272.84" x2="527.10" y2="272.84" stroke="#222" stroke-width="0.60"/>
<line x1="605.30" y1="272.84" x2="606.10" y2="272.84" stroke="#222" stroke-width="0.60"/>
<rect x="528.19" y="278.16" width="17.66" height="5.30" fill="#a6d0ff"/>
<rect x="607.51" y="278.16" width="43.10" height="5.30" fill="#a6d0ff"/>
<text x="525.40" y="283.57" font-size="8.00" text-anchor="end">4</text>
<line x1="526.30" y1="280.81" x2="527.10" y2="280.81" stroke="#222" stroke-width="0.60"/>
<line x1="605.30" y1="280.81" x2="606.10" y2="280.81" stroke="#222" stroke-width="0.60"/>
<rect x="528.19" y="286.13" width="5.69" height="5.30" fill="#a6d0ff"/>
<rect x="607.51" y="286.13" width="35.02" height="5.30" fill="#a6d0ff"/>
<text x="525.40" y="291.54" font-size="8.00" text-anchor="end">5</text>
<line x1="526.30" y1="288.78" x2="527.10" y2="288.78" stroke="#222" stroke-width="0.60"/>
<line x1="605.30" y1="288.78" x2="606.10" y2="288.78" stroke="#222" stroke-width="0.60"/>
<rect x="528.19" y="294.10" width="7.78" height="5.30" fill="#a6d0ff"/>
<rect x="607.51" y="294.10" width="40.41" height="5.30" fill="#a6d0ff"/>
<text x="525.40" y="299.51" font-size="8.00" text-anchor="end">6</text>
<line x1="526.30" y1="296.75" x2="527.10" y2="296.75" stroke="#222" stroke-width="0.60"/>
<line x1="605.30" y1="296.75" x2="606.10" y2="296.75" stroke="#222" stroke-width="0.60"/>
<rect x="528.19" y="302.07" width="2.69" height="5.30" fill="#a6d0ff"/>
<rect x="607.51" y="302.07" width="36.52" height="5.30" fill="#a6d0ff"/>
<text x="525.40" y="307.48" font-size="8.00" text-anchor="end">7</text>
<line x1="526.30" y1="304.72" x2="527.10" y2="304.72" stroke="#222" stroke-width="0.60"/>
<line x1="605.30" y1="304.72" x2="606.10" y2="304.72" stroke="#222" stroke-width="0.60"/>
<rect x="528.19" y="310.04" width="30.23" height="5.30" fill="#a6d0ff"/>
<rect x="607.51" y="310.04" width="49.39" height="5.30" fill="#a6d0ff"/>
<text x="525.40" y="315.45" font-size="8.00" text-anchor="end">8</text>
<line x1="526.30" y1="312.69" x2="527.10" y2="312.69" stroke="#222" stroke-width="0.60"/>
<line x1="605.30" y1="312.69" x2="606.10" y2="312.69" stroke="#222" stroke-width="0.60"/>
<rect x="528.19" y="318.01" width="24.84" height="5.30" fill="#a6d0ff"/>
<rect x="607.51" y="318.01" width="47.59" height="5.30" fill="#a6d0ff"/>
<text x="525.40" y="323.42" font-size="8.00" text-anchor="end">9</text>
<line x1="526.30" y1="320.66" x2="527.10" y2="320.66" stroke="#222" stroke-width="0.60"/>
<line x1="605.30" y1="320.66" x2="606.10" y2="320.66" stroke="#222" stroke-width="0.60"/>
<rect x="528.19" y="325.98" width="17.06" height="5.30" fill="#a6d0ff"/>
<rect x="607.51" y="325.98" width="43.10" height="5.30" fill="#a6d0ff"/>
<text x="525.40" y="331.39" font-size="8.00" text-anchor="end">10</text>
<line x1="526.30" y1="328.63" x2="527.10" y2="328.63" stroke="#222" stroke-width="0.60"/>
<line x1="605.30" y1="328.63" x2="606.10" y2="328.63" stroke="#222" stroke-width="0.60"/>
<rect x="528.19" y="333.95" width="1.20" height="5.30" fill="#a6d0ff"/>
<rect x="607.51" y="333.95" width="32.33" height="5.30" fill="#a6d0ff"/>
<text x="525.40" y="339.36" font-size="8.00" text-anchor="end">11</text>
<line x1="526.30" y1="336.60" x2="527.10" y2="336.60" stroke="#222" stroke-width="0.60"/>
<line x1="605.30" y1="336.60" x2="606.10" y2="336.60" stroke="#222" stroke-width="0.60"/>
<rect x="528.19" y="341.92" width="4.79" height="5.30" fill="#a6d0ff"/>
<rect x="607.51" y="341.92" width="32.33" height="5.30" fill="#a6d0ff"/>
<text x="525.40" y="347.33" font-size="8.00" text-anchor="end">12</text>
<line x1="526.30" y1="344.57" x2="527.10" y2="344.57" stroke="#222" stroke-width="0.60"/>
<line x1="605.30" y1="344.57" x2="606.10" y2="344.57" stroke="#222" stroke-width="0.60"/>
<rect x="528.19" y="349.89" width="2.10" height="5.30" fill="#a6d0ff"/>
<rect x="607.51" y="349.89" width="35.62" height="5.30" fill="#a6d0ff"/>
<text x="525.40" y="355.30" font-size="8.00" text-anchor="end">13</text>
<line x1="526.30" y1="352.54" x2="527.10" y2="352.54" stroke="#222" stroke-width="0.60"/>
<line x1="605.30" y1="352.54" x2="606.10" y2="352.54" stroke="#222" stroke-width="0.60"/>
<rect x="528.19" y="357.86" width="8.08" height="5.30" fill="#a6d0ff"/>
<rect x="607.51" y="357.86" width="38.61" height="5.30" fill="#a6d0ff"/>
<text x="525.40" y="363.27" font-size="8.00" text-anchor="end">14</text>
<line x1="526.30" y1="360.51" x2="527.10" y2="360.51" stroke="#222" stroke-width="0.60"/>
<line x1="605.30" y1="360.51" x2="606.10" y2="360.51" stroke="#222" stroke-width="0.60"/>
<rect x="528.19" y="365.83" width="1.20" height="5.30" fill="#a6d0ff"/>
<rect x="607.51" y="365.83" width="22.15" height="5.30" fill="#a6d0ff"/>
<text x="525.40" y="371.24" font-size="8.00" text-anchor="end">15</text>
<line x1="526.30" y1="368.48" x2="527.10" y2="368.48" stroke="#222" stroke-width="0.60"/>
<line x1="605.30" y1="368.48" x2="606.10" y2="368.48" stroke="#222" stroke-width="0.60"/>
<line x1="528.19" y1="373.60" x2="582.07" y2="373.60" stroke="#222" stroke-width="0.80"/>
<line x1="528.19" y1="373.60" x2="528.19" y2="375.60" stroke="#222" stroke-width="0.70"/>
<text x="528.19" y="383.13" font-size="7.90" text-anchor="middle">0</text>
<line x1="546.45" y1="373.60" x2="546.45" y2="375.60" stroke="#222" stroke-width="0.70"/>
<text x="546.45" y="383.13" font-size="7.90" text-anchor="middle">100</text>
<line x1="564.41" y1="373.60" x2="564.41" y2="375.60" stroke="#222" stroke-width="0.70"/>
<text x="564.41" y="383.13" font-size="7.90" text-anchor="middle">200</text>
<line x1="582.07" y1="373.60" x2="582.07" y2="375.60" stroke="#222" stroke-width="0.70"/>
<text x="582.07" y="383.13" font-size="7.90" text-anchor="middle">300</text>
<line x1="607.51" y1="373.60" x2="660.78" y2="373.60" stroke="#222" stroke-width="0.80"/>
<line x1="607.51" y1="373.60" x2="607.51" y2="375.60" stroke="#222" stroke-width="0.70"/>
<text x="607.51" y="383.13" font-size="7.90" text-anchor="middle">0</text>
<line x1="625.47" y1="373.60" x2="625.47" y2="375.60" stroke="#222" stroke-width="0.70"/>
<text x="625.47" y="383.13" font-size="7.90" text-anchor="middle">100</text>
<line x1="643.42" y1="373.60" x2="643.42" y2="375.60" stroke="#222" stroke-width="0.70"/>
<text x="643.42" y="383.13" font-size="7.90" text-anchor="middle">200</text>
<line x1="660.78" y1="373.60" x2="660.78" y2="375.60" stroke="#222" stroke-width="0.70"/>
<text x="660.78" y="383.13" font-size="7.90" text-anchor="middle">300</text>
<text x="596.70" y="396.06" font-size="8.00" text-anchor="middle">Identified 9-mer immunopeptides</text>
<text transform="translate(508.40 309.80) rotate(-90)" y="2.16" font-size="8.00" text-anchor="middle">Fragment #</text>
<text x="559.60" y="240.36" font-size="8.00" text-anchor="middle">Data Dependent</text>
<text x="559.60" y="249.36" font-size="8.00" text-anchor="middle">Acquisition (DDA)</text>
<text x="639.00" y="240.36" font-size="8.00" text-anchor="middle">Data Independent</text>
<text x="639.00" y="249.36" font-size="8.00" text-anchor="middle">Acquisition (DIA)</text>
<!-- Panel H -->
<text x="1.25" y="484.00" font-size="8" font-weight="bold">H</text>
<path d="M111.9 488.6h0M93.8 523.9h0M101.5 523.4h0M128.0 540.2h0M97.5 542.7h0M86.6 551.9h0M98.8 549.9h0M108.2 553.9h0M59.8 558.9h0M124.3 558.9h0M90.3 560.6h0M94.0 562.6h0M98.3 561.3h0M119.8 565.1h0M54.1 569.8h0M103.2 568.5h0M64.0 573.0h0M81.4 572.3h0M92.8 571.3h0M117.4 571.3h0M56.8 579.2h0M72.2 578.0h0M85.8 575.5h0M91.3 575.5h0M103.2 578.5h0M81.4 581.2h0M97.0 582.9h0M83.4 585.4h0M88.3 586.7h0M89.6 588.4h0M66.5 589.1h0M69.2 588.4h0M108.7 585.4h0M113.1 588.6h0M95.3 592.9h0M81.4 593.4h0M82.9 594.8h0M78.4 596.6h0M71.7 596.1h0M69.7 597.3h0M76.4 599.1h0M80.1 599.6h0M85.3 598.3h0M89.6 600.3h0M91.3 602.3h0M88.3 603.3h0M67.2 600.8h0M61.0 603.3h0M102.0 598.3h0M105.7 599.8h0M106.9 601.5h0M76.4 606.0h0M77.9 609.0h0M61.0 609.0h0M98.8 613.2h0M92.8 614.7h0M107.7 612.2h0M77.7 620.2h0M82.6 624.4h0M63.0 626.9h0M73.9 627.1h0M105.7 618.9h0M111.9 620.2h0M115.1 621.9h0" stroke="#a8a8a8" stroke-width="2.60" stroke-linecap="round" fill="none"/>
<path d="M151.6 524.9h0M135.5 558.1h0M136.0 587.4h0M136.0 593.4h0M146.7 585.9h0M168.2 585.9h0M140.9 595.8h0M133.5 602.3h0M132.5 609.5h0M133.7 614.7h0M158.3 605.3h0M143.4 621.4h0" stroke="#ef1a8c" stroke-width="2.80" stroke-linecap="round" fill="none"/>
<line x1="130.52" y1="580.95" x2="135.49" y2="586.65" stroke="#222" stroke-width="0.55"/>
<line x1="140.95" y1="595.84" x2="145.41" y2="599.56" stroke="#222" stroke-width="0.55"/>
<text x="144.67" y="522.50" font-size="7.30">CTSD.3</text>
<text x="130.02" y="555.26" font-size="7.30">TPP1.3</text>
<text x="116.87" y="580.08" font-size="7.30">CTSD.1</text>
<text x="145.91" y="583.06" font-size="7.30">TPP1.4</text>
<text x="109.92" y="592.49" font-size="7.30">TPP1.1</text>
<text x="162.79" y="593.49" font-size="7.30">TPP1.2</text>
<text x="101.23" y="601.18" font-size="7.30">NUMA1.2</text>
<text x="146.65" y="601.68" font-size="7.30">TPP1.5</text>
<text x="100.24" y="609.37" font-size="7.30">NUMA1.1</text>
<text x="156.09" y="612.85" font-size="7.30">H1−2.1</text>
<text x="105.70" y="620.79" font-size="7.30">CTSD.5</text>
<text x="142.93" y="629.72" font-size="7.30">H2BC12.1</text>
<path d="M29.5 475.0V643.5H189.3" stroke="#111" stroke-width="1.00" fill="none"/>
<line x1="26.90" y1="474.90" x2="29.50" y2="474.90" stroke="#222" stroke-width="0.80"/>
<text x="26.00" y="477.75" font-size="7.40" text-anchor="end">5</text>
<line x1="26.90" y1="529.50" x2="29.50" y2="529.50" stroke="#222" stroke-width="0.80"/>
<text x="26.00" y="532.35" font-size="7.40" text-anchor="end">4</text>
<line x1="26.90" y1="585.00" x2="29.50" y2="585.00" stroke="#222" stroke-width="0.80"/>
<text x="26.00" y="587.85" font-size="7.40" text-anchor="end">3</text>
<line x1="26.90" y1="641.00" x2="29.50" y2="641.00" stroke="#222" stroke-width="0.80"/>
<text x="26.00" y="643.85" font-size="7.40" text-anchor="end">2</text>
<line x1="32.30" y1="643.50" x2="32.30" y2="646.10" stroke="#222" stroke-width="0.80"/>
<text x="32.30" y="655.35" font-size="7.40" text-anchor="middle">0.0</text>
<line x1="80.60" y1="643.50" x2="80.60" y2="646.10" stroke="#222" stroke-width="0.80"/>
<text x="80.60" y="655.35" font-size="7.40" text-anchor="middle">0.5</text>
<line x1="129.20" y1="643.50" x2="129.20" y2="646.10" stroke="#222" stroke-width="0.80"/>
<text x="129.20" y="655.35" font-size="7.40" text-anchor="middle">1.0</text>
<line x1="177.80" y1="643.50" x2="177.80" y2="646.10" stroke="#222" stroke-width="0.80"/>
<text x="177.80" y="655.35" font-size="7.40" text-anchor="middle">1.5</text>
<text x="106.00" y="665.88" font-size="7.50" text-anchor="middle">Variation in antigen copy numbers</text>
<text x="106.00" y="674.58" font-size="7.50" text-anchor="middle">across tumor fragments (IQR/mean)</text>
<text transform="translate(5.40 568.40) rotate(-90)" y="1.99" font-size="7.50" text-anchor="middle">log<tspan font-size="4.8" dy="1.8">10</tspan><tspan dy="-1.8"> mean antigen copy number</tspan></text>
<text transform="translate(15.00 568.40) rotate(-90)" y="1.99" font-size="7.50" text-anchor="middle">per cell (pseudo count)</text>
<!-- Panel I -->
<text x="203.60" y="484.00" font-size="8" font-weight="bold">I</text>
<path d="M287.3 533.8h0M302.2 533.8h0M303.7 541.5h0M315.9 535.0h0M324.1 535.8h0M295.5 548.2h0M289.3 551.4h0M304.2 551.9h0M327.8 553.1h0M265.2 556.1h0M294.3 558.6h0M298.0 559.4h0M306.7 558.6h0M329.0 556.4h0M281.9 560.6h0M279.4 564.8h0M279.9 566.8h0M302.2 566.3h0M307.2 565.1h0M312.9 568.5h0M314.9 564.3h0M317.9 563.1h0M322.8 546.9h0M269.5 570.5h0M261.5 572.3h0M271.2 572.3h0M289.3 574.2h0M291.8 576.7h0M290.6 578.5h0M301.0 576.0h0M302.2 572.5h0M312.2 570.5h0M326.5 574.2h0M334.7 578.0h0M271.9 579.2h0M281.9 581.2h0M311.7 578.5h0M313.6 580.4h0M309.2 582.9h0M285.1 586.7h0M304.2 587.4h0M314.9 586.7h0M317.9 587.2h0M325.3 590.4h0M301.0 589.1h0M276.9 593.6h0M293.5 592.4h0M298.0 593.4h0M299.7 596.6h0M305.0 593.4h0M322.1 596.1h0M339.7 592.9h0M342.7 598.3h0M342.2 576.0h0M288.8 607.8h0M298.7 605.8h0M305.9 606.5h0M334.0 564.3h0" stroke="#a8a8a8" stroke-width="2.60" stroke-linecap="round" fill="none"/>
<path d="M355.5 555.9h0M361.7 556.1h0M368.0 556.1h0M392.3 555.9h0M353.4 564.8h0M355.7 564.8h0M373.9 564.8h0M352.0 579.6h0M380.9 628.8h0" stroke="#dd2a9a" stroke-width="2.80" stroke-linecap="round" fill="none"/>
<path d="M296.3 495.3h0M294.8 508.5h0M316.1 528.9h0M311.4 532.4h0" stroke="#7ac943" stroke-width="2.80" stroke-linecap="round" fill="none"/>
<line x1="370.95" y1="545.04" x2="368.33" y2="555.20" stroke="#222" stroke-width="0.55"/>
<line x1="353.43" y1="552.57" x2="355.54" y2="555.55" stroke="#222" stroke-width="0.55"/>
<line x1="361.67" y1="556.43" x2="365.17" y2="559.93" stroke="#222" stroke-width="0.55"/>
<line x1="344.67" y1="566.41" x2="353.08" y2="564.84" stroke="#222" stroke-width="0.55"/>
<line x1="356.06" y1="565.19" x2="358.69" y2="568.69" stroke="#222" stroke-width="0.55"/>
<line x1="373.93" y1="565.19" x2="376.21" y2="567.81" stroke="#222" stroke-width="0.55"/>
<line x1="352.56" y1="579.73" x2="361.67" y2="582.18" stroke="#222" stroke-width="0.55"/>
<line x1="311.39" y1="532.42" x2="314.02" y2="536.28" stroke="#222" stroke-width="0.55"/>
<text x="293.78" y="492.47" font-size="7.30">PATJ.1</text>
<text x="289.32" y="505.62" font-size="7.30">SASH1.1</text>
<text x="311.40" y="526.31" font-size="7.30">THBS4.1</text>
<text x="309.60" y="542.91" font-size="7.30">POLR2A.1</text>
<text x="363.40" y="544.51" font-size="7.30">TPP1.4</text>
<text x="341.50" y="552.01" font-size="7.30">TPP1.1</text>
<text x="379.20" y="553.81" font-size="7.30">TPP1.2</text>
<text x="335.90" y="562.01" font-size="7.30">TPP1.3</text>
<text x="365.20" y="563.11" font-size="7.30">TPP1.5</text>
<text x="318.70" y="569.51" font-size="7.30">CTSD.5</text>
<text x="376.70" y="571.81" font-size="7.30">CTSD.3</text>
<text x="347.00" y="574.31" font-size="7.30">CTSD.1</text>
<text x="362.70" y="585.71" font-size="7.30">NUMA1.2</text>
<text x="323.10" y="588.31" font-size="7.30">NUMA1.1</text>
<text x="378.00" y="626.51" font-size="7.30">H1−2.1</text>
<path d="M233.5 476.9V643.5H404.4" stroke="#111" stroke-width="1.00" fill="none"/>
<line x1="230.90" y1="477.40" x2="233.50" y2="477.40" stroke="#222" stroke-width="0.80"/>
<text x="230.00" y="480.25" font-size="7.40" text-anchor="end">1.5</text>
<line x1="230.90" y1="532.20" x2="233.50" y2="532.20" stroke="#222" stroke-width="0.80"/>
<text x="230.00" y="535.05" font-size="7.40" text-anchor="end">1.0</text>
<line x1="230.90" y1="587.10" x2="233.50" y2="587.10" stroke="#222" stroke-width="0.80"/>
<text x="230.00" y="589.95" font-size="7.40" text-anchor="end">0.5</text>
<line x1="230.90" y1="641.70" x2="233.50" y2="641.70" stroke="#222" stroke-width="0.80"/>
<text x="230.00" y="644.55" font-size="7.40" text-anchor="end">0.0</text>
<line x1="237.40" y1="643.50" x2="237.40" y2="646.10" stroke="#222" stroke-width="0.80"/>
<text x="237.40" y="655.35" font-size="7.40" text-anchor="middle">0.0</text>
<line x1="292.60" y1="643.50" x2="292.60" y2="646.10" stroke="#222" stroke-width="0.80"/>
<text x="292.60" y="655.35" font-size="7.40" text-anchor="middle">0.5</text>
<line x1="348.20" y1="643.50" x2="348.20" y2="646.10" stroke="#222" stroke-width="0.80"/>
<text x="348.20" y="655.35" font-size="7.40" text-anchor="middle">1.0</text>
<line x1="403.40" y1="643.50" x2="403.40" y2="646.10" stroke="#222" stroke-width="0.80"/>
<text x="403.40" y="655.35" font-size="7.40" text-anchor="middle">1.5</text>
<text x="313.10" y="665.88" font-size="7.50" text-anchor="middle">Variation in antigen copy numbers</text>
<text x="313.10" y="674.58" font-size="7.50" text-anchor="middle">across tumor fragments (IQR/mean)</text>
<text transform="translate(203.90 564.90) rotate(-90)" y="1.99" font-size="7.50" text-anchor="middle">Variation in protein copy numbers</text>
<text transform="translate(212.60 564.90) rotate(-90)" y="1.99" font-size="7.50" text-anchor="middle">across tumor fragements (IQR/mean)</text>
<!-- Panel J -->
<text x="416.00" y="417.30" font-size="8" font-weight="bold">J</text>
<g stroke="#fff" stroke-width="0.45">
<rect x="424.30" y="422.10" width="9.68" height="9.90" fill="#fdc086"/>
<rect x="435.91" y="422.10" width="9.68" height="9.90" fill="#e26853"/>
<rect x="445.59" y="422.10" width="9.68" height="9.90" fill="#b51a47"/>
<rect x="457.20" y="422.10" width="9.68" height="9.90" fill="#84c2a6"/>
<rect x="466.88" y="422.10" width="9.68" height="9.90" fill="#4468b0"/>
<rect x="476.56" y="422.10" width="9.68" height="9.90" fill="#6fb2ab"/>
<rect x="488.17" y="422.10" width="9.68" height="9.90" fill="#d1eacb"/>
<rect x="499.78" y="422.10" width="9.68" height="9.90" fill="#e2f2df"/>
<rect x="509.46" y="422.10" width="9.68" height="9.90" fill="#9dd2a1"/>
<rect x="519.14" y="422.10" width="9.68" height="9.90" fill="#d1eacb"/>
<rect x="528.82" y="422.10" width="9.68" height="9.90" fill="#fdc086"/>
<rect x="538.50" y="422.10" width="9.68" height="9.90" fill="#fdc086"/>
<rect x="548.18" y="422.10" width="9.68" height="9.90" fill="#fee6d0"/>
<rect x="557.86" y="422.10" width="9.68" height="9.90" fill="#f3f9f1"/>
<rect x="567.54" y="422.10" width="9.68" height="9.90" fill="#fdd3a8"/>
<rect x="424.30" y="432.00" width="9.68" height="9.90" fill="#fdae61"/>
<rect x="435.91" y="432.00" width="9.68" height="9.90" fill="#fdae61"/>
<rect x="445.59" y="432.00" width="9.68" height="9.90" fill="#b51a47"/>
<rect x="457.20" y="432.00" width="9.68" height="9.90" fill="#84c2a6"/>
<rect x="466.88" y="432.00" width="9.68" height="9.90" fill="#4495ba"/>
<rect x="476.56" y="432.00" width="9.68" height="9.90" fill="#6fb2ab"/>
<rect x="488.17" y="432.00" width="9.68" height="9.90" fill="#f3f9f1"/>
<rect x="499.78" y="432.00" width="9.68" height="9.90" fill="#ffffff"/>
<rect x="509.46" y="432.00" width="9.68" height="9.90" fill="#5ba4b0"/>
<rect x="519.14" y="432.00" width="9.68" height="9.90" fill="#9dd2a1"/>
<rect x="528.82" y="432.00" width="9.68" height="9.90" fill="#fdc086"/>
<rect x="538.50" y="432.00" width="9.68" height="9.90" fill="#fdc086"/>
<rect x="548.18" y="432.00" width="9.68" height="9.90" fill="#e2f2df"/>
<rect x="557.86" y="432.00" width="9.68" height="9.90" fill="#f3f9f1"/>
<rect x="567.54" y="432.00" width="9.68" height="9.90" fill="#fdd3a8"/>
<rect x="424.30" y="441.90" width="9.68" height="9.90" fill="#ef8a5b"/>
<rect x="435.91" y="441.90" width="9.68" height="9.90" fill="#d6404e"/>
<rect x="445.59" y="441.90" width="9.68" height="9.90" fill="#b51a47"/>
<rect x="457.20" y="441.90" width="9.68" height="9.90" fill="#6fb2ab"/>
<rect x="466.88" y="441.90" width="9.68" height="9.90" fill="#84c2a6"/>
<rect x="476.56" y="441.90" width="9.68" height="9.90" fill="#84c2a6"/>
<rect x="488.17" y="441.90" width="9.68" height="9.90" fill="#e2f2df"/>
<rect x="499.78" y="441.90" width="9.68" height="9.90" fill="#d1eacb"/>
<rect x="509.46" y="441.90" width="9.68" height="9.90" fill="#5ba4b0"/>
<rect x="519.14" y="441.90" width="9.68" height="9.90" fill="#ffffff"/>
<rect x="528.82" y="441.90" width="9.68" height="9.90" fill="#f3f9f1"/>
<rect x="538.50" y="441.90" width="9.68" height="9.90" fill="#fef4ea"/>
<rect x="548.18" y="441.90" width="9.68" height="9.90" fill="#fdae61"/>
<rect x="557.86" y="441.90" width="9.68" height="9.90" fill="#b9e0b3"/>
<rect x="567.54" y="441.90" width="9.68" height="9.90" fill="#f3f9f1"/>
<rect x="424.30" y="451.80" width="9.68" height="9.90" fill="#b9e0b3"/>
<rect x="435.91" y="451.80" width="9.68" height="9.90" fill="#d6404e"/>
<rect x="445.59" y="451.80" width="9.68" height="9.90" fill="#d6404e"/>
<rect x="457.20" y="451.80" width="9.68" height="9.90" fill="#84c2a6"/>
<rect x="466.88" y="451.80" width="9.68" height="9.90" fill="#5954a4"/>
<rect x="476.56" y="451.80" width="9.68" height="9.90" fill="#6fb2ab"/>
<rect x="488.17" y="451.80" width="9.68" height="9.90" fill="#b9e0b3"/>
<rect x="499.78" y="451.80" width="9.68" height="9.90" fill="#f3f9f1"/>
<rect x="509.46" y="451.80" width="9.68" height="9.90" fill="#d1eacb"/>
<rect x="519.14" y="451.80" width="9.68" height="9.90" fill="#fee6d0"/>
<rect x="528.82" y="451.80" width="9.68" height="9.90" fill="#fdd3a8"/>
<rect x="538.50" y="451.80" width="9.68" height="9.90" fill="#fdc086"/>
<rect x="548.18" y="451.80" width="9.68" height="9.90" fill="#fdc086"/>
<rect x="557.86" y="451.80" width="9.68" height="9.90" fill="#fdd3a8"/>
<rect x="567.54" y="451.80" width="9.68" height="9.90" fill="#fdd3a8"/>
<rect x="424.30" y="461.70" width="9.68" height="9.90" fill="#9e0142"/>
<rect x="435.91" y="461.70" width="9.68" height="9.90" fill="#fdae61"/>
<rect x="445.59" y="461.70" width="9.68" height="9.90" fill="#ef8a5b"/>
<rect x="457.20" y="461.70" width="9.68" height="9.90" fill="#9dd2a1"/>
<rect x="466.88" y="461.70" width="9.68" height="9.90" fill="#3484be"/>
<rect x="476.56" y="461.70" width="9.68" height="9.90" fill="#84c2a6"/>
<rect x="488.17" y="461.70" width="9.68" height="9.90" fill="#d1eacb"/>
<rect x="499.78" y="461.70" width="9.68" height="9.90" fill="#b9e0b3"/>
<rect x="509.46" y="461.70" width="9.68" height="9.90" fill="#b9e0b3"/>
<rect x="519.14" y="461.70" width="9.68" height="9.90" fill="#d1eacb"/>
<rect x="528.82" y="461.70" width="9.68" height="9.90" fill="#ffffff"/>
<rect x="538.50" y="461.70" width="9.68" height="9.90" fill="#fdc086"/>
<rect x="548.18" y="461.70" width="9.68" height="9.90" fill="#fdd3a8"/>
<rect x="557.86" y="461.70" width="9.68" height="9.90" fill="#e2f2df"/>
<rect x="567.54" y="461.70" width="9.68" height="9.90" fill="#fee6d0"/>
<rect x="424.30" y="471.60" width="9.68" height="9.90" fill="#9e0142"/>
<rect x="435.91" y="471.60" width="9.68" height="9.90" fill="#fdae61"/>
<rect x="445.59" y="471.60" width="9.68" height="9.90" fill="#e26853"/>
<rect x="457.20" y="471.60" width="9.68" height="9.90" fill="#9dd2a1"/>
<rect x="466.88" y="471.60" width="9.68" height="9.90" fill="#3484be"/>
<rect x="476.56" y="471.60" width="9.68" height="9.90" fill="#6fb2ab"/>
<rect x="488.17" y="471.60" width="9.68" height="9.90" fill="#d1eacb"/>
<rect x="499.78" y="471.60" width="9.68" height="9.90" fill="#9dd2a1"/>
<rect x="509.46" y="471.60" width="9.68" height="9.90" fill="#d1eacb"/>
<rect x="519.14" y="471.60" width="9.68" height="9.90" fill="#fef4ea"/>
<rect x="528.82" y="471.60" width="9.68" height="9.90" fill="#fee6d0"/>
<rect x="538.50" y="471.60" width="9.68" height="9.90" fill="#f3f9f1"/>
<rect x="548.18" y="471.60" width="9.68" height="9.90" fill="#fee6d0"/>
<rect x="557.86" y="471.60" width="9.68" height="9.90" fill="#d1eacb"/>
<rect x="567.54" y="471.60" width="9.68" height="9.90" fill="#fdd3a8"/>
<rect x="424.30" y="481.50" width="9.68" height="9.90" fill="#ef8a5b"/>
<rect x="435.91" y="481.50" width="9.68" height="9.90" fill="#d6404e"/>
<rect x="445.59" y="481.50" width="9.68" height="9.90" fill="#e26853"/>
<rect x="457.20" y="481.50" width="9.68" height="9.90" fill="#9dd2a1"/>
<rect x="466.88" y="481.50" width="9.68" height="9.90" fill="#3484be"/>
<rect x="476.56" y="481.50" width="9.68" height="9.90" fill="#84c2a6"/>
<rect x="488.17" y="481.50" width="9.68" height="9.90" fill="#ef8a5b"/>
<rect x="499.78" y="481.50" width="9.68" height="9.90" fill="#e2f2df"/>
<rect x="509.46" y="481.50" width="9.68" height="9.90" fill="#5ba4b0"/>
<rect x="519.14" y="481.50" width="9.68" height="9.90" fill="#b9e0b3"/>
<rect x="528.82" y="481.50" width="9.68" height="9.90" fill="#b9e0b3"/>
<rect x="538.50" y="481.50" width="9.68" height="9.90" fill="#fdc086"/>
<rect x="548.18" y="481.50" width="9.68" height="9.90" fill="#fef4ea"/>
<rect x="557.86" y="481.50" width="9.68" height="9.90" fill="#d1eacb"/>
<rect x="567.54" y="481.50" width="9.68" height="9.90" fill="#fdc086"/>
<rect x="424.30" y="491.40" width="9.68" height="9.90" fill="#f3f9f1"/>
<rect x="435.91" y="491.40" width="9.68" height="9.90" fill="#e26853"/>
<rect x="445.59" y="491.40" width="9.68" height="9.90" fill="#b51a47"/>
<rect x="457.20" y="491.40" width="9.68" height="9.90" fill="#6fb2ab"/>
<rect x="466.88" y="491.40" width="9.68" height="9.90" fill="#3484be"/>
<rect x="476.56" y="491.40" width="9.68" height="9.90" fill="#5ba4b0"/>
<rect x="488.17" y="491.40" width="9.68" height="9.90" fill="#ef8a5b"/>
<rect x="499.78" y="491.40" width="9.68" height="9.90" fill="#b9e0b3"/>
<rect x="509.46" y="491.40" width="9.68" height="9.90" fill="#d1eacb"/>
<rect x="519.14" y="491.40" width="9.68" height="9.90" fill="#fee6d0"/>
<rect x="528.82" y="491.40" width="9.68" height="9.90" fill="#fdae61"/>
<rect x="538.50" y="491.40" width="9.68" height="9.90" fill="#e2f2df"/>
<rect x="548.18" y="491.40" width="9.68" height="9.90" fill="#ffffff"/>
<rect x="557.86" y="491.40" width="9.68" height="9.90" fill="#fee6d0"/>
<rect x="567.54" y="491.40" width="9.68" height="9.90" fill="#d1eacb"/>
<rect x="424.30" y="501.30" width="9.68" height="9.90" fill="#f3f9f1"/>
<rect x="435.91" y="501.30" width="9.68" height="9.90" fill="#e26853"/>
<rect x="445.59" y="501.30" width="9.68" height="9.90" fill="#b51a47"/>
<rect x="457.20" y="501.30" width="9.68" height="9.90" fill="#6fb2ab"/>
<rect x="466.88" y="501.30" width="9.68" height="9.90" fill="#3484be"/>
<rect x="476.56" y="501.30" width="9.68" height="9.90" fill="#5ba4b0"/>
<rect x="488.17" y="501.30" width="9.68" height="9.90" fill="#fdae61"/>
<rect x="499.78" y="501.30" width="9.68" height="9.90" fill="#b9e0b3"/>
<rect x="509.46" y="501.30" width="9.68" height="9.90" fill="#e2f2df"/>
<rect x="519.14" y="501.30" width="9.68" height="9.90" fill="#fee6d0"/>
<rect x="528.82" y="501.30" width="9.68" height="9.90" fill="#fdae61"/>
<rect x="538.50" y="501.30" width="9.68" height="9.90" fill="#f3f9f1"/>
<rect x="548.18" y="501.30" width="9.68" height="9.90" fill="#ffffff"/>
<rect x="557.86" y="501.30" width="9.68" height="9.90" fill="#fee6d0"/>
<rect x="567.54" y="501.30" width="9.68" height="9.90" fill="#b9e0b3"/>
<rect x="424.30" y="511.20" width="9.68" height="9.90" fill="#e2f2df"/>
<rect x="435.91" y="511.20" width="9.68" height="9.90" fill="#ef8a5b"/>
<rect x="445.59" y="511.20" width="9.68" height="9.90" fill="#b51a47"/>
<rect x="457.20" y="511.20" width="9.68" height="9.90" fill="#6fb2ab"/>
<rect x="466.88" y="511.20" width="9.68" height="9.90" fill="#3484be"/>
<rect x="476.56" y="511.20" width="9.68" height="9.90" fill="#3484be"/>
<rect x="488.17" y="511.20" width="9.68" height="9.90" fill="#ef8a5b"/>
<rect x="499.78" y="511.20" width="9.68" height="9.90" fill="#d1eacb"/>
<rect x="509.46" y="511.20" width="9.68" height="9.90" fill="#e2f2df"/>
<rect x="519.14" y="511.20" width="9.68" height="9.90" fill="#fee6d0"/>
<rect x="528.82" y="511.20" width="9.68" height="9.90" fill="#fdd3a8"/>
<rect x="538.50" y="511.20" width="9.68" height="9.90" fill="#ffffff"/>
<rect x="548.18" y="511.20" width="9.68" height="9.90" fill="#fef4ea"/>
<rect x="557.86" y="511.20" width="9.68" height="9.90" fill="#fdd3a8"/>
<rect x="567.54" y="511.20" width="9.68" height="9.90" fill="#e2f2df"/>
<rect x="424.30" y="521.10" width="9.68" height="9.90" fill="#f3f9f1"/>
<rect x="435.91" y="521.10" width="9.68" height="9.90" fill="#d6404e"/>
<rect x="445.59" y="521.10" width="9.68" height="9.90" fill="#e26853"/>
<rect x="457.20" y="521.10" width="9.68" height="9.90" fill="#fee6d0"/>
<rect x="466.88" y="521.10" width="9.68" height="9.90" fill="#5954a4"/>
<rect x="476.56" y="521.10" width="9.68" height="9.90" fill="#4495ba"/>
<rect x="488.17" y="521.10" width="9.68" height="9.90" fill="#b9e0b3"/>
<rect x="499.78" y="521.10" width="9.68" height="9.90" fill="#fdc086"/>
<rect x="509.46" y="521.10" width="9.68" height="9.90" fill="#e2f2df"/>
<rect x="519.14" y="521.10" width="9.68" height="9.90" fill="#fef4ea"/>
<rect x="528.82" y="521.10" width="9.68" height="9.90" fill="#f3f9f1"/>
<rect x="538.50" y="521.10" width="9.68" height="9.90" fill="#ffffff"/>
<rect x="548.18" y="521.10" width="9.68" height="9.90" fill="#ef8a5b"/>
<rect x="557.86" y="521.10" width="9.68" height="9.90" fill="#f3f9f1"/>
<rect x="567.54" y="521.10" width="9.68" height="9.90" fill="#e2f2df"/>
<rect x="424.30" y="531.00" width="9.68" height="9.90" fill="#ef8a5b"/>
<rect x="435.91" y="531.00" width="9.68" height="9.90" fill="#e26853"/>
<rect x="445.59" y="531.00" width="9.68" height="9.90" fill="#b51a47"/>
<rect x="457.20" y="531.00" width="9.68" height="9.90" fill="#fef4ea"/>
<rect x="466.88" y="531.00" width="9.68" height="9.90" fill="#4468b0"/>
<rect x="476.56" y="531.00" width="9.68" height="9.90" fill="#84c2a6"/>
<rect x="488.17" y="531.00" width="9.68" height="9.90" fill="#9dd2a1"/>
<rect x="499.78" y="531.00" width="9.68" height="9.90" fill="#9dd2a1"/>
<rect x="509.46" y="531.00" width="9.68" height="9.90" fill="#e2f2df"/>
<rect x="519.14" y="531.00" width="9.68" height="9.90" fill="#e2f2df"/>
<rect x="528.82" y="531.00" width="9.68" height="9.90" fill="#fdae61"/>
<rect x="538.50" y="531.00" width="9.68" height="9.90" fill="#fee6d0"/>
<rect x="548.18" y="531.00" width="9.68" height="9.90" fill="#fef4ea"/>
<rect x="557.86" y="531.00" width="9.68" height="9.90" fill="#f3f9f1"/>
<rect x="567.54" y="531.00" width="9.68" height="9.90" fill="#f3f9f1"/>
<rect x="424.30" y="540.90" width="9.68" height="9.90" fill="#d6404e"/>
<rect x="435.91" y="540.90" width="9.68" height="9.90" fill="#fdc086"/>
<rect x="445.59" y="540.90" width="9.68" height="9.90" fill="#e26853"/>
<rect x="457.20" y="540.90" width="9.68" height="9.90" fill="#5954a4"/>
<rect x="466.88" y="540.90" width="9.68" height="9.90" fill="#fef4ea"/>
<rect x="476.56" y="540.90" width="9.68" height="9.90" fill="#fee6d0"/>
<rect x="488.17" y="540.90" width="9.68" height="9.90" fill="#e2f2df"/>
<rect x="499.78" y="540.90" width="9.68" height="9.90" fill="#b9e0b3"/>
<rect x="509.46" y="540.90" width="9.68" height="9.90" fill="#bdbdbd"/>
<rect x="519.14" y="540.90" width="9.68" height="9.90" fill="#e2f2df"/>
<rect x="528.82" y="540.90" width="9.68" height="9.90" fill="#fdae61"/>
<rect x="538.50" y="540.90" width="9.68" height="9.90" fill="#fdc086"/>
<rect x="548.18" y="540.90" width="9.68" height="9.90" fill="#9dd2a1"/>
<rect x="557.86" y="540.90" width="9.68" height="9.90" fill="#6fb2ab"/>
<rect x="567.54" y="540.90" width="9.68" height="9.90" fill="#fef4ea"/>
<rect x="424.30" y="550.80" width="9.68" height="9.90" fill="#e2f2df"/>
<rect x="435.91" y="550.80" width="9.68" height="9.90" fill="#b9e0b3"/>
<rect x="445.59" y="550.80" width="9.68" height="9.90" fill="#e26853"/>
<rect x="457.20" y="550.80" width="9.68" height="9.90" fill="#fef4ea"/>
<rect x="466.88" y="550.80" width="9.68" height="9.90" fill="#bdbdbd"/>
<rect x="476.56" y="550.80" width="9.68" height="9.90" fill="#e2f2df"/>
<rect x="488.17" y="550.80" width="9.68" height="9.90" fill="#d6404e"/>
<rect x="499.78" y="550.80" width="9.68" height="9.90" fill="#3484be"/>
<rect x="509.46" y="550.80" width="9.68" height="9.90" fill="#bdbdbd"/>
<rect x="519.14" y="550.80" width="9.68" height="9.90" fill="#bdbdbd"/>
<rect x="528.82" y="550.80" width="9.68" height="9.90" fill="#e2f2df"/>
<rect x="538.50" y="550.80" width="9.68" height="9.90" fill="#ef8a5b"/>
<rect x="548.18" y="550.80" width="9.68" height="9.90" fill="#bdbdbd"/>
<rect x="557.86" y="550.80" width="9.68" height="9.90" fill="#e2f2df"/>
<rect x="567.54" y="550.80" width="9.68" height="9.90" fill="#6fb2ab"/>
<rect x="424.30" y="560.70" width="9.68" height="9.90" fill="#fdc086"/>
<rect x="435.91" y="560.70" width="9.68" height="9.90" fill="#ef8a5b"/>
<rect x="445.59" y="560.70" width="9.68" height="9.90" fill="#d6404e"/>
<rect x="457.20" y="560.70" width="9.68" height="9.90" fill="#4468b0"/>
<rect x="466.88" y="560.70" width="9.68" height="9.90" fill="#e2f2df"/>
<rect x="476.56" y="560.70" width="9.68" height="9.90" fill="#f3f9f1"/>
<rect x="488.17" y="560.70" width="9.68" height="9.90" fill="#b51a47"/>
<rect x="499.78" y="560.70" width="9.68" height="9.90" fill="#9dd2a1"/>
<rect x="509.46" y="560.70" width="9.68" height="9.90" fill="#9dd2a1"/>
<rect x="519.14" y="560.70" width="9.68" height="9.90" fill="#9dd2a1"/>
<rect x="528.82" y="560.70" width="9.68" height="9.90" fill="#fdc086"/>
<rect x="538.50" y="560.70" width="9.68" height="9.90" fill="#ffffff"/>
<rect x="548.18" y="560.70" width="9.68" height="9.90" fill="#fef4ea"/>
<rect x="557.86" y="560.70" width="9.68" height="9.90" fill="#b9e0b3"/>
<rect x="567.54" y="560.70" width="9.68" height="9.90" fill="#b9e0b3"/>
<rect x="424.30" y="570.60" width="9.68" height="9.90" fill="#bdbdbd"/>
<rect x="435.91" y="570.60" width="9.68" height="9.90" fill="#fee6d0"/>
<rect x="445.59" y="570.60" width="9.68" height="9.90" fill="#bdbdbd"/>
<rect x="457.20" y="570.60" width="9.68" height="9.90" fill="#bdbdbd"/>
<rect x="466.88" y="570.60" width="9.68" height="9.90" fill="#84c2a6"/>
<rect x="476.56" y="570.60" width="9.68" height="9.90" fill="#bdbdbd"/>
<rect x="488.17" y="570.60" width="9.68" height="9.90" fill="#e26853"/>
<rect x="499.78" y="570.60" width="9.68" height="9.90" fill="#bdbdbd"/>
<rect x="509.46" y="570.60" width="9.68" height="9.90" fill="#bdbdbd"/>
<rect x="519.14" y="570.60" width="9.68" height="9.90" fill="#bdbdbd"/>
<rect x="528.82" y="570.60" width="9.68" height="9.90" fill="#bdbdbd"/>
<rect x="538.50" y="570.60" width="9.68" height="9.90" fill="#bdbdbd"/>
<rect x="548.18" y="570.60" width="9.68" height="9.90" fill="#bdbdbd"/>
<rect x="557.86" y="570.60" width="9.68" height="9.90" fill="#b9e0b3"/>
<rect x="567.54" y="570.60" width="9.68" height="9.90" fill="#bdbdbd"/>
<rect x="424.30" y="580.50" width="9.68" height="9.90" fill="#bdbdbd"/>
<rect x="435.91" y="580.50" width="9.68" height="9.90" fill="#fef4ea"/>
<rect x="445.59" y="580.50" width="9.68" height="9.90" fill="#ef8a5b"/>
<rect x="457.20" y="580.50" width="9.68" height="9.90" fill="#e2f2df"/>
<rect x="466.88" y="580.50" width="9.68" height="9.90" fill="#bdbdbd"/>
<rect x="476.56" y="580.50" width="9.68" height="9.90" fill="#fdd3a8"/>
<rect x="488.17" y="580.50" width="9.68" height="9.90" fill="#bdbdbd"/>
<rect x="499.78" y="580.50" width="9.68" height="9.90" fill="#6fb2ab"/>
<rect x="509.46" y="580.50" width="9.68" height="9.90" fill="#bdbdbd"/>
<rect x="519.14" y="580.50" width="9.68" height="9.90" fill="#4468b0"/>
<rect x="528.82" y="580.50" width="9.68" height="9.90" fill="#bdbdbd"/>
<rect x="538.50" y="580.50" width="9.68" height="9.90" fill="#bdbdbd"/>
<rect x="548.18" y="580.50" width="9.68" height="9.90" fill="#ef8a5b"/>
<rect x="557.86" y="580.50" width="9.68" height="9.90" fill="#fdc086"/>
<rect x="567.54" y="580.50" width="9.68" height="9.90" fill="#bdbdbd"/>
<rect x="424.30" y="590.40" width="9.68" height="9.90" fill="#bdbdbd"/>
<rect x="435.91" y="590.40" width="9.68" height="9.90" fill="#e2f2df"/>
<rect x="445.59" y="590.40" width="9.68" height="9.90" fill="#bdbdbd"/>
<rect x="457.20" y="590.40" width="9.68" height="9.90" fill="#bdbdbd"/>
<rect x="466.88" y="590.40" width="9.68" height="9.90" fill="#bdbdbd"/>
<rect x="476.56" y="590.40" width="9.68" height="9.90" fill="#bdbdbd"/>
<rect x="488.17" y="590.40" width="9.68" height="9.90" fill="#e26853"/>
<rect x="499.78" y="590.40" width="9.68" height="9.90" fill="#bdbdbd"/>
<rect x="509.46" y="590.40" width="9.68" height="9.90" fill="#bdbdbd"/>
<rect x="519.14" y="590.40" width="9.68" height="9.90" fill="#bdbdbd"/>
<rect x="528.82" y="590.40" width="9.68" height="9.90" fill="#bdbdbd"/>
<rect x="538.50" y="590.40" width="9.68" height="9.90" fill="#6fb2ab"/>
<rect x="548.18" y="590.40" width="9.68" height="9.90" fill="#bdbdbd"/>
<rect x="557.86" y="590.40" width="9.68" height="9.90" fill="#fee6d0"/>
<rect x="567.54" y="590.40" width="9.68" height="9.90" fill="#bdbdbd"/>
<rect x="424.30" y="600.30" width="9.68" height="9.90" fill="#ef8a5b"/>
<rect x="435.91" y="600.30" width="9.68" height="9.90" fill="#fdc086"/>
<rect x="445.59" y="600.30" width="9.68" height="9.90" fill="#d6404e"/>
<rect x="457.20" y="600.30" width="9.68" height="9.90" fill="#4468b0"/>
<rect x="466.88" y="600.30" width="9.68" height="9.90" fill="#84c2a6"/>
<rect x="476.56" y="600.30" width="9.68" height="9.90" fill="#84c2a6"/>
<rect x="488.17" y="600.30" width="9.68" height="9.90" fill="#d6404e"/>
<rect x="499.78" y="600.30" width="9.68" height="9.90" fill="#5ba4b0"/>
<rect x="509.46" y="600.30" width="9.68" height="9.90" fill="#b9e0b3"/>
<rect x="519.14" y="600.30" width="9.68" height="9.90" fill="#ffffff"/>
<rect x="528.82" y="600.30" width="9.68" height="9.90" fill="#fdae61"/>
<rect x="538.50" y="600.30" width="9.68" height="9.90" fill="#ffffff"/>
<rect x="548.18" y="600.30" width="9.68" height="9.90" fill="#fee6d0"/>
<rect x="557.86" y="600.30" width="9.68" height="9.90" fill="#f3f9f1"/>
<rect x="567.54" y="600.30" width="9.68" height="9.90" fill="#e2f2df"/>
<rect x="424.30" y="610.20" width="9.68" height="9.90" fill="#bdbdbd"/>
<rect x="435.91" y="610.20" width="9.68" height="9.90" fill="#e26853"/>
<rect x="445.59" y="610.20" width="9.68" height="9.90" fill="#d6404e"/>
<rect x="457.20" y="610.20" width="9.68" height="9.90" fill="#9dd2a1"/>
<rect x="466.88" y="610.20" width="9.68" height="9.90" fill="#4495ba"/>
<rect x="476.56" y="610.20" width="9.68" height="9.90" fill="#6fb2ab"/>
<rect x="488.17" y="610.20" width="9.68" height="9.90" fill="#6fb2ab"/>
<rect x="499.78" y="610.20" width="9.68" height="9.90" fill="#b9e0b3"/>
<rect x="509.46" y="610.20" width="9.68" height="9.90" fill="#fdd3a8"/>
<rect x="519.14" y="610.20" width="9.68" height="9.90" fill="#fdd3a8"/>
<rect x="528.82" y="610.20" width="9.68" height="9.90" fill="#d1eacb"/>
<rect x="538.50" y="610.20" width="9.68" height="9.90" fill="#fdc086"/>
<rect x="548.18" y="610.20" width="9.68" height="9.90" fill="#d6404e"/>
<rect x="557.86" y="610.20" width="9.68" height="9.90" fill="#d1eacb"/>
<rect x="567.54" y="610.20" width="9.68" height="9.90" fill="#fef4ea"/>
<rect x="424.30" y="620.10" width="9.68" height="9.90" fill="#e26853"/>
<rect x="435.91" y="620.10" width="9.68" height="9.90" fill="#b9e0b3"/>
<rect x="445.59" y="620.10" width="9.68" height="9.90" fill="#ef8a5b"/>
<rect x="457.20" y="620.10" width="9.68" height="9.90" fill="#bdbdbd"/>
<rect x="466.88" y="620.10" width="9.68" height="9.90" fill="#f3f9f1"/>
<rect x="476.56" y="620.10" width="9.68" height="9.90" fill="#84c2a6"/>
<rect x="488.17" y="620.10" width="9.68" height="9.90" fill="#bdbdbd"/>
<rect x="499.78" y="620.10" width="9.68" height="9.90" fill="#bdbdbd"/>
<rect x="509.46" y="620.10" width="9.68" height="9.90" fill="#bdbdbd"/>
<rect x="519.14" y="620.10" width="9.68" height="9.90" fill="#bdbdbd"/>
<rect x="528.82" y="620.10" width="9.68" height="9.90" fill="#fdae61"/>
<rect x="538.50" y="620.10" width="9.68" height="9.90" fill="#f3f9f1"/>
<rect x="548.18" y="620.10" width="9.68" height="9.90" fill="#bdbdbd"/>
<rect x="557.86" y="620.10" width="9.68" height="9.90" fill="#bdbdbd"/>
<rect x="567.54" y="620.10" width="9.68" height="9.90" fill="#3484be"/>
<rect x="424.30" y="633.00" width="9.68" height="24.40" fill="#f7fcf5"/>
<rect x="435.91" y="633.00" width="9.68" height="24.40" fill="#a6d586"/>
<rect x="445.59" y="633.00" width="9.68" height="24.40" fill="#f7fcf5"/>
<rect x="457.20" y="633.00" width="9.68" height="24.40" fill="#a2d380"/>
<rect x="466.88" y="633.00" width="9.68" height="24.40" fill="#aed98f"/>
<rect x="476.56" y="633.00" width="9.68" height="24.40" fill="#f7fcf5"/>
<rect x="488.17" y="633.00" width="9.68" height="24.40" fill="#78b843"/>
<rect x="499.78" y="633.00" width="9.68" height="24.40" fill="#f7fcf5"/>
<rect x="509.46" y="633.00" width="9.68" height="24.40" fill="#f7fcf5"/>
<rect x="519.14" y="633.00" width="9.68" height="24.40" fill="#e5f3db"/>
<rect x="528.82" y="633.00" width="9.68" height="24.40" fill="#b3db96"/>
<rect x="538.50" y="633.00" width="9.68" height="24.40" fill="#f7fcf5"/>
<rect x="548.18" y="633.00" width="9.68" height="24.40" fill="#d9eecb"/>
<rect x="557.86" y="633.00" width="9.68" height="24.40" fill="#f0f8ea"/>
<rect x="567.54" y="633.00" width="9.68" height="24.40" fill="#cfe9be"/>
</g>
<text x="581.50" y="429.51" font-size="8.00">HLA−A</text>
<text x="581.50" y="439.41" font-size="8.00">HLA−B</text>
<text x="581.50" y="449.31" font-size="8.00">HLA−C</text>
<text x="581.50" y="459.21" font-size="8.00">B2M</text>
<text x="581.50" y="469.11" font-size="8.00">TAP1</text>
<text x="581.50" y="479.01" font-size="8.00">TAP2</text>
<text x="581.50" y="488.91" font-size="8.00">TAPBP</text>
<text x="581.50" y="498.81" font-size="8.00">HLA−DRB1</text>
<text x="581.50" y="508.71" font-size="8.00">HLA−DRB5</text>
<text x="581.50" y="518.61" font-size="8.00">HLA−DRB3</text>
<text x="581.50" y="528.51" font-size="8.00">HLA−DRA</text>
<text x="581.50" y="538.41" font-size="8.00">IFNGR1</text>
<text x="581.50" y="548.31" font-size="8.00">CD8A</text>
<text x="581.50" y="558.21" font-size="8.00">CD4</text>
<text x="581.50" y="568.11" font-size="8.00">CD44</text>
<text x="581.50" y="578.01" font-size="8.00">GZMK</text>
<text x="581.50" y="587.91" font-size="8.00">GZMH</text>
<text x="581.50" y="597.81" font-size="8.00">GZMA</text>
<text x="581.50" y="607.71" font-size="8.00">PTPRC (CD45)</text>
<text x="581.50" y="617.61" font-size="8.00">CD274 (PD−L1)</text>
<text x="581.50" y="627.51" font-size="8.00">LAG3</text>
<text transform="translate(429.24 645.10) rotate(90)" y="1.88" font-size="7.20" text-anchor="middle">−0.00</text>
<text transform="translate(429.14 661.3) rotate(90)" y="2.40" font-size="8">fragment 1</text>
<text transform="translate(440.85 645.10) rotate(90)" y="1.88" font-size="7.20" text-anchor="middle">0.39</text>
<text transform="translate(440.75 661.3) rotate(90)" y="2.40" font-size="8">fragment 3</text>
<text transform="translate(450.53 645.10) rotate(90)" y="1.88" font-size="7.20" text-anchor="middle">−0.04</text>
<text transform="translate(450.43 661.3) rotate(90)" y="2.40" font-size="8">fragment 5</text>
<text transform="translate(462.14 645.10) rotate(90)" y="1.88" font-size="7.20" text-anchor="middle">0.40</text>
<text transform="translate(462.04 661.3) rotate(90)" y="2.40" font-size="8">fragment 13</text>
<text transform="translate(471.82 645.10) rotate(90)" y="1.88" font-size="7.20" text-anchor="middle">0.35</text>
<text transform="translate(471.72 661.3) rotate(90)" y="2.40" font-size="8">fragment 11</text>
<text transform="translate(481.50 645.10) rotate(90)" y="1.88" font-size="7.20" text-anchor="middle">−0.06</text>
<text transform="translate(481.40 661.3) rotate(90)" y="2.40" font-size="8">fragment 12</text>
<text transform="translate(493.11 645.10) rotate(90)" y="1.88" font-size="7.20" text-anchor="middle">0.61</text>
<text transform="translate(493.01 661.3) rotate(90)" y="2.40" font-size="8">fragment 15</text>
<text transform="translate(504.72 645.10) rotate(90)" y="1.88" font-size="7.20" text-anchor="middle">−0.06</text>
<text transform="translate(504.62 661.3) rotate(90)" y="2.40" font-size="8">fragment 2</text>
<text transform="translate(514.40 645.10) rotate(90)" y="1.88" font-size="7.20" text-anchor="middle">−0.06</text>
<text transform="translate(514.30 661.3) rotate(90)" y="2.40" font-size="8">fragment 9</text>
<text transform="translate(524.08 645.10) rotate(90)" y="1.88" font-size="7.20" text-anchor="middle">0.09</text>
<text transform="translate(523.98 661.3) rotate(90)" y="2.40" font-size="8">fragment 8</text>
<text transform="translate(533.76 645.10) rotate(90)" y="1.88" font-size="7.20" text-anchor="middle">0.33</text>
<text transform="translate(533.66 661.3) rotate(90)" y="2.40" font-size="8">fragment 7</text>
<text transform="translate(543.44 645.10) rotate(90)" y="1.88" font-size="7.20" text-anchor="middle">−0.02</text>
<text transform="translate(543.34 661.3) rotate(90)" y="2.40" font-size="8">fragment 6</text>
<text transform="translate(553.12 645.10) rotate(90)" y="1.88" font-size="7.20" text-anchor="middle">0.14</text>
<text transform="translate(553.02 661.3) rotate(90)" y="2.40" font-size="8">fragment 4</text>
<text transform="translate(562.80 645.10) rotate(90)" y="1.88" font-size="7.20" text-anchor="middle">0.03</text>
<text transform="translate(562.70 661.3) rotate(90)" y="2.40" font-size="8">fragment 10</text>
<text transform="translate(572.48 645.10) rotate(90)" y="1.88" font-size="7.20" text-anchor="middle">0.19</text>
<text transform="translate(572.38 661.3) rotate(90)" y="2.40" font-size="8">fragment 14</text>
<text x="585.30" y="641.66" font-size="8.00">Correlation</text>
<text x="585.30" y="649.56" font-size="8.00">proteome vs.</text>
<text x="585.30" y="657.46" font-size="8.00">immunopeptidome</text>
<path d="M440.8 420.6V416.6H450.4V420.6M429.1 420.6V415.2H445.6V416.6M471.7 420.6V417.3H481.4V420.6M462.0 420.6V415.7H476.6V417.3M562.7 420.6V419.0H572.4V420.6M553.0 420.6V418.6H567.5V419.0M543.3 420.6V418.2H560.3V418.6M533.7 420.6V417.8H551.8V418.2M524.0 420.6V417.4H542.7V417.8M514.3 420.6V417.0H533.4V417.4M504.6 420.6V416.6H523.8V417.0M493.0 420.6V416.0H532.0V416.6M469.3 415.7V414.5H512.5V416.0M437.4 415.2V411.5H490.9V414.5" stroke="#3a3a3a" stroke-width="0.60" fill="none"/>
<text x="633.70" y="423.66" font-size="8.00">Row</text>
<text x="633.70" y="433.43" font-size="8.00">Z-score</text>
<text x="633.70" y="443.20" font-size="8.00">protein</text>
<text x="633.70" y="452.97" font-size="8.00">abundance</text>
<defs><linearGradient id="gJ" x1="0" y1="0" x2="0" y2="1"><stop offset="0" stop-color="#9e0142"/><stop offset="0.08" stop-color="#b51a47"/><stop offset="0.2" stop-color="#e26853"/><stop offset="0.32" stop-color="#fdae61"/><stop offset="0.42" stop-color="#fee6d0"/><stop offset="0.5" stop-color="#ffffff"/><stop offset="0.6" stop-color="#d1eacb"/><stop offset="0.7" stop-color="#9dd2a1"/><stop offset="0.8" stop-color="#5ba4b0"/><stop offset="0.9" stop-color="#3484be"/><stop offset="1" stop-color="#5e4fa2"/></linearGradient><linearGradient id="gP" x1="0" y1="0" x2="0" y2="1"><stop offset="0" stop-color="#7ab845"/><stop offset="1" stop-color="#ffffff"/></linearGradient></defs>
<rect x="646.80" y="459.80" width="8.20" height="65.30" fill="url(#gJ)"/>
<text x="656.80" y="467.86" font-size="8.00">2</text>
<text x="656.80" y="481.86" font-size="8.00">1</text>
<text x="656.80" y="495.56" font-size="8.00">0</text>
<text x="656.80" y="509.66" font-size="8.00">−1</text>
<text x="656.80" y="523.36" font-size="8.00">−2</text>
<text x="643.50" y="542.86" font-size="8.00">Pearson</text>
<text x="643.50" y="552.46" font-size="8.00">correlation</text>
<text x="643.50" y="562.06" font-size="8.00">coefficient</text>
<rect x="647.50" y="570.50" width="8.50" height="32.50" fill="url(#gP)"/>
<text x="659.90" y="573.96" font-size="8.00">0.6</text>
<text x="659.90" y="584.06" font-size="8.00">0.4</text>
<text x="659.90" y="594.16" font-size="8.00">0.2</text>
<text x="659.90" y="604.26" font-size="8.00">0</text>
</svg>
</body></html>
